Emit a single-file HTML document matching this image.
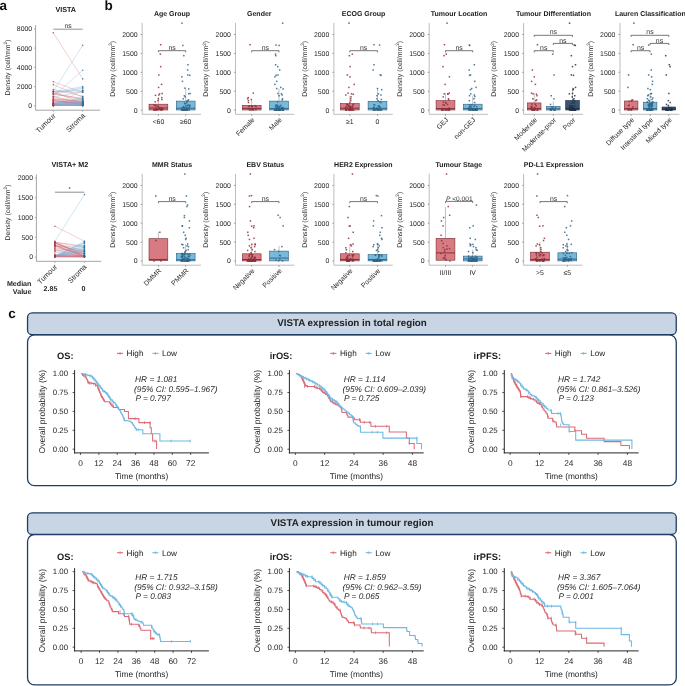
<!DOCTYPE html>
<html><head><meta charset="utf-8"><style>
html,body{margin:0;padding:0;background:#fff;width:685px;height:686px;overflow:hidden;}
svg{display:block;font-family:"Liberation Sans", sans-serif;will-change:transform;text-rendering:geometricPrecision;}
</style></head><body>
<svg width="685" height="686" viewBox="0 0 685 686" font-family="Liberation Sans, sans-serif"><text x="-0.50" y="10.20" font-size="13.5" fill="#111" text-anchor="start" font-weight="bold">a</text>
<text x="104.50" y="10.20" font-size="13.5" fill="#111" text-anchor="start" font-weight="bold">b</text>
<text x="8.30" y="318.30" font-size="13.5" fill="#111" text-anchor="start" font-weight="bold">c</text>
<line x1="35.60" y1="25.20" x2="35.60" y2="110.20" stroke="#9a9a9a" stroke-width="0.9"/>
<line x1="35.60" y1="110.20" x2="100.20" y2="110.20" stroke="#9a9a9a" stroke-width="0.9"/>
<line x1="34.00" y1="105.80" x2="35.60" y2="105.80" stroke="#9a9a9a" stroke-width="0.8"/>
<text x="32.20" y="108.25" font-size="6.9" fill="#262626" text-anchor="end">0</text>
<line x1="34.00" y1="86.57" x2="35.60" y2="86.57" stroke="#9a9a9a" stroke-width="0.8"/>
<text x="32.20" y="89.02" font-size="6.9" fill="#262626" text-anchor="end">2000</text>
<line x1="34.00" y1="67.35" x2="35.60" y2="67.35" stroke="#9a9a9a" stroke-width="0.8"/>
<text x="32.20" y="69.80" font-size="6.9" fill="#262626" text-anchor="end">4000</text>
<line x1="34.00" y1="48.12" x2="35.60" y2="48.12" stroke="#9a9a9a" stroke-width="0.8"/>
<text x="32.20" y="50.57" font-size="6.9" fill="#262626" text-anchor="end">6000</text>
<line x1="34.00" y1="28.90" x2="35.60" y2="28.90" stroke="#9a9a9a" stroke-width="0.8"/>
<text x="32.20" y="31.35" font-size="6.9" fill="#262626" text-anchor="end">8000</text>
<line x1="53.30" y1="110.20" x2="53.30" y2="111.80" stroke="#9a9a9a" stroke-width="0.8"/>
<line x1="82.70" y1="110.20" x2="82.70" y2="111.80" stroke="#9a9a9a" stroke-width="0.8"/>
<text x="65.70" y="12.40" font-size="7.2" fill="#1a1a1a" text-anchor="middle" font-weight="bold">VISTA</text>
<line x1="53.30" y1="32.74" x2="82.70" y2="78.88" stroke="#de6f78" stroke-width="0.45" stroke-opacity="0.75"/>
<line x1="53.30" y1="91.38" x2="82.70" y2="45.24" stroke="#6db8e2" stroke-width="0.45" stroke-opacity="0.75"/>
<line x1="53.30" y1="96.19" x2="82.70" y2="70.23" stroke="#6db8e2" stroke-width="0.45" stroke-opacity="0.75"/>
<line x1="53.30" y1="81.77" x2="82.70" y2="92.34" stroke="#de6f78" stroke-width="0.45" stroke-opacity="0.75"/>
<line x1="53.30" y1="84.65" x2="82.70" y2="97.15" stroke="#de6f78" stroke-width="0.45" stroke-opacity="0.75"/>
<line x1="53.30" y1="89.46" x2="82.70" y2="96.19" stroke="#de6f78" stroke-width="0.45" stroke-opacity="0.75"/>
<line x1="53.30" y1="91.86" x2="82.70" y2="86.57" stroke="#6db8e2" stroke-width="0.45" stroke-opacity="0.75"/>
<line x1="53.30" y1="93.30" x2="82.70" y2="87.54" stroke="#6db8e2" stroke-width="0.45" stroke-opacity="0.75"/>
<line x1="53.30" y1="94.27" x2="82.70" y2="88.50" stroke="#6db8e2" stroke-width="0.45" stroke-opacity="0.75"/>
<line x1="53.30" y1="97.15" x2="82.70" y2="91.38" stroke="#6db8e2" stroke-width="0.45" stroke-opacity="0.75"/>
<line x1="53.30" y1="103.60" x2="82.70" y2="102.49" stroke="#6db8e2" stroke-width="0.45" stroke-opacity="0.75"/>
<line x1="53.30" y1="96.38" x2="82.70" y2="103.27" stroke="#de6f78" stroke-width="0.45" stroke-opacity="0.75"/>
<line x1="53.30" y1="103.21" x2="82.70" y2="102.23" stroke="#6db8e2" stroke-width="0.45" stroke-opacity="0.75"/>
<line x1="53.30" y1="105.05" x2="82.70" y2="102.90" stroke="#6db8e2" stroke-width="0.45" stroke-opacity="0.75"/>
<line x1="53.30" y1="102.17" x2="82.70" y2="99.44" stroke="#6db8e2" stroke-width="0.45" stroke-opacity="0.75"/>
<line x1="53.30" y1="105.44" x2="82.70" y2="104.34" stroke="#6db8e2" stroke-width="0.45" stroke-opacity="0.75"/>
<line x1="53.30" y1="105.45" x2="82.70" y2="99.10" stroke="#6db8e2" stroke-width="0.45" stroke-opacity="0.75"/>
<line x1="53.30" y1="101.48" x2="82.70" y2="105.63" stroke="#de6f78" stroke-width="0.45" stroke-opacity="0.75"/>
<line x1="53.30" y1="91.38" x2="82.70" y2="92.29" stroke="#de6f78" stroke-width="0.45" stroke-opacity="0.75"/>
<line x1="53.30" y1="101.92" x2="82.70" y2="101.94" stroke="#de6f78" stroke-width="0.45" stroke-opacity="0.75"/>
<line x1="53.30" y1="105.17" x2="82.70" y2="105.74" stroke="#de6f78" stroke-width="0.45" stroke-opacity="0.75"/>
<line x1="53.30" y1="103.05" x2="82.70" y2="105.55" stroke="#de6f78" stroke-width="0.45" stroke-opacity="0.75"/>
<line x1="53.30" y1="105.03" x2="82.70" y2="104.68" stroke="#6db8e2" stroke-width="0.45" stroke-opacity="0.75"/>
<line x1="53.30" y1="105.69" x2="82.70" y2="103.28" stroke="#6db8e2" stroke-width="0.45" stroke-opacity="0.75"/>
<line x1="53.30" y1="103.68" x2="82.70" y2="98.34" stroke="#6db8e2" stroke-width="0.45" stroke-opacity="0.75"/>
<line x1="53.30" y1="103.13" x2="82.70" y2="101.67" stroke="#6db8e2" stroke-width="0.45" stroke-opacity="0.75"/>
<line x1="53.30" y1="103.27" x2="82.70" y2="101.42" stroke="#6db8e2" stroke-width="0.45" stroke-opacity="0.75"/>
<line x1="53.30" y1="103.57" x2="82.70" y2="104.48" stroke="#de6f78" stroke-width="0.45" stroke-opacity="0.75"/>
<line x1="53.30" y1="91.38" x2="82.70" y2="90.42" stroke="#6db8e2" stroke-width="0.45" stroke-opacity="0.75"/>
<line x1="53.30" y1="99.10" x2="82.70" y2="100.83" stroke="#de6f78" stroke-width="0.45" stroke-opacity="0.75"/>
<line x1="53.30" y1="104.42" x2="82.70" y2="104.75" stroke="#de6f78" stroke-width="0.45" stroke-opacity="0.75"/>
<line x1="53.30" y1="104.55" x2="82.70" y2="105.51" stroke="#de6f78" stroke-width="0.45" stroke-opacity="0.75"/>
<line x1="53.30" y1="100.49" x2="82.70" y2="103.73" stroke="#de6f78" stroke-width="0.45" stroke-opacity="0.75"/>
<line x1="53.30" y1="98.95" x2="82.70" y2="103.83" stroke="#de6f78" stroke-width="0.45" stroke-opacity="0.75"/>
<line x1="53.30" y1="94.22" x2="82.70" y2="98.21" stroke="#de6f78" stroke-width="0.45" stroke-opacity="0.75"/>
<line x1="53.30" y1="105.80" x2="82.70" y2="104.85" stroke="#6db8e2" stroke-width="0.45" stroke-opacity="0.75"/>
<line x1="53.30" y1="96.99" x2="82.70" y2="103.24" stroke="#de6f78" stroke-width="0.45" stroke-opacity="0.75"/>
<line x1="53.30" y1="91.44" x2="82.70" y2="103.75" stroke="#de6f78" stroke-width="0.45" stroke-opacity="0.75"/>
<line x1="53.30" y1="105.52" x2="82.70" y2="101.79" stroke="#6db8e2" stroke-width="0.45" stroke-opacity="0.75"/>
<line x1="53.30" y1="100.29" x2="82.70" y2="104.53" stroke="#de6f78" stroke-width="0.45" stroke-opacity="0.75"/>
<line x1="53.30" y1="105.47" x2="82.70" y2="104.17" stroke="#6db8e2" stroke-width="0.45" stroke-opacity="0.75"/>
<line x1="53.30" y1="93.65" x2="82.70" y2="100.07" stroke="#de6f78" stroke-width="0.45" stroke-opacity="0.75"/>
<line x1="53.30" y1="105.34" x2="82.70" y2="104.66" stroke="#6db8e2" stroke-width="0.45" stroke-opacity="0.75"/>
<line x1="53.30" y1="105.41" x2="82.70" y2="105.55" stroke="#de6f78" stroke-width="0.45" stroke-opacity="0.75"/>
<line x1="53.30" y1="99.98" x2="82.70" y2="105.01" stroke="#de6f78" stroke-width="0.45" stroke-opacity="0.75"/>
<line x1="53.30" y1="102.81" x2="82.70" y2="103.41" stroke="#de6f78" stroke-width="0.45" stroke-opacity="0.75"/>
<line x1="53.30" y1="105.03" x2="82.70" y2="100.49" stroke="#6db8e2" stroke-width="0.45" stroke-opacity="0.75"/>
<line x1="53.30" y1="105.29" x2="82.70" y2="101.63" stroke="#6db8e2" stroke-width="0.45" stroke-opacity="0.75"/>
<line x1="53.30" y1="105.35" x2="82.70" y2="103.60" stroke="#6db8e2" stroke-width="0.45" stroke-opacity="0.75"/>
<line x1="53.30" y1="104.93" x2="82.70" y2="104.53" stroke="#6db8e2" stroke-width="0.45" stroke-opacity="0.75"/>
<line x1="53.30" y1="92.88" x2="82.70" y2="99.23" stroke="#de6f78" stroke-width="0.45" stroke-opacity="0.75"/>
<line x1="53.30" y1="104.48" x2="82.70" y2="97.07" stroke="#6db8e2" stroke-width="0.45" stroke-opacity="0.75"/>
<line x1="53.30" y1="104.94" x2="82.70" y2="103.78" stroke="#6db8e2" stroke-width="0.45" stroke-opacity="0.75"/>
<line x1="53.30" y1="98.76" x2="82.70" y2="101.65" stroke="#de6f78" stroke-width="0.45" stroke-opacity="0.75"/>
<line x1="53.30" y1="105.41" x2="82.70" y2="90.42" stroke="#6db8e2" stroke-width="0.45" stroke-opacity="0.75"/>
<line x1="53.30" y1="104.92" x2="82.70" y2="104.59" stroke="#6db8e2" stroke-width="0.45" stroke-opacity="0.75"/>
<line x1="53.30" y1="100.39" x2="82.70" y2="104.19" stroke="#de6f78" stroke-width="0.45" stroke-opacity="0.75"/>
<line x1="53.30" y1="104.52" x2="82.70" y2="105.49" stroke="#de6f78" stroke-width="0.45" stroke-opacity="0.75"/>
<circle cx="53.30" cy="32.74" r="0.8" fill="#a33b4a" fill-opacity="0.8"/>
<circle cx="53.30" cy="91.38" r="0.8" fill="#a33b4a" fill-opacity="0.8"/>
<circle cx="53.30" cy="96.19" r="0.8" fill="#a33b4a" fill-opacity="0.8"/>
<circle cx="53.30" cy="81.77" r="0.8" fill="#a33b4a" fill-opacity="0.8"/>
<circle cx="53.30" cy="84.65" r="0.8" fill="#a33b4a" fill-opacity="0.8"/>
<circle cx="53.30" cy="89.46" r="0.8" fill="#a33b4a" fill-opacity="0.8"/>
<circle cx="53.30" cy="91.86" r="0.8" fill="#a33b4a" fill-opacity="0.8"/>
<circle cx="53.30" cy="93.30" r="0.8" fill="#a33b4a" fill-opacity="0.8"/>
<circle cx="53.30" cy="94.27" r="0.8" fill="#a33b4a" fill-opacity="0.8"/>
<circle cx="53.30" cy="97.15" r="0.8" fill="#a33b4a" fill-opacity="0.8"/>
<circle cx="53.30" cy="103.60" r="0.8" fill="#a33b4a" fill-opacity="0.8"/>
<circle cx="53.30" cy="96.38" r="0.8" fill="#a33b4a" fill-opacity="0.8"/>
<circle cx="53.30" cy="103.21" r="0.8" fill="#a33b4a" fill-opacity="0.8"/>
<circle cx="53.30" cy="105.05" r="0.8" fill="#a33b4a" fill-opacity="0.8"/>
<circle cx="53.30" cy="102.17" r="0.8" fill="#a33b4a" fill-opacity="0.8"/>
<circle cx="53.30" cy="105.44" r="0.8" fill="#a33b4a" fill-opacity="0.8"/>
<circle cx="53.30" cy="105.45" r="0.8" fill="#a33b4a" fill-opacity="0.8"/>
<circle cx="53.30" cy="101.48" r="0.8" fill="#a33b4a" fill-opacity="0.8"/>
<circle cx="53.30" cy="91.38" r="0.8" fill="#a33b4a" fill-opacity="0.8"/>
<circle cx="53.30" cy="101.92" r="0.8" fill="#a33b4a" fill-opacity="0.8"/>
<circle cx="53.30" cy="105.17" r="0.8" fill="#a33b4a" fill-opacity="0.8"/>
<circle cx="53.30" cy="103.05" r="0.8" fill="#a33b4a" fill-opacity="0.8"/>
<circle cx="53.30" cy="105.03" r="0.8" fill="#a33b4a" fill-opacity="0.8"/>
<circle cx="53.30" cy="105.69" r="0.8" fill="#a33b4a" fill-opacity="0.8"/>
<circle cx="53.30" cy="103.68" r="0.8" fill="#a33b4a" fill-opacity="0.8"/>
<circle cx="53.30" cy="103.13" r="0.8" fill="#a33b4a" fill-opacity="0.8"/>
<circle cx="53.30" cy="103.27" r="0.8" fill="#a33b4a" fill-opacity="0.8"/>
<circle cx="53.30" cy="103.57" r="0.8" fill="#a33b4a" fill-opacity="0.8"/>
<circle cx="53.30" cy="91.38" r="0.8" fill="#a33b4a" fill-opacity="0.8"/>
<circle cx="53.30" cy="99.10" r="0.8" fill="#a33b4a" fill-opacity="0.8"/>
<circle cx="53.30" cy="104.42" r="0.8" fill="#a33b4a" fill-opacity="0.8"/>
<circle cx="53.30" cy="104.55" r="0.8" fill="#a33b4a" fill-opacity="0.8"/>
<circle cx="53.30" cy="100.49" r="0.8" fill="#a33b4a" fill-opacity="0.8"/>
<circle cx="53.30" cy="98.95" r="0.8" fill="#a33b4a" fill-opacity="0.8"/>
<circle cx="53.30" cy="94.22" r="0.8" fill="#a33b4a" fill-opacity="0.8"/>
<circle cx="53.30" cy="105.80" r="0.8" fill="#a33b4a" fill-opacity="0.8"/>
<circle cx="53.30" cy="96.99" r="0.8" fill="#a33b4a" fill-opacity="0.8"/>
<circle cx="53.30" cy="91.44" r="0.8" fill="#a33b4a" fill-opacity="0.8"/>
<circle cx="53.30" cy="105.52" r="0.8" fill="#a33b4a" fill-opacity="0.8"/>
<circle cx="53.30" cy="100.29" r="0.8" fill="#a33b4a" fill-opacity="0.8"/>
<circle cx="53.30" cy="105.47" r="0.8" fill="#a33b4a" fill-opacity="0.8"/>
<circle cx="53.30" cy="93.65" r="0.8" fill="#a33b4a" fill-opacity="0.8"/>
<circle cx="53.30" cy="105.34" r="0.8" fill="#a33b4a" fill-opacity="0.8"/>
<circle cx="53.30" cy="105.41" r="0.8" fill="#a33b4a" fill-opacity="0.8"/>
<circle cx="53.30" cy="99.98" r="0.8" fill="#a33b4a" fill-opacity="0.8"/>
<circle cx="53.30" cy="102.81" r="0.8" fill="#a33b4a" fill-opacity="0.8"/>
<circle cx="53.30" cy="105.03" r="0.8" fill="#a33b4a" fill-opacity="0.8"/>
<circle cx="53.30" cy="105.29" r="0.8" fill="#a33b4a" fill-opacity="0.8"/>
<circle cx="53.30" cy="105.35" r="0.8" fill="#a33b4a" fill-opacity="0.8"/>
<circle cx="53.30" cy="104.93" r="0.8" fill="#a33b4a" fill-opacity="0.8"/>
<circle cx="53.30" cy="92.88" r="0.8" fill="#a33b4a" fill-opacity="0.8"/>
<circle cx="53.30" cy="104.48" r="0.8" fill="#a33b4a" fill-opacity="0.8"/>
<circle cx="53.30" cy="104.94" r="0.8" fill="#a33b4a" fill-opacity="0.8"/>
<circle cx="53.30" cy="98.76" r="0.8" fill="#a33b4a" fill-opacity="0.8"/>
<circle cx="53.30" cy="105.41" r="0.8" fill="#a33b4a" fill-opacity="0.8"/>
<circle cx="53.30" cy="104.92" r="0.8" fill="#a33b4a" fill-opacity="0.8"/>
<circle cx="53.30" cy="100.39" r="0.8" fill="#a33b4a" fill-opacity="0.8"/>
<circle cx="53.30" cy="104.52" r="0.8" fill="#a33b4a" fill-opacity="0.8"/>
<circle cx="82.70" cy="78.88" r="0.8" fill="#2f6b93" fill-opacity="0.8"/>
<circle cx="82.70" cy="45.24" r="0.8" fill="#2f6b93" fill-opacity="0.8"/>
<circle cx="82.70" cy="70.23" r="0.8" fill="#2f6b93" fill-opacity="0.8"/>
<circle cx="82.70" cy="92.34" r="0.8" fill="#2f6b93" fill-opacity="0.8"/>
<circle cx="82.70" cy="97.15" r="0.8" fill="#2f6b93" fill-opacity="0.8"/>
<circle cx="82.70" cy="96.19" r="0.8" fill="#2f6b93" fill-opacity="0.8"/>
<circle cx="82.70" cy="86.57" r="0.8" fill="#2f6b93" fill-opacity="0.8"/>
<circle cx="82.70" cy="87.54" r="0.8" fill="#2f6b93" fill-opacity="0.8"/>
<circle cx="82.70" cy="88.50" r="0.8" fill="#2f6b93" fill-opacity="0.8"/>
<circle cx="82.70" cy="91.38" r="0.8" fill="#2f6b93" fill-opacity="0.8"/>
<circle cx="82.70" cy="102.49" r="0.8" fill="#2f6b93" fill-opacity="0.8"/>
<circle cx="82.70" cy="103.27" r="0.8" fill="#2f6b93" fill-opacity="0.8"/>
<circle cx="82.70" cy="102.23" r="0.8" fill="#2f6b93" fill-opacity="0.8"/>
<circle cx="82.70" cy="102.90" r="0.8" fill="#2f6b93" fill-opacity="0.8"/>
<circle cx="82.70" cy="99.44" r="0.8" fill="#2f6b93" fill-opacity="0.8"/>
<circle cx="82.70" cy="104.34" r="0.8" fill="#2f6b93" fill-opacity="0.8"/>
<circle cx="82.70" cy="99.10" r="0.8" fill="#2f6b93" fill-opacity="0.8"/>
<circle cx="82.70" cy="105.63" r="0.8" fill="#2f6b93" fill-opacity="0.8"/>
<circle cx="82.70" cy="92.29" r="0.8" fill="#2f6b93" fill-opacity="0.8"/>
<circle cx="82.70" cy="101.94" r="0.8" fill="#2f6b93" fill-opacity="0.8"/>
<circle cx="82.70" cy="105.74" r="0.8" fill="#2f6b93" fill-opacity="0.8"/>
<circle cx="82.70" cy="105.55" r="0.8" fill="#2f6b93" fill-opacity="0.8"/>
<circle cx="82.70" cy="104.68" r="0.8" fill="#2f6b93" fill-opacity="0.8"/>
<circle cx="82.70" cy="103.28" r="0.8" fill="#2f6b93" fill-opacity="0.8"/>
<circle cx="82.70" cy="98.34" r="0.8" fill="#2f6b93" fill-opacity="0.8"/>
<circle cx="82.70" cy="101.67" r="0.8" fill="#2f6b93" fill-opacity="0.8"/>
<circle cx="82.70" cy="101.42" r="0.8" fill="#2f6b93" fill-opacity="0.8"/>
<circle cx="82.70" cy="104.48" r="0.8" fill="#2f6b93" fill-opacity="0.8"/>
<circle cx="82.70" cy="90.42" r="0.8" fill="#2f6b93" fill-opacity="0.8"/>
<circle cx="82.70" cy="100.83" r="0.8" fill="#2f6b93" fill-opacity="0.8"/>
<circle cx="82.70" cy="104.75" r="0.8" fill="#2f6b93" fill-opacity="0.8"/>
<circle cx="82.70" cy="105.51" r="0.8" fill="#2f6b93" fill-opacity="0.8"/>
<circle cx="82.70" cy="103.73" r="0.8" fill="#2f6b93" fill-opacity="0.8"/>
<circle cx="82.70" cy="103.83" r="0.8" fill="#2f6b93" fill-opacity="0.8"/>
<circle cx="82.70" cy="98.21" r="0.8" fill="#2f6b93" fill-opacity="0.8"/>
<circle cx="82.70" cy="104.85" r="0.8" fill="#2f6b93" fill-opacity="0.8"/>
<circle cx="82.70" cy="103.24" r="0.8" fill="#2f6b93" fill-opacity="0.8"/>
<circle cx="82.70" cy="103.75" r="0.8" fill="#2f6b93" fill-opacity="0.8"/>
<circle cx="82.70" cy="101.79" r="0.8" fill="#2f6b93" fill-opacity="0.8"/>
<circle cx="82.70" cy="104.53" r="0.8" fill="#2f6b93" fill-opacity="0.8"/>
<circle cx="82.70" cy="104.17" r="0.8" fill="#2f6b93" fill-opacity="0.8"/>
<circle cx="82.70" cy="100.07" r="0.8" fill="#2f6b93" fill-opacity="0.8"/>
<circle cx="82.70" cy="104.66" r="0.8" fill="#2f6b93" fill-opacity="0.8"/>
<circle cx="82.70" cy="105.55" r="0.8" fill="#2f6b93" fill-opacity="0.8"/>
<circle cx="82.70" cy="105.01" r="0.8" fill="#2f6b93" fill-opacity="0.8"/>
<circle cx="82.70" cy="103.41" r="0.8" fill="#2f6b93" fill-opacity="0.8"/>
<circle cx="82.70" cy="100.49" r="0.8" fill="#2f6b93" fill-opacity="0.8"/>
<circle cx="82.70" cy="101.63" r="0.8" fill="#2f6b93" fill-opacity="0.8"/>
<circle cx="82.70" cy="103.60" r="0.8" fill="#2f6b93" fill-opacity="0.8"/>
<circle cx="82.70" cy="104.53" r="0.8" fill="#2f6b93" fill-opacity="0.8"/>
<circle cx="82.70" cy="99.23" r="0.8" fill="#2f6b93" fill-opacity="0.8"/>
<circle cx="82.70" cy="97.07" r="0.8" fill="#2f6b93" fill-opacity="0.8"/>
<circle cx="82.70" cy="103.78" r="0.8" fill="#2f6b93" fill-opacity="0.8"/>
<circle cx="82.70" cy="101.65" r="0.8" fill="#2f6b93" fill-opacity="0.8"/>
<circle cx="82.70" cy="90.42" r="0.8" fill="#2f6b93" fill-opacity="0.8"/>
<circle cx="82.70" cy="104.59" r="0.8" fill="#2f6b93" fill-opacity="0.8"/>
<circle cx="82.70" cy="104.19" r="0.8" fill="#2f6b93" fill-opacity="0.8"/>
<circle cx="82.70" cy="105.49" r="0.8" fill="#2f6b93" fill-opacity="0.8"/>
<line x1="53.30" y1="29.20" x2="82.70" y2="29.20" stroke="#777" stroke-width="0.8"/>
<text x="68.00" y="28.20" font-size="6.8" fill="#333" text-anchor="middle">ns</text>
<text x="56.10" y="116.20" font-size="7.2" fill="#262626" text-anchor="end" transform="rotate(-45 56.10 116.20)">Tumour</text>
<text x="85.50" y="116.20" font-size="7.2" fill="#262626" text-anchor="end" transform="rotate(-45 85.50 116.20)">Stroma</text>
<text x="10.30" y="67.50" font-size="6.9" fill="#262626" text-anchor="middle" transform="rotate(-90 10.30 67.50)">Density (cell/mm<tspan font-size="4.8" dy="-2.8">2</tspan><tspan dy="2.8">)</tspan></text>
<line x1="36.40" y1="174.40" x2="36.40" y2="261.30" stroke="#9a9a9a" stroke-width="0.9"/>
<line x1="36.40" y1="261.30" x2="101.20" y2="261.30" stroke="#9a9a9a" stroke-width="0.9"/>
<line x1="34.80" y1="257.00" x2="36.40" y2="257.00" stroke="#9a9a9a" stroke-width="0.8"/>
<text x="33.00" y="259.45" font-size="6.9" fill="#262626" text-anchor="end">0</text>
<line x1="34.80" y1="237.25" x2="36.40" y2="237.25" stroke="#9a9a9a" stroke-width="0.8"/>
<text x="33.00" y="239.70" font-size="6.9" fill="#262626" text-anchor="end">500</text>
<line x1="34.80" y1="217.50" x2="36.40" y2="217.50" stroke="#9a9a9a" stroke-width="0.8"/>
<text x="33.00" y="219.95" font-size="6.9" fill="#262626" text-anchor="end">1000</text>
<line x1="34.80" y1="197.75" x2="36.40" y2="197.75" stroke="#9a9a9a" stroke-width="0.8"/>
<text x="33.00" y="200.20" font-size="6.9" fill="#262626" text-anchor="end">1500</text>
<line x1="34.80" y1="178.00" x2="36.40" y2="178.00" stroke="#9a9a9a" stroke-width="0.8"/>
<text x="33.00" y="180.45" font-size="6.9" fill="#262626" text-anchor="end">2000</text>
<line x1="54.90" y1="261.30" x2="54.90" y2="262.90" stroke="#9a9a9a" stroke-width="0.8"/>
<line x1="84.40" y1="261.30" x2="84.40" y2="262.90" stroke="#9a9a9a" stroke-width="0.8"/>
<text x="69.90" y="166.50" font-size="7.2" fill="#1a1a1a" text-anchor="middle" font-weight="bold">VISTA+ M2</text>
<line x1="54.90" y1="226.19" x2="84.40" y2="241.20" stroke="#de6f78" stroke-width="0.45" stroke-opacity="0.75"/>
<line x1="54.90" y1="241.20" x2="84.40" y2="194.59" stroke="#6db8e2" stroke-width="0.45" stroke-opacity="0.75"/>
<line x1="54.90" y1="243.18" x2="84.40" y2="253.84" stroke="#de6f78" stroke-width="0.45" stroke-opacity="0.75"/>
<line x1="54.90" y1="245.15" x2="84.40" y2="256.21" stroke="#de6f78" stroke-width="0.45" stroke-opacity="0.75"/>
<line x1="54.90" y1="241.99" x2="84.40" y2="255.03" stroke="#de6f78" stroke-width="0.45" stroke-opacity="0.75"/>
<line x1="54.90" y1="256.27" x2="84.40" y2="256.07" stroke="#6db8e2" stroke-width="0.45" stroke-opacity="0.75"/>
<line x1="54.90" y1="256.09" x2="84.40" y2="251.15" stroke="#6db8e2" stroke-width="0.45" stroke-opacity="0.75"/>
<line x1="54.90" y1="256.36" x2="84.40" y2="256.89" stroke="#de6f78" stroke-width="0.45" stroke-opacity="0.75"/>
<line x1="54.90" y1="255.32" x2="84.40" y2="249.32" stroke="#6db8e2" stroke-width="0.45" stroke-opacity="0.75"/>
<line x1="54.90" y1="255.63" x2="84.40" y2="242.90" stroke="#6db8e2" stroke-width="0.45" stroke-opacity="0.75"/>
<line x1="54.90" y1="256.84" x2="84.40" y2="256.86" stroke="#de6f78" stroke-width="0.45" stroke-opacity="0.75"/>
<line x1="54.90" y1="256.87" x2="84.40" y2="243.79" stroke="#6db8e2" stroke-width="0.45" stroke-opacity="0.75"/>
<line x1="54.90" y1="255.64" x2="84.40" y2="256.14" stroke="#de6f78" stroke-width="0.45" stroke-opacity="0.75"/>
<line x1="54.90" y1="242.16" x2="84.40" y2="247.47" stroke="#de6f78" stroke-width="0.45" stroke-opacity="0.75"/>
<line x1="54.90" y1="242.67" x2="84.40" y2="256.05" stroke="#de6f78" stroke-width="0.45" stroke-opacity="0.75"/>
<line x1="54.90" y1="256.70" x2="84.40" y2="255.47" stroke="#6db8e2" stroke-width="0.45" stroke-opacity="0.75"/>
<line x1="54.90" y1="256.80" x2="84.40" y2="248.81" stroke="#6db8e2" stroke-width="0.45" stroke-opacity="0.75"/>
<line x1="54.90" y1="248.52" x2="84.40" y2="253.55" stroke="#de6f78" stroke-width="0.45" stroke-opacity="0.75"/>
<line x1="54.90" y1="256.53" x2="84.40" y2="250.89" stroke="#6db8e2" stroke-width="0.45" stroke-opacity="0.75"/>
<line x1="54.90" y1="256.94" x2="84.40" y2="256.98" stroke="#de6f78" stroke-width="0.45" stroke-opacity="0.75"/>
<line x1="54.90" y1="256.17" x2="84.40" y2="245.41" stroke="#6db8e2" stroke-width="0.45" stroke-opacity="0.75"/>
<line x1="54.90" y1="250.42" x2="84.40" y2="256.71" stroke="#de6f78" stroke-width="0.45" stroke-opacity="0.75"/>
<line x1="54.90" y1="242.32" x2="84.40" y2="246.02" stroke="#de6f78" stroke-width="0.45" stroke-opacity="0.75"/>
<line x1="54.90" y1="256.07" x2="84.40" y2="252.89" stroke="#6db8e2" stroke-width="0.45" stroke-opacity="0.75"/>
<line x1="54.90" y1="246.48" x2="84.40" y2="246.16" stroke="#6db8e2" stroke-width="0.45" stroke-opacity="0.75"/>
<line x1="54.90" y1="256.15" x2="84.40" y2="242.30" stroke="#6db8e2" stroke-width="0.45" stroke-opacity="0.75"/>
<line x1="54.90" y1="254.18" x2="84.40" y2="256.09" stroke="#de6f78" stroke-width="0.45" stroke-opacity="0.75"/>
<line x1="54.90" y1="243.07" x2="84.40" y2="253.52" stroke="#de6f78" stroke-width="0.45" stroke-opacity="0.75"/>
<line x1="54.90" y1="256.01" x2="84.40" y2="255.67" stroke="#6db8e2" stroke-width="0.45" stroke-opacity="0.75"/>
<line x1="54.90" y1="256.02" x2="84.40" y2="256.69" stroke="#de6f78" stroke-width="0.45" stroke-opacity="0.75"/>
<line x1="54.90" y1="256.47" x2="84.40" y2="254.56" stroke="#6db8e2" stroke-width="0.45" stroke-opacity="0.75"/>
<line x1="54.90" y1="245.36" x2="84.40" y2="251.86" stroke="#de6f78" stroke-width="0.45" stroke-opacity="0.75"/>
<line x1="54.90" y1="243.27" x2="84.40" y2="250.69" stroke="#de6f78" stroke-width="0.45" stroke-opacity="0.75"/>
<line x1="54.90" y1="256.87" x2="84.40" y2="256.06" stroke="#6db8e2" stroke-width="0.45" stroke-opacity="0.75"/>
<line x1="54.90" y1="256.22" x2="84.40" y2="251.65" stroke="#6db8e2" stroke-width="0.45" stroke-opacity="0.75"/>
<line x1="54.90" y1="244.94" x2="84.40" y2="251.35" stroke="#de6f78" stroke-width="0.45" stroke-opacity="0.75"/>
<line x1="54.90" y1="256.16" x2="84.40" y2="256.55" stroke="#de6f78" stroke-width="0.45" stroke-opacity="0.75"/>
<line x1="54.90" y1="247.46" x2="84.40" y2="253.82" stroke="#de6f78" stroke-width="0.45" stroke-opacity="0.75"/>
<line x1="54.90" y1="256.27" x2="84.40" y2="241.44" stroke="#6db8e2" stroke-width="0.45" stroke-opacity="0.75"/>
<line x1="54.90" y1="256.38" x2="84.40" y2="253.14" stroke="#6db8e2" stroke-width="0.45" stroke-opacity="0.75"/>
<line x1="54.90" y1="255.03" x2="84.40" y2="256.14" stroke="#de6f78" stroke-width="0.45" stroke-opacity="0.75"/>
<line x1="54.90" y1="246.25" x2="84.40" y2="256.31" stroke="#de6f78" stroke-width="0.45" stroke-opacity="0.75"/>
<line x1="54.90" y1="256.25" x2="84.40" y2="246.98" stroke="#6db8e2" stroke-width="0.45" stroke-opacity="0.75"/>
<line x1="54.90" y1="252.02" x2="84.40" y2="256.32" stroke="#de6f78" stroke-width="0.45" stroke-opacity="0.75"/>
<line x1="54.90" y1="242.55" x2="84.40" y2="256.43" stroke="#de6f78" stroke-width="0.45" stroke-opacity="0.75"/>
<line x1="54.90" y1="250.98" x2="84.40" y2="247.58" stroke="#6db8e2" stroke-width="0.45" stroke-opacity="0.75"/>
<line x1="54.90" y1="245.57" x2="84.40" y2="256.21" stroke="#de6f78" stroke-width="0.45" stroke-opacity="0.75"/>
<line x1="54.90" y1="249.18" x2="84.40" y2="256.18" stroke="#de6f78" stroke-width="0.45" stroke-opacity="0.75"/>
<line x1="54.90" y1="244.98" x2="84.40" y2="256.32" stroke="#de6f78" stroke-width="0.45" stroke-opacity="0.75"/>
<line x1="54.90" y1="256.06" x2="84.40" y2="250.09" stroke="#6db8e2" stroke-width="0.45" stroke-opacity="0.75"/>
<line x1="54.90" y1="245.12" x2="84.40" y2="256.53" stroke="#de6f78" stroke-width="0.45" stroke-opacity="0.75"/>
<line x1="54.90" y1="256.29" x2="84.40" y2="256.83" stroke="#de6f78" stroke-width="0.45" stroke-opacity="0.75"/>
<line x1="54.90" y1="256.43" x2="84.40" y2="256.58" stroke="#de6f78" stroke-width="0.45" stroke-opacity="0.75"/>
<line x1="54.90" y1="256.23" x2="84.40" y2="256.29" stroke="#de6f78" stroke-width="0.45" stroke-opacity="0.75"/>
<line x1="54.90" y1="256.16" x2="84.40" y2="247.97" stroke="#6db8e2" stroke-width="0.45" stroke-opacity="0.75"/>
<circle cx="54.90" cy="226.19" r="0.8" fill="#a33b4a" fill-opacity="0.8"/>
<circle cx="54.90" cy="241.20" r="0.8" fill="#a33b4a" fill-opacity="0.8"/>
<circle cx="54.90" cy="243.18" r="0.8" fill="#a33b4a" fill-opacity="0.8"/>
<circle cx="54.90" cy="245.15" r="0.8" fill="#a33b4a" fill-opacity="0.8"/>
<circle cx="54.90" cy="241.99" r="0.8" fill="#a33b4a" fill-opacity="0.8"/>
<circle cx="54.90" cy="256.27" r="0.8" fill="#a33b4a" fill-opacity="0.8"/>
<circle cx="54.90" cy="256.09" r="0.8" fill="#a33b4a" fill-opacity="0.8"/>
<circle cx="54.90" cy="256.36" r="0.8" fill="#a33b4a" fill-opacity="0.8"/>
<circle cx="54.90" cy="255.32" r="0.8" fill="#a33b4a" fill-opacity="0.8"/>
<circle cx="54.90" cy="255.63" r="0.8" fill="#a33b4a" fill-opacity="0.8"/>
<circle cx="54.90" cy="256.84" r="0.8" fill="#a33b4a" fill-opacity="0.8"/>
<circle cx="54.90" cy="256.87" r="0.8" fill="#a33b4a" fill-opacity="0.8"/>
<circle cx="54.90" cy="255.64" r="0.8" fill="#a33b4a" fill-opacity="0.8"/>
<circle cx="54.90" cy="242.16" r="0.8" fill="#a33b4a" fill-opacity="0.8"/>
<circle cx="54.90" cy="242.67" r="0.8" fill="#a33b4a" fill-opacity="0.8"/>
<circle cx="54.90" cy="256.70" r="0.8" fill="#a33b4a" fill-opacity="0.8"/>
<circle cx="54.90" cy="256.80" r="0.8" fill="#a33b4a" fill-opacity="0.8"/>
<circle cx="54.90" cy="248.52" r="0.8" fill="#a33b4a" fill-opacity="0.8"/>
<circle cx="54.90" cy="256.53" r="0.8" fill="#a33b4a" fill-opacity="0.8"/>
<circle cx="54.90" cy="256.94" r="0.8" fill="#a33b4a" fill-opacity="0.8"/>
<circle cx="54.90" cy="256.17" r="0.8" fill="#a33b4a" fill-opacity="0.8"/>
<circle cx="54.90" cy="250.42" r="0.8" fill="#a33b4a" fill-opacity="0.8"/>
<circle cx="54.90" cy="242.32" r="0.8" fill="#a33b4a" fill-opacity="0.8"/>
<circle cx="54.90" cy="256.07" r="0.8" fill="#a33b4a" fill-opacity="0.8"/>
<circle cx="54.90" cy="246.48" r="0.8" fill="#a33b4a" fill-opacity="0.8"/>
<circle cx="54.90" cy="256.15" r="0.8" fill="#a33b4a" fill-opacity="0.8"/>
<circle cx="54.90" cy="254.18" r="0.8" fill="#a33b4a" fill-opacity="0.8"/>
<circle cx="54.90" cy="243.07" r="0.8" fill="#a33b4a" fill-opacity="0.8"/>
<circle cx="54.90" cy="256.01" r="0.8" fill="#a33b4a" fill-opacity="0.8"/>
<circle cx="54.90" cy="256.02" r="0.8" fill="#a33b4a" fill-opacity="0.8"/>
<circle cx="54.90" cy="256.47" r="0.8" fill="#a33b4a" fill-opacity="0.8"/>
<circle cx="54.90" cy="245.36" r="0.8" fill="#a33b4a" fill-opacity="0.8"/>
<circle cx="54.90" cy="243.27" r="0.8" fill="#a33b4a" fill-opacity="0.8"/>
<circle cx="54.90" cy="256.87" r="0.8" fill="#a33b4a" fill-opacity="0.8"/>
<circle cx="54.90" cy="256.22" r="0.8" fill="#a33b4a" fill-opacity="0.8"/>
<circle cx="54.90" cy="244.94" r="0.8" fill="#a33b4a" fill-opacity="0.8"/>
<circle cx="54.90" cy="256.16" r="0.8" fill="#a33b4a" fill-opacity="0.8"/>
<circle cx="54.90" cy="247.46" r="0.8" fill="#a33b4a" fill-opacity="0.8"/>
<circle cx="54.90" cy="256.27" r="0.8" fill="#a33b4a" fill-opacity="0.8"/>
<circle cx="54.90" cy="256.38" r="0.8" fill="#a33b4a" fill-opacity="0.8"/>
<circle cx="54.90" cy="255.03" r="0.8" fill="#a33b4a" fill-opacity="0.8"/>
<circle cx="54.90" cy="246.25" r="0.8" fill="#a33b4a" fill-opacity="0.8"/>
<circle cx="54.90" cy="256.25" r="0.8" fill="#a33b4a" fill-opacity="0.8"/>
<circle cx="54.90" cy="252.02" r="0.8" fill="#a33b4a" fill-opacity="0.8"/>
<circle cx="54.90" cy="242.55" r="0.8" fill="#a33b4a" fill-opacity="0.8"/>
<circle cx="54.90" cy="250.98" r="0.8" fill="#a33b4a" fill-opacity="0.8"/>
<circle cx="54.90" cy="245.57" r="0.8" fill="#a33b4a" fill-opacity="0.8"/>
<circle cx="54.90" cy="249.18" r="0.8" fill="#a33b4a" fill-opacity="0.8"/>
<circle cx="54.90" cy="244.98" r="0.8" fill="#a33b4a" fill-opacity="0.8"/>
<circle cx="54.90" cy="256.06" r="0.8" fill="#a33b4a" fill-opacity="0.8"/>
<circle cx="54.90" cy="245.12" r="0.8" fill="#a33b4a" fill-opacity="0.8"/>
<circle cx="54.90" cy="256.29" r="0.8" fill="#a33b4a" fill-opacity="0.8"/>
<circle cx="54.90" cy="256.43" r="0.8" fill="#a33b4a" fill-opacity="0.8"/>
<circle cx="54.90" cy="256.23" r="0.8" fill="#a33b4a" fill-opacity="0.8"/>
<circle cx="54.90" cy="256.16" r="0.8" fill="#a33b4a" fill-opacity="0.8"/>
<circle cx="84.40" cy="241.20" r="0.8" fill="#2f6b93" fill-opacity="0.8"/>
<circle cx="84.40" cy="194.59" r="0.8" fill="#2f6b93" fill-opacity="0.8"/>
<circle cx="84.40" cy="253.84" r="0.8" fill="#2f6b93" fill-opacity="0.8"/>
<circle cx="84.40" cy="256.21" r="0.8" fill="#2f6b93" fill-opacity="0.8"/>
<circle cx="84.40" cy="255.03" r="0.8" fill="#2f6b93" fill-opacity="0.8"/>
<circle cx="84.40" cy="256.07" r="0.8" fill="#2f6b93" fill-opacity="0.8"/>
<circle cx="84.40" cy="251.15" r="0.8" fill="#2f6b93" fill-opacity="0.8"/>
<circle cx="84.40" cy="256.89" r="0.8" fill="#2f6b93" fill-opacity="0.8"/>
<circle cx="84.40" cy="249.32" r="0.8" fill="#2f6b93" fill-opacity="0.8"/>
<circle cx="84.40" cy="242.90" r="0.8" fill="#2f6b93" fill-opacity="0.8"/>
<circle cx="84.40" cy="256.86" r="0.8" fill="#2f6b93" fill-opacity="0.8"/>
<circle cx="84.40" cy="243.79" r="0.8" fill="#2f6b93" fill-opacity="0.8"/>
<circle cx="84.40" cy="256.14" r="0.8" fill="#2f6b93" fill-opacity="0.8"/>
<circle cx="84.40" cy="247.47" r="0.8" fill="#2f6b93" fill-opacity="0.8"/>
<circle cx="84.40" cy="256.05" r="0.8" fill="#2f6b93" fill-opacity="0.8"/>
<circle cx="84.40" cy="255.47" r="0.8" fill="#2f6b93" fill-opacity="0.8"/>
<circle cx="84.40" cy="248.81" r="0.8" fill="#2f6b93" fill-opacity="0.8"/>
<circle cx="84.40" cy="253.55" r="0.8" fill="#2f6b93" fill-opacity="0.8"/>
<circle cx="84.40" cy="250.89" r="0.8" fill="#2f6b93" fill-opacity="0.8"/>
<circle cx="84.40" cy="256.98" r="0.8" fill="#2f6b93" fill-opacity="0.8"/>
<circle cx="84.40" cy="245.41" r="0.8" fill="#2f6b93" fill-opacity="0.8"/>
<circle cx="84.40" cy="256.71" r="0.8" fill="#2f6b93" fill-opacity="0.8"/>
<circle cx="84.40" cy="246.02" r="0.8" fill="#2f6b93" fill-opacity="0.8"/>
<circle cx="84.40" cy="252.89" r="0.8" fill="#2f6b93" fill-opacity="0.8"/>
<circle cx="84.40" cy="246.16" r="0.8" fill="#2f6b93" fill-opacity="0.8"/>
<circle cx="84.40" cy="242.30" r="0.8" fill="#2f6b93" fill-opacity="0.8"/>
<circle cx="84.40" cy="256.09" r="0.8" fill="#2f6b93" fill-opacity="0.8"/>
<circle cx="84.40" cy="253.52" r="0.8" fill="#2f6b93" fill-opacity="0.8"/>
<circle cx="84.40" cy="255.67" r="0.8" fill="#2f6b93" fill-opacity="0.8"/>
<circle cx="84.40" cy="256.69" r="0.8" fill="#2f6b93" fill-opacity="0.8"/>
<circle cx="84.40" cy="254.56" r="0.8" fill="#2f6b93" fill-opacity="0.8"/>
<circle cx="84.40" cy="251.86" r="0.8" fill="#2f6b93" fill-opacity="0.8"/>
<circle cx="84.40" cy="250.69" r="0.8" fill="#2f6b93" fill-opacity="0.8"/>
<circle cx="84.40" cy="256.06" r="0.8" fill="#2f6b93" fill-opacity="0.8"/>
<circle cx="84.40" cy="251.65" r="0.8" fill="#2f6b93" fill-opacity="0.8"/>
<circle cx="84.40" cy="251.35" r="0.8" fill="#2f6b93" fill-opacity="0.8"/>
<circle cx="84.40" cy="256.55" r="0.8" fill="#2f6b93" fill-opacity="0.8"/>
<circle cx="84.40" cy="253.82" r="0.8" fill="#2f6b93" fill-opacity="0.8"/>
<circle cx="84.40" cy="241.44" r="0.8" fill="#2f6b93" fill-opacity="0.8"/>
<circle cx="84.40" cy="253.14" r="0.8" fill="#2f6b93" fill-opacity="0.8"/>
<circle cx="84.40" cy="256.14" r="0.8" fill="#2f6b93" fill-opacity="0.8"/>
<circle cx="84.40" cy="256.31" r="0.8" fill="#2f6b93" fill-opacity="0.8"/>
<circle cx="84.40" cy="246.98" r="0.8" fill="#2f6b93" fill-opacity="0.8"/>
<circle cx="84.40" cy="256.32" r="0.8" fill="#2f6b93" fill-opacity="0.8"/>
<circle cx="84.40" cy="256.43" r="0.8" fill="#2f6b93" fill-opacity="0.8"/>
<circle cx="84.40" cy="247.58" r="0.8" fill="#2f6b93" fill-opacity="0.8"/>
<circle cx="84.40" cy="256.21" r="0.8" fill="#2f6b93" fill-opacity="0.8"/>
<circle cx="84.40" cy="256.18" r="0.8" fill="#2f6b93" fill-opacity="0.8"/>
<circle cx="84.40" cy="256.32" r="0.8" fill="#2f6b93" fill-opacity="0.8"/>
<circle cx="84.40" cy="250.09" r="0.8" fill="#2f6b93" fill-opacity="0.8"/>
<circle cx="84.40" cy="256.53" r="0.8" fill="#2f6b93" fill-opacity="0.8"/>
<circle cx="84.40" cy="256.83" r="0.8" fill="#2f6b93" fill-opacity="0.8"/>
<circle cx="84.40" cy="256.58" r="0.8" fill="#2f6b93" fill-opacity="0.8"/>
<circle cx="84.40" cy="256.29" r="0.8" fill="#2f6b93" fill-opacity="0.8"/>
<circle cx="84.40" cy="247.97" r="0.8" fill="#2f6b93" fill-opacity="0.8"/>
<line x1="54.90" y1="192.20" x2="84.40" y2="192.20" stroke="#999" stroke-width="1.1"/>
<text x="69.65" y="190.60" font-size="6.0" fill="#333" text-anchor="middle">*</text>
<text x="57.70" y="267.30" font-size="7.2" fill="#262626" text-anchor="end" transform="rotate(-45 57.70 267.30)">Tumour</text>
<text x="87.20" y="267.30" font-size="7.2" fill="#262626" text-anchor="end" transform="rotate(-45 87.20 267.30)">Stroma</text>
<text x="10.30" y="212.50" font-size="6.9" fill="#262626" text-anchor="middle" transform="rotate(-90 10.30 212.50)">Density (cell/mm<tspan font-size="4.8" dy="-2.8">2</tspan><tspan dy="2.8">)</tspan></text>
<text x="31.40" y="286.10" font-size="7.1" fill="#222" text-anchor="end" font-weight="bold">Median</text>
<text x="31.40" y="294.10" font-size="7.1" fill="#222" text-anchor="end" font-weight="bold">Value</text>
<text x="50.50" y="291.20" font-size="7.1" fill="#222" text-anchor="middle" font-weight="bold">2.85</text>
<text x="83.40" y="291.20" font-size="7.1" fill="#222" text-anchor="middle" font-weight="bold">0</text>
<line x1="142.20" y1="22.90" x2="142.20" y2="114.30" stroke="#b5b5b5" stroke-width="0.9"/>
<line x1="142.20" y1="114.30" x2="201.00" y2="114.30" stroke="#b5b5b5" stroke-width="0.9"/>
<line x1="140.70" y1="110.10" x2="142.20" y2="110.10" stroke="#777" stroke-width="0.7"/>
<text x="137.60" y="112.50" font-size="6.9" fill="#262626" text-anchor="end">0</text>
<line x1="140.70" y1="91.20" x2="142.20" y2="91.20" stroke="#777" stroke-width="0.7"/>
<text x="137.60" y="93.60" font-size="6.9" fill="#262626" text-anchor="end">500</text>
<line x1="140.70" y1="72.30" x2="142.20" y2="72.30" stroke="#777" stroke-width="0.7"/>
<text x="137.60" y="74.70" font-size="6.9" fill="#262626" text-anchor="end">1000</text>
<line x1="140.70" y1="53.40" x2="142.20" y2="53.40" stroke="#777" stroke-width="0.7"/>
<text x="137.60" y="55.80" font-size="6.9" fill="#262626" text-anchor="end">1500</text>
<line x1="140.70" y1="34.50" x2="142.20" y2="34.50" stroke="#777" stroke-width="0.7"/>
<text x="137.60" y="36.90" font-size="6.9" fill="#262626" text-anchor="end">2000</text>
<text x="115.00" y="68.80" font-size="6.9" fill="#262626" text-anchor="middle" transform="rotate(-90 115.00 68.80)">Density (cell/mm<tspan font-size="4.8" dy="-2.8">2</tspan><tspan dy="2.8">)</tspan></text>
<text x="172.00" y="16.10" font-size="7.0" fill="#1a1a1a" text-anchor="middle" font-weight="bold">Age Group</text>
<line x1="158.40" y1="114.30" x2="158.40" y2="115.80" stroke="#777" stroke-width="0.7"/>
<line x1="158.40" y1="104.20" x2="158.40" y2="96.98" stroke="#999" stroke-width="0.6"/>
<rect x="149.00" y="104.20" width="18.80" height="5.78" fill="#d56f77" stroke="#7a2a33" stroke-width="0.6" rx="0" fill-opacity="0.92"/>
<line x1="149.00" y1="107.98" x2="167.80" y2="107.98" stroke="#7a2a33" stroke-width="0.9"/>
<rect x="159.90" y="43.96" width="1.5" height="1.5" fill="#8c2f3b" fill-opacity="0.85"/>
<rect x="159.58" y="53.41" width="1.5" height="1.5" fill="#8c2f3b" fill-opacity="0.85"/>
<rect x="159.94" y="65.88" width="1.5" height="1.5" fill="#8c2f3b" fill-opacity="0.85"/>
<rect x="158.09" y="74.20" width="1.5" height="1.5" fill="#8c2f3b" fill-opacity="0.85"/>
<rect x="160.83" y="83.65" width="1.5" height="1.5" fill="#8c2f3b" fill-opacity="0.85"/>
<rect x="157.83" y="86.67" width="1.5" height="1.5" fill="#8c2f3b" fill-opacity="0.85"/>
<rect x="161.41" y="92.72" width="1.5" height="1.5" fill="#8c2f3b" fill-opacity="0.85"/>
<rect x="158.83" y="93.10" width="1.5" height="1.5" fill="#8c2f3b" fill-opacity="0.85"/>
<rect x="158.06" y="94.23" width="1.5" height="1.5" fill="#8c2f3b" fill-opacity="0.85"/>
<rect x="154.75" y="94.61" width="1.5" height="1.5" fill="#8c2f3b" fill-opacity="0.85"/>
<rect x="160.98" y="96.88" width="1.5" height="1.5" fill="#8c2f3b" fill-opacity="0.85"/>
<rect x="157.64" y="98.01" width="1.5" height="1.5" fill="#8c2f3b" fill-opacity="0.85"/>
<rect x="161.23" y="98.77" width="1.5" height="1.5" fill="#8c2f3b" fill-opacity="0.85"/>
<rect x="157.24" y="99.90" width="1.5" height="1.5" fill="#8c2f3b" fill-opacity="0.85"/>
<rect x="154.50" y="101.03" width="1.5" height="1.5" fill="#8c2f3b" fill-opacity="0.85"/>
<rect x="160.75" y="109.23" width="1.5" height="1.5" fill="#8c2f3b" fill-opacity="0.85"/>
<rect x="159.68" y="107.34" width="1.5" height="1.5" fill="#8c2f3b" fill-opacity="0.85"/>
<rect x="158.63" y="107.51" width="1.5" height="1.5" fill="#8c2f3b" fill-opacity="0.85"/>
<rect x="162.04" y="108.58" width="1.5" height="1.5" fill="#8c2f3b" fill-opacity="0.85"/>
<rect x="157.78" y="106.13" width="1.5" height="1.5" fill="#8c2f3b" fill-opacity="0.85"/>
<rect x="160.84" y="107.95" width="1.5" height="1.5" fill="#8c2f3b" fill-opacity="0.85"/>
<rect x="155.38" y="107.56" width="1.5" height="1.5" fill="#8c2f3b" fill-opacity="0.85"/>
<rect x="155.31" y="104.85" width="1.5" height="1.5" fill="#8c2f3b" fill-opacity="0.85"/>
<rect x="154.80" y="108.90" width="1.5" height="1.5" fill="#8c2f3b" fill-opacity="0.85"/>
<rect x="154.66" y="104.84" width="1.5" height="1.5" fill="#8c2f3b" fill-opacity="0.85"/>
<rect x="159.66" y="108.40" width="1.5" height="1.5" fill="#8c2f3b" fill-opacity="0.85"/>
<rect x="157.28" y="108.40" width="1.5" height="1.5" fill="#8c2f3b" fill-opacity="0.85"/>
<rect x="153.31" y="104.16" width="1.5" height="1.5" fill="#8c2f3b" fill-opacity="0.85"/>
<rect x="153.31" y="108.54" width="1.5" height="1.5" fill="#8c2f3b" fill-opacity="0.85"/>
<rect x="155.95" y="109.11" width="1.5" height="1.5" fill="#8c2f3b" fill-opacity="0.85"/>
<rect x="156.10" y="108.95" width="1.5" height="1.5" fill="#8c2f3b" fill-opacity="0.85"/>
<rect x="153.19" y="109.26" width="1.5" height="1.5" fill="#8c2f3b" fill-opacity="0.85"/>
<rect x="157.81" y="108.31" width="1.5" height="1.5" fill="#8c2f3b" fill-opacity="0.85"/>
<rect x="153.81" y="109.35" width="1.5" height="1.5" fill="#8c2f3b" fill-opacity="0.85"/>
<rect x="157.77" y="109.05" width="1.5" height="1.5" fill="#8c2f3b" fill-opacity="0.85"/>
<rect x="160.49" y="108.98" width="1.5" height="1.5" fill="#8c2f3b" fill-opacity="0.85"/>
<rect x="161.90" y="108.65" width="1.5" height="1.5" fill="#8c2f3b" fill-opacity="0.85"/>
<rect x="158.87" y="108.24" width="1.5" height="1.5" fill="#8c2f3b" fill-opacity="0.85"/>
<rect x="155.55" y="109.00" width="1.5" height="1.5" fill="#8c2f3b" fill-opacity="0.85"/>
<rect x="157.09" y="105.42" width="1.5" height="1.5" fill="#8c2f3b" fill-opacity="0.85"/>
<rect x="154.32" y="109.09" width="1.5" height="1.5" fill="#8c2f3b" fill-opacity="0.85"/>
<rect x="161.46" y="107.59" width="1.5" height="1.5" fill="#8c2f3b" fill-opacity="0.85"/>
<rect x="160.40" y="109.35" width="1.5" height="1.5" fill="#8c2f3b" fill-opacity="0.85"/>
<line x1="185.70" y1="114.30" x2="185.70" y2="115.80" stroke="#777" stroke-width="0.7"/>
<line x1="185.70" y1="101.10" x2="185.70" y2="88.18" stroke="#999" stroke-width="0.6"/>
<rect x="176.30" y="101.10" width="18.80" height="8.88" fill="#6ab3d7" stroke="#2d5f80" stroke-width="0.6" rx="0" fill-opacity="0.92"/>
<line x1="176.30" y1="108.21" x2="195.10" y2="108.21" stroke="#2d5f80" stroke-width="0.9"/>
<rect x="181.20" y="22.41" width="1.5" height="1.5" fill="#2f6485" fill-opacity="0.85"/>
<rect x="182.12" y="44.71" width="1.5" height="1.5" fill="#2f6485" fill-opacity="0.85"/>
<rect x="183.06" y="54.92" width="1.5" height="1.5" fill="#2f6485" fill-opacity="0.85"/>
<rect x="187.18" y="63.99" width="1.5" height="1.5" fill="#2f6485" fill-opacity="0.85"/>
<rect x="186.88" y="69.28" width="1.5" height="1.5" fill="#2f6485" fill-opacity="0.85"/>
<rect x="187.02" y="74.20" width="1.5" height="1.5" fill="#2f6485" fill-opacity="0.85"/>
<rect x="189.07" y="74.57" width="1.5" height="1.5" fill="#2f6485" fill-opacity="0.85"/>
<rect x="181.10" y="76.09" width="1.5" height="1.5" fill="#2f6485" fill-opacity="0.85"/>
<rect x="181.72" y="80.62" width="1.5" height="1.5" fill="#2f6485" fill-opacity="0.85"/>
<rect x="184.16" y="87.43" width="1.5" height="1.5" fill="#2f6485" fill-opacity="0.85"/>
<rect x="187.98" y="88.18" width="1.5" height="1.5" fill="#2f6485" fill-opacity="0.85"/>
<rect x="189.33" y="92.72" width="1.5" height="1.5" fill="#2f6485" fill-opacity="0.85"/>
<rect x="188.01" y="93.10" width="1.5" height="1.5" fill="#2f6485" fill-opacity="0.85"/>
<rect x="183.59" y="94.99" width="1.5" height="1.5" fill="#2f6485" fill-opacity="0.85"/>
<rect x="184.35" y="96.12" width="1.5" height="1.5" fill="#2f6485" fill-opacity="0.85"/>
<rect x="182.49" y="98.01" width="1.5" height="1.5" fill="#2f6485" fill-opacity="0.85"/>
<rect x="187.80" y="99.14" width="1.5" height="1.5" fill="#2f6485" fill-opacity="0.85"/>
<rect x="187.05" y="99.90" width="1.5" height="1.5" fill="#2f6485" fill-opacity="0.85"/>
<rect x="182.68" y="109.20" width="1.5" height="1.5" fill="#2f6485" fill-opacity="0.85"/>
<rect x="184.40" y="109.35" width="1.5" height="1.5" fill="#2f6485" fill-opacity="0.85"/>
<rect x="183.87" y="102.41" width="1.5" height="1.5" fill="#2f6485" fill-opacity="0.85"/>
<rect x="186.42" y="109.34" width="1.5" height="1.5" fill="#2f6485" fill-opacity="0.85"/>
<rect x="184.28" y="103.08" width="1.5" height="1.5" fill="#2f6485" fill-opacity="0.85"/>
<rect x="185.51" y="109.35" width="1.5" height="1.5" fill="#2f6485" fill-opacity="0.85"/>
<rect x="187.74" y="108.19" width="1.5" height="1.5" fill="#2f6485" fill-opacity="0.85"/>
<rect x="188.48" y="109.32" width="1.5" height="1.5" fill="#2f6485" fill-opacity="0.85"/>
<rect x="186.86" y="109.10" width="1.5" height="1.5" fill="#2f6485" fill-opacity="0.85"/>
<rect x="180.70" y="109.01" width="1.5" height="1.5" fill="#2f6485" fill-opacity="0.85"/>
<rect x="186.31" y="109.35" width="1.5" height="1.5" fill="#2f6485" fill-opacity="0.85"/>
<rect x="185.33" y="104.84" width="1.5" height="1.5" fill="#2f6485" fill-opacity="0.85"/>
<rect x="185.89" y="109.34" width="1.5" height="1.5" fill="#2f6485" fill-opacity="0.85"/>
<rect x="187.06" y="107.42" width="1.5" height="1.5" fill="#2f6485" fill-opacity="0.85"/>
<rect x="186.04" y="108.22" width="1.5" height="1.5" fill="#2f6485" fill-opacity="0.85"/>
<rect x="183.92" y="107.42" width="1.5" height="1.5" fill="#2f6485" fill-opacity="0.85"/>
<rect x="182.96" y="109.35" width="1.5" height="1.5" fill="#2f6485" fill-opacity="0.85"/>
<rect x="182.57" y="109.32" width="1.5" height="1.5" fill="#2f6485" fill-opacity="0.85"/>
<rect x="181.80" y="109.34" width="1.5" height="1.5" fill="#2f6485" fill-opacity="0.85"/>
<rect x="181.47" y="106.95" width="1.5" height="1.5" fill="#2f6485" fill-opacity="0.85"/>
<rect x="188.75" y="105.40" width="1.5" height="1.5" fill="#2f6485" fill-opacity="0.85"/>
<rect x="181.42" y="109.35" width="1.5" height="1.5" fill="#2f6485" fill-opacity="0.85"/>
<rect x="183.24" y="108.62" width="1.5" height="1.5" fill="#2f6485" fill-opacity="0.85"/>
<rect x="189.13" y="104.57" width="1.5" height="1.5" fill="#2f6485" fill-opacity="0.85"/>
<rect x="184.26" y="109.27" width="1.5" height="1.5" fill="#2f6485" fill-opacity="0.85"/>
<rect x="186.07" y="102.11" width="1.5" height="1.5" fill="#2f6485" fill-opacity="0.85"/>
<rect x="182.72" y="106.63" width="1.5" height="1.5" fill="#2f6485" fill-opacity="0.85"/>
<rect x="182.18" y="109.25" width="1.5" height="1.5" fill="#2f6485" fill-opacity="0.85"/>
<rect x="187.73" y="104.08" width="1.5" height="1.5" fill="#2f6485" fill-opacity="0.85"/>
<rect x="184.75" y="109.08" width="1.5" height="1.5" fill="#2f6485" fill-opacity="0.85"/>
<rect x="184.85" y="109.35" width="1.5" height="1.5" fill="#2f6485" fill-opacity="0.85"/>
<rect x="186.68" y="108.28" width="1.5" height="1.5" fill="#2f6485" fill-opacity="0.85"/>
<rect x="185.60" y="106.28" width="1.5" height="1.5" fill="#2f6485" fill-opacity="0.85"/>
<rect x="181.98" y="109.17" width="1.5" height="1.5" fill="#2f6485" fill-opacity="0.85"/>
<rect x="183.68" y="106.82" width="1.5" height="1.5" fill="#2f6485" fill-opacity="0.85"/>
<rect x="182.79" y="105.80" width="1.5" height="1.5" fill="#2f6485" fill-opacity="0.85"/>
<rect x="183.89" y="109.08" width="1.5" height="1.5" fill="#2f6485" fill-opacity="0.85"/>
<rect x="188.67" y="106.44" width="1.5" height="1.5" fill="#2f6485" fill-opacity="0.85"/>
<rect x="186.07" y="100.56" width="1.5" height="1.5" fill="#2f6485" fill-opacity="0.85"/>
<rect x="186.92" y="104.88" width="1.5" height="1.5" fill="#2f6485" fill-opacity="0.85"/>
<path d="M158.40 52.30 L158.40 50.70 L185.70 50.70 L185.70 52.30" stroke="#4a4a4a" stroke-width="0.75" fill="none"/>
<text x="172.05" y="49.80" font-size="6.9" fill="#333" text-anchor="middle">ns</text>
<text x="158.40" y="123.60" font-size="6.9" fill="#262626" text-anchor="middle">&lt;60</text>
<text x="185.70" y="123.60" font-size="6.9" fill="#262626" text-anchor="middle">&#8805;60</text>
<line x1="235.50" y1="22.90" x2="235.50" y2="114.30" stroke="#b5b5b5" stroke-width="0.9"/>
<line x1="235.50" y1="114.30" x2="294.30" y2="114.30" stroke="#b5b5b5" stroke-width="0.9"/>
<line x1="234.00" y1="110.10" x2="235.50" y2="110.10" stroke="#777" stroke-width="0.7"/>
<text x="230.90" y="112.50" font-size="6.9" fill="#262626" text-anchor="end">0</text>
<line x1="234.00" y1="91.20" x2="235.50" y2="91.20" stroke="#777" stroke-width="0.7"/>
<text x="230.90" y="93.60" font-size="6.9" fill="#262626" text-anchor="end">500</text>
<line x1="234.00" y1="72.30" x2="235.50" y2="72.30" stroke="#777" stroke-width="0.7"/>
<text x="230.90" y="74.70" font-size="6.9" fill="#262626" text-anchor="end">1000</text>
<line x1="234.00" y1="53.40" x2="235.50" y2="53.40" stroke="#777" stroke-width="0.7"/>
<text x="230.90" y="55.80" font-size="6.9" fill="#262626" text-anchor="end">1500</text>
<line x1="234.00" y1="34.50" x2="235.50" y2="34.50" stroke="#777" stroke-width="0.7"/>
<text x="230.90" y="36.90" font-size="6.9" fill="#262626" text-anchor="end">2000</text>
<text x="208.30" y="68.80" font-size="6.9" fill="#262626" text-anchor="middle" transform="rotate(-90 208.30 68.80)">Density (cell/mm<tspan font-size="4.8" dy="-2.8">2</tspan><tspan dy="2.8">)</tspan></text>
<text x="259.30" y="16.10" font-size="7.0" fill="#1a1a1a" text-anchor="middle" font-weight="bold">Gender</text>
<line x1="251.70" y1="114.30" x2="251.70" y2="115.80" stroke="#777" stroke-width="0.7"/>
<line x1="251.70" y1="105.30" x2="251.70" y2="100.01" stroke="#999" stroke-width="0.6"/>
<rect x="242.30" y="105.30" width="18.80" height="4.69" fill="#d56f77" stroke="#7a2a33" stroke-width="0.6" rx="0" fill-opacity="0.92"/>
<line x1="242.30" y1="108.40" x2="261.10" y2="108.40" stroke="#7a2a33" stroke-width="0.9"/>
<rect x="249.34" y="43.96" width="1.5" height="1.5" fill="#8c2f3b" fill-opacity="0.85"/>
<rect x="252.55" y="92.34" width="1.5" height="1.5" fill="#8c2f3b" fill-opacity="0.85"/>
<rect x="247.47" y="96.88" width="1.5" height="1.5" fill="#8c2f3b" fill-opacity="0.85"/>
<rect x="246.92" y="98.01" width="1.5" height="1.5" fill="#8c2f3b" fill-opacity="0.85"/>
<rect x="250.53" y="98.77" width="1.5" height="1.5" fill="#8c2f3b" fill-opacity="0.85"/>
<rect x="247.67" y="99.90" width="1.5" height="1.5" fill="#8c2f3b" fill-opacity="0.85"/>
<rect x="247.73" y="101.79" width="1.5" height="1.5" fill="#8c2f3b" fill-opacity="0.85"/>
<rect x="251.46" y="108.92" width="1.5" height="1.5" fill="#8c2f3b" fill-opacity="0.85"/>
<rect x="255.17" y="109.11" width="1.5" height="1.5" fill="#8c2f3b" fill-opacity="0.85"/>
<rect x="247.47" y="107.83" width="1.5" height="1.5" fill="#8c2f3b" fill-opacity="0.85"/>
<rect x="252.01" y="108.17" width="1.5" height="1.5" fill="#8c2f3b" fill-opacity="0.85"/>
<rect x="251.08" y="105.42" width="1.5" height="1.5" fill="#8c2f3b" fill-opacity="0.85"/>
<rect x="251.53" y="105.89" width="1.5" height="1.5" fill="#8c2f3b" fill-opacity="0.85"/>
<rect x="250.29" y="109.17" width="1.5" height="1.5" fill="#8c2f3b" fill-opacity="0.85"/>
<rect x="248.83" y="105.62" width="1.5" height="1.5" fill="#8c2f3b" fill-opacity="0.85"/>
<rect x="255.31" y="106.03" width="1.5" height="1.5" fill="#8c2f3b" fill-opacity="0.85"/>
<rect x="252.74" y="109.34" width="1.5" height="1.5" fill="#8c2f3b" fill-opacity="0.85"/>
<rect x="254.21" y="104.90" width="1.5" height="1.5" fill="#8c2f3b" fill-opacity="0.85"/>
<rect x="251.42" y="105.44" width="1.5" height="1.5" fill="#8c2f3b" fill-opacity="0.85"/>
<rect x="248.27" y="105.27" width="1.5" height="1.5" fill="#8c2f3b" fill-opacity="0.85"/>
<rect x="248.84" y="109.15" width="1.5" height="1.5" fill="#8c2f3b" fill-opacity="0.85"/>
<line x1="279.00" y1="114.30" x2="279.00" y2="115.80" stroke="#777" stroke-width="0.7"/>
<line x1="279.00" y1="101.10" x2="279.00" y2="88.52" stroke="#999" stroke-width="0.6"/>
<rect x="269.60" y="101.10" width="18.80" height="8.88" fill="#6ab3d7" stroke="#2d5f80" stroke-width="0.6" rx="0" fill-opacity="0.92"/>
<line x1="269.60" y1="108.59" x2="288.40" y2="108.59" stroke="#2d5f80" stroke-width="0.9"/>
<rect x="281.91" y="22.41" width="1.5" height="1.5" fill="#2f6485" fill-opacity="0.85"/>
<rect x="275.33" y="44.33" width="1.5" height="1.5" fill="#2f6485" fill-opacity="0.85"/>
<rect x="278.36" y="44.71" width="1.5" height="1.5" fill="#2f6485" fill-opacity="0.85"/>
<rect x="274.78" y="53.41" width="1.5" height="1.5" fill="#2f6485" fill-opacity="0.85"/>
<rect x="274.97" y="54.92" width="1.5" height="1.5" fill="#2f6485" fill-opacity="0.85"/>
<rect x="274.89" y="63.99" width="1.5" height="1.5" fill="#2f6485" fill-opacity="0.85"/>
<rect x="276.99" y="65.88" width="1.5" height="1.5" fill="#2f6485" fill-opacity="0.85"/>
<rect x="278.92" y="69.28" width="1.5" height="1.5" fill="#2f6485" fill-opacity="0.85"/>
<rect x="277.23" y="74.20" width="1.5" height="1.5" fill="#2f6485" fill-opacity="0.85"/>
<rect x="275.35" y="74.57" width="1.5" height="1.5" fill="#2f6485" fill-opacity="0.85"/>
<rect x="274.20" y="76.09" width="1.5" height="1.5" fill="#2f6485" fill-opacity="0.85"/>
<rect x="275.96" y="80.62" width="1.5" height="1.5" fill="#2f6485" fill-opacity="0.85"/>
<rect x="274.05" y="83.65" width="1.5" height="1.5" fill="#2f6485" fill-opacity="0.85"/>
<rect x="280.00" y="86.67" width="1.5" height="1.5" fill="#2f6485" fill-opacity="0.85"/>
<rect x="275.94" y="87.80" width="1.5" height="1.5" fill="#2f6485" fill-opacity="0.85"/>
<rect x="282.38" y="88.18" width="1.5" height="1.5" fill="#2f6485" fill-opacity="0.85"/>
<rect x="277.19" y="92.72" width="1.5" height="1.5" fill="#2f6485" fill-opacity="0.85"/>
<rect x="280.64" y="93.10" width="1.5" height="1.5" fill="#2f6485" fill-opacity="0.85"/>
<rect x="281.39" y="94.23" width="1.5" height="1.5" fill="#2f6485" fill-opacity="0.85"/>
<rect x="278.22" y="94.99" width="1.5" height="1.5" fill="#2f6485" fill-opacity="0.85"/>
<rect x="281.77" y="98.01" width="1.5" height="1.5" fill="#2f6485" fill-opacity="0.85"/>
<rect x="281.45" y="99.14" width="1.5" height="1.5" fill="#2f6485" fill-opacity="0.85"/>
<rect x="278.03" y="106.71" width="1.5" height="1.5" fill="#2f6485" fill-opacity="0.85"/>
<rect x="275.64" y="108.51" width="1.5" height="1.5" fill="#2f6485" fill-opacity="0.85"/>
<rect x="276.37" y="107.25" width="1.5" height="1.5" fill="#2f6485" fill-opacity="0.85"/>
<rect x="275.22" y="109.32" width="1.5" height="1.5" fill="#2f6485" fill-opacity="0.85"/>
<rect x="275.38" y="104.16" width="1.5" height="1.5" fill="#2f6485" fill-opacity="0.85"/>
<rect x="276.80" y="101.26" width="1.5" height="1.5" fill="#2f6485" fill-opacity="0.85"/>
<rect x="282.54" y="109.35" width="1.5" height="1.5" fill="#2f6485" fill-opacity="0.85"/>
<rect x="278.98" y="108.12" width="1.5" height="1.5" fill="#2f6485" fill-opacity="0.85"/>
<rect x="281.03" y="106.99" width="1.5" height="1.5" fill="#2f6485" fill-opacity="0.85"/>
<rect x="273.78" y="109.35" width="1.5" height="1.5" fill="#2f6485" fill-opacity="0.85"/>
<rect x="282.63" y="109.32" width="1.5" height="1.5" fill="#2f6485" fill-opacity="0.85"/>
<rect x="282.25" y="109.20" width="1.5" height="1.5" fill="#2f6485" fill-opacity="0.85"/>
<rect x="280.08" y="104.74" width="1.5" height="1.5" fill="#2f6485" fill-opacity="0.85"/>
<rect x="274.53" y="109.17" width="1.5" height="1.5" fill="#2f6485" fill-opacity="0.85"/>
<rect x="276.82" y="104.58" width="1.5" height="1.5" fill="#2f6485" fill-opacity="0.85"/>
<rect x="275.20" y="106.39" width="1.5" height="1.5" fill="#2f6485" fill-opacity="0.85"/>
<rect x="281.18" y="107.26" width="1.5" height="1.5" fill="#2f6485" fill-opacity="0.85"/>
<rect x="278.02" y="109.08" width="1.5" height="1.5" fill="#2f6485" fill-opacity="0.85"/>
<rect x="280.27" y="108.02" width="1.5" height="1.5" fill="#2f6485" fill-opacity="0.85"/>
<rect x="279.02" y="109.35" width="1.5" height="1.5" fill="#2f6485" fill-opacity="0.85"/>
<rect x="277.14" y="106.43" width="1.5" height="1.5" fill="#2f6485" fill-opacity="0.85"/>
<rect x="281.31" y="107.13" width="1.5" height="1.5" fill="#2f6485" fill-opacity="0.85"/>
<rect x="278.64" y="109.30" width="1.5" height="1.5" fill="#2f6485" fill-opacity="0.85"/>
<rect x="282.55" y="107.71" width="1.5" height="1.5" fill="#2f6485" fill-opacity="0.85"/>
<rect x="282.69" y="107.12" width="1.5" height="1.5" fill="#2f6485" fill-opacity="0.85"/>
<rect x="273.90" y="109.35" width="1.5" height="1.5" fill="#2f6485" fill-opacity="0.85"/>
<rect x="274.76" y="109.34" width="1.5" height="1.5" fill="#2f6485" fill-opacity="0.85"/>
<rect x="281.03" y="108.50" width="1.5" height="1.5" fill="#2f6485" fill-opacity="0.85"/>
<rect x="277.80" y="109.02" width="1.5" height="1.5" fill="#2f6485" fill-opacity="0.85"/>
<rect x="277.57" y="109.20" width="1.5" height="1.5" fill="#2f6485" fill-opacity="0.85"/>
<rect x="277.32" y="109.34" width="1.5" height="1.5" fill="#2f6485" fill-opacity="0.85"/>
<rect x="281.44" y="109.35" width="1.5" height="1.5" fill="#2f6485" fill-opacity="0.85"/>
<rect x="276.98" y="106.02" width="1.5" height="1.5" fill="#2f6485" fill-opacity="0.85"/>
<rect x="276.27" y="109.27" width="1.5" height="1.5" fill="#2f6485" fill-opacity="0.85"/>
<rect x="279.79" y="109.21" width="1.5" height="1.5" fill="#2f6485" fill-opacity="0.85"/>
<rect x="279.69" y="107.67" width="1.5" height="1.5" fill="#2f6485" fill-opacity="0.85"/>
<rect x="278.15" y="109.31" width="1.5" height="1.5" fill="#2f6485" fill-opacity="0.85"/>
<rect x="278.81" y="106.15" width="1.5" height="1.5" fill="#2f6485" fill-opacity="0.85"/>
<rect x="275.77" y="104.72" width="1.5" height="1.5" fill="#2f6485" fill-opacity="0.85"/>
<rect x="278.27" y="109.33" width="1.5" height="1.5" fill="#2f6485" fill-opacity="0.85"/>
<rect x="278.24" y="109.26" width="1.5" height="1.5" fill="#2f6485" fill-opacity="0.85"/>
<rect x="278.71" y="108.49" width="1.5" height="1.5" fill="#2f6485" fill-opacity="0.85"/>
<rect x="279.24" y="105.42" width="1.5" height="1.5" fill="#2f6485" fill-opacity="0.85"/>
<rect x="275.05" y="109.06" width="1.5" height="1.5" fill="#2f6485" fill-opacity="0.85"/>
<rect x="276.09" y="109.10" width="1.5" height="1.5" fill="#2f6485" fill-opacity="0.85"/>
<rect x="282.20" y="109.34" width="1.5" height="1.5" fill="#2f6485" fill-opacity="0.85"/>
<rect x="274.84" y="105.69" width="1.5" height="1.5" fill="#2f6485" fill-opacity="0.85"/>
<rect x="276.70" y="109.35" width="1.5" height="1.5" fill="#2f6485" fill-opacity="0.85"/>
<rect x="279.27" y="109.29" width="1.5" height="1.5" fill="#2f6485" fill-opacity="0.85"/>
<rect x="279.35" y="109.35" width="1.5" height="1.5" fill="#2f6485" fill-opacity="0.85"/>
<path d="M251.70 52.30 L251.70 50.70 L279.00 50.70 L279.00 52.30" stroke="#4a4a4a" stroke-width="0.75" fill="none"/>
<text x="265.35" y="49.80" font-size="6.9" fill="#333" text-anchor="middle">ns</text>
<text x="255.00" y="120.30" font-size="6.9" fill="#262626" text-anchor="end" transform="rotate(-45 255.00 120.30)">Female</text>
<text x="282.30" y="120.30" font-size="6.9" fill="#262626" text-anchor="end" transform="rotate(-45 282.30 120.30)">Male</text>
<line x1="333.90" y1="22.90" x2="333.90" y2="114.30" stroke="#b5b5b5" stroke-width="0.9"/>
<line x1="333.90" y1="114.30" x2="392.70" y2="114.30" stroke="#b5b5b5" stroke-width="0.9"/>
<line x1="332.40" y1="110.10" x2="333.90" y2="110.10" stroke="#777" stroke-width="0.7"/>
<text x="329.30" y="112.50" font-size="6.9" fill="#262626" text-anchor="end">0</text>
<line x1="332.40" y1="91.20" x2="333.90" y2="91.20" stroke="#777" stroke-width="0.7"/>
<text x="329.30" y="93.60" font-size="6.9" fill="#262626" text-anchor="end">500</text>
<line x1="332.40" y1="72.30" x2="333.90" y2="72.30" stroke="#777" stroke-width="0.7"/>
<text x="329.30" y="74.70" font-size="6.9" fill="#262626" text-anchor="end">1000</text>
<line x1="332.40" y1="53.40" x2="333.90" y2="53.40" stroke="#777" stroke-width="0.7"/>
<text x="329.30" y="55.80" font-size="6.9" fill="#262626" text-anchor="end">1500</text>
<line x1="332.40" y1="34.50" x2="333.90" y2="34.50" stroke="#777" stroke-width="0.7"/>
<text x="329.30" y="36.90" font-size="6.9" fill="#262626" text-anchor="end">2000</text>
<text x="306.70" y="68.80" font-size="6.9" fill="#262626" text-anchor="middle" transform="rotate(-90 306.70 68.80)">Density (cell/mm<tspan font-size="4.8" dy="-2.8">2</tspan><tspan dy="2.8">)</tspan></text>
<text x="363.60" y="16.10" font-size="7.0" fill="#1a1a1a" text-anchor="middle" font-weight="bold">ECOG Group</text>
<line x1="349.80" y1="114.30" x2="349.80" y2="115.80" stroke="#777" stroke-width="0.7"/>
<line x1="349.80" y1="103.60" x2="349.80" y2="95.74" stroke="#999" stroke-width="0.6"/>
<rect x="340.40" y="103.60" width="18.80" height="6.39" fill="#d56f77" stroke="#7a2a33" stroke-width="0.6" rx="0" fill-opacity="0.92"/>
<line x1="340.40" y1="108.21" x2="359.20" y2="108.21" stroke="#7a2a33" stroke-width="0.9"/>
<rect x="348.19" y="22.41" width="1.5" height="1.5" fill="#8c2f3b" fill-opacity="0.85"/>
<rect x="351.56" y="53.41" width="1.5" height="1.5" fill="#8c2f3b" fill-opacity="0.85"/>
<rect x="348.62" y="54.92" width="1.5" height="1.5" fill="#8c2f3b" fill-opacity="0.85"/>
<rect x="349.38" y="65.88" width="1.5" height="1.5" fill="#8c2f3b" fill-opacity="0.85"/>
<rect x="346.58" y="74.20" width="1.5" height="1.5" fill="#8c2f3b" fill-opacity="0.85"/>
<rect x="349.21" y="76.09" width="1.5" height="1.5" fill="#8c2f3b" fill-opacity="0.85"/>
<rect x="353.47" y="83.65" width="1.5" height="1.5" fill="#8c2f3b" fill-opacity="0.85"/>
<rect x="348.14" y="86.67" width="1.5" height="1.5" fill="#8c2f3b" fill-opacity="0.85"/>
<rect x="347.30" y="92.34" width="1.5" height="1.5" fill="#8c2f3b" fill-opacity="0.85"/>
<rect x="350.77" y="93.10" width="1.5" height="1.5" fill="#8c2f3b" fill-opacity="0.85"/>
<rect x="352.53" y="93.47" width="1.5" height="1.5" fill="#8c2f3b" fill-opacity="0.85"/>
<rect x="345.05" y="94.23" width="1.5" height="1.5" fill="#8c2f3b" fill-opacity="0.85"/>
<rect x="350.30" y="96.12" width="1.5" height="1.5" fill="#8c2f3b" fill-opacity="0.85"/>
<rect x="349.97" y="98.01" width="1.5" height="1.5" fill="#8c2f3b" fill-opacity="0.85"/>
<rect x="350.00" y="99.90" width="1.5" height="1.5" fill="#8c2f3b" fill-opacity="0.85"/>
<rect x="349.17" y="101.79" width="1.5" height="1.5" fill="#8c2f3b" fill-opacity="0.85"/>
<rect x="350.68" y="109.28" width="1.5" height="1.5" fill="#8c2f3b" fill-opacity="0.85"/>
<rect x="352.20" y="104.08" width="1.5" height="1.5" fill="#8c2f3b" fill-opacity="0.85"/>
<rect x="346.83" y="103.85" width="1.5" height="1.5" fill="#8c2f3b" fill-opacity="0.85"/>
<rect x="345.86" y="109.35" width="1.5" height="1.5" fill="#8c2f3b" fill-opacity="0.85"/>
<rect x="345.85" y="105.40" width="1.5" height="1.5" fill="#8c2f3b" fill-opacity="0.85"/>
<rect x="349.52" y="106.98" width="1.5" height="1.5" fill="#8c2f3b" fill-opacity="0.85"/>
<rect x="346.73" y="107.31" width="1.5" height="1.5" fill="#8c2f3b" fill-opacity="0.85"/>
<rect x="348.80" y="109.35" width="1.5" height="1.5" fill="#8c2f3b" fill-opacity="0.85"/>
<rect x="349.30" y="105.66" width="1.5" height="1.5" fill="#8c2f3b" fill-opacity="0.85"/>
<rect x="348.48" y="109.00" width="1.5" height="1.5" fill="#8c2f3b" fill-opacity="0.85"/>
<rect x="350.19" y="105.94" width="1.5" height="1.5" fill="#8c2f3b" fill-opacity="0.85"/>
<rect x="349.28" y="108.35" width="1.5" height="1.5" fill="#8c2f3b" fill-opacity="0.85"/>
<rect x="349.32" y="106.48" width="1.5" height="1.5" fill="#8c2f3b" fill-opacity="0.85"/>
<rect x="351.58" y="106.84" width="1.5" height="1.5" fill="#8c2f3b" fill-opacity="0.85"/>
<rect x="347.88" y="109.10" width="1.5" height="1.5" fill="#8c2f3b" fill-opacity="0.85"/>
<rect x="344.78" y="107.40" width="1.5" height="1.5" fill="#8c2f3b" fill-opacity="0.85"/>
<rect x="352.73" y="103.43" width="1.5" height="1.5" fill="#8c2f3b" fill-opacity="0.85"/>
<rect x="347.78" y="104.72" width="1.5" height="1.5" fill="#8c2f3b" fill-opacity="0.85"/>
<rect x="348.11" y="104.49" width="1.5" height="1.5" fill="#8c2f3b" fill-opacity="0.85"/>
<rect x="345.61" y="109.34" width="1.5" height="1.5" fill="#8c2f3b" fill-opacity="0.85"/>
<rect x="349.75" y="107.64" width="1.5" height="1.5" fill="#8c2f3b" fill-opacity="0.85"/>
<rect x="351.85" y="105.41" width="1.5" height="1.5" fill="#8c2f3b" fill-opacity="0.85"/>
<rect x="345.22" y="109.17" width="1.5" height="1.5" fill="#8c2f3b" fill-opacity="0.85"/>
<rect x="349.63" y="109.35" width="1.5" height="1.5" fill="#8c2f3b" fill-opacity="0.85"/>
<rect x="344.94" y="106.63" width="1.5" height="1.5" fill="#8c2f3b" fill-opacity="0.85"/>
<rect x="348.33" y="108.19" width="1.5" height="1.5" fill="#8c2f3b" fill-opacity="0.85"/>
<rect x="345.94" y="103.50" width="1.5" height="1.5" fill="#8c2f3b" fill-opacity="0.85"/>
<rect x="351.13" y="109.24" width="1.5" height="1.5" fill="#8c2f3b" fill-opacity="0.85"/>
<rect x="352.91" y="109.35" width="1.5" height="1.5" fill="#8c2f3b" fill-opacity="0.85"/>
<rect x="349.34" y="108.09" width="1.5" height="1.5" fill="#8c2f3b" fill-opacity="0.85"/>
<rect x="347.78" y="105.43" width="1.5" height="1.5" fill="#8c2f3b" fill-opacity="0.85"/>
<rect x="351.18" y="107.58" width="1.5" height="1.5" fill="#8c2f3b" fill-opacity="0.85"/>
<rect x="351.85" y="109.34" width="1.5" height="1.5" fill="#8c2f3b" fill-opacity="0.85"/>
<rect x="345.13" y="109.10" width="1.5" height="1.5" fill="#8c2f3b" fill-opacity="0.85"/>
<rect x="348.89" y="109.34" width="1.5" height="1.5" fill="#8c2f3b" fill-opacity="0.85"/>
<line x1="377.50" y1="114.30" x2="377.50" y2="115.80" stroke="#777" stroke-width="0.7"/>
<line x1="377.50" y1="101.29" x2="377.50" y2="88.52" stroke="#999" stroke-width="0.6"/>
<rect x="368.10" y="101.29" width="18.80" height="8.69" fill="#6ab3d7" stroke="#2d5f80" stroke-width="0.6" rx="0" fill-opacity="0.92"/>
<line x1="368.10" y1="108.40" x2="386.90" y2="108.40" stroke="#2d5f80" stroke-width="0.9"/>
<rect x="373.19" y="43.96" width="1.5" height="1.5" fill="#2f6485" fill-opacity="0.85"/>
<rect x="378.83" y="44.33" width="1.5" height="1.5" fill="#2f6485" fill-opacity="0.85"/>
<rect x="373.18" y="63.99" width="1.5" height="1.5" fill="#2f6485" fill-opacity="0.85"/>
<rect x="372.42" y="69.28" width="1.5" height="1.5" fill="#2f6485" fill-opacity="0.85"/>
<rect x="379.48" y="74.20" width="1.5" height="1.5" fill="#2f6485" fill-opacity="0.85"/>
<rect x="380.37" y="74.57" width="1.5" height="1.5" fill="#2f6485" fill-opacity="0.85"/>
<rect x="376.74" y="87.80" width="1.5" height="1.5" fill="#2f6485" fill-opacity="0.85"/>
<rect x="380.97" y="88.94" width="1.5" height="1.5" fill="#2f6485" fill-opacity="0.85"/>
<rect x="377.64" y="93.10" width="1.5" height="1.5" fill="#2f6485" fill-opacity="0.85"/>
<rect x="380.20" y="94.23" width="1.5" height="1.5" fill="#2f6485" fill-opacity="0.85"/>
<rect x="376.25" y="94.99" width="1.5" height="1.5" fill="#2f6485" fill-opacity="0.85"/>
<rect x="376.18" y="98.01" width="1.5" height="1.5" fill="#2f6485" fill-opacity="0.85"/>
<rect x="380.61" y="98.77" width="1.5" height="1.5" fill="#2f6485" fill-opacity="0.85"/>
<rect x="377.37" y="99.90" width="1.5" height="1.5" fill="#2f6485" fill-opacity="0.85"/>
<rect x="376.53" y="108.90" width="1.5" height="1.5" fill="#2f6485" fill-opacity="0.85"/>
<rect x="380.21" y="101.79" width="1.5" height="1.5" fill="#2f6485" fill-opacity="0.85"/>
<rect x="379.01" y="109.28" width="1.5" height="1.5" fill="#2f6485" fill-opacity="0.85"/>
<rect x="379.26" y="109.12" width="1.5" height="1.5" fill="#2f6485" fill-opacity="0.85"/>
<rect x="375.49" y="108.71" width="1.5" height="1.5" fill="#2f6485" fill-opacity="0.85"/>
<rect x="380.79" y="109.23" width="1.5" height="1.5" fill="#2f6485" fill-opacity="0.85"/>
<rect x="377.29" y="109.11" width="1.5" height="1.5" fill="#2f6485" fill-opacity="0.85"/>
<rect x="373.88" y="104.12" width="1.5" height="1.5" fill="#2f6485" fill-opacity="0.85"/>
<rect x="377.54" y="108.32" width="1.5" height="1.5" fill="#2f6485" fill-opacity="0.85"/>
<rect x="377.39" y="109.34" width="1.5" height="1.5" fill="#2f6485" fill-opacity="0.85"/>
<rect x="373.46" y="103.99" width="1.5" height="1.5" fill="#2f6485" fill-opacity="0.85"/>
<rect x="373.36" y="109.25" width="1.5" height="1.5" fill="#2f6485" fill-opacity="0.85"/>
<rect x="377.74" y="105.02" width="1.5" height="1.5" fill="#2f6485" fill-opacity="0.85"/>
<rect x="377.65" y="109.35" width="1.5" height="1.5" fill="#2f6485" fill-opacity="0.85"/>
<rect x="373.07" y="106.83" width="1.5" height="1.5" fill="#2f6485" fill-opacity="0.85"/>
<rect x="376.94" y="107.54" width="1.5" height="1.5" fill="#2f6485" fill-opacity="0.85"/>
<rect x="375.64" y="107.38" width="1.5" height="1.5" fill="#2f6485" fill-opacity="0.85"/>
<rect x="378.85" y="101.03" width="1.5" height="1.5" fill="#2f6485" fill-opacity="0.85"/>
<rect x="378.51" y="105.74" width="1.5" height="1.5" fill="#2f6485" fill-opacity="0.85"/>
<rect x="372.64" y="109.03" width="1.5" height="1.5" fill="#2f6485" fill-opacity="0.85"/>
<rect x="377.27" y="108.51" width="1.5" height="1.5" fill="#2f6485" fill-opacity="0.85"/>
<rect x="372.73" y="109.35" width="1.5" height="1.5" fill="#2f6485" fill-opacity="0.85"/>
<rect x="372.82" y="107.16" width="1.5" height="1.5" fill="#2f6485" fill-opacity="0.85"/>
<rect x="374.22" y="108.78" width="1.5" height="1.5" fill="#2f6485" fill-opacity="0.85"/>
<rect x="380.25" y="109.34" width="1.5" height="1.5" fill="#2f6485" fill-opacity="0.85"/>
<rect x="379.34" y="107.10" width="1.5" height="1.5" fill="#2f6485" fill-opacity="0.85"/>
<rect x="377.84" y="105.42" width="1.5" height="1.5" fill="#2f6485" fill-opacity="0.85"/>
<rect x="374.99" y="109.34" width="1.5" height="1.5" fill="#2f6485" fill-opacity="0.85"/>
<rect x="379.10" y="106.17" width="1.5" height="1.5" fill="#2f6485" fill-opacity="0.85"/>
<rect x="373.03" y="106.58" width="1.5" height="1.5" fill="#2f6485" fill-opacity="0.85"/>
<path d="M349.80 52.30 L349.80 50.70 L377.50 50.70 L377.50 52.30" stroke="#4a4a4a" stroke-width="0.75" fill="none"/>
<text x="363.65" y="49.80" font-size="6.9" fill="#333" text-anchor="middle">ns</text>
<text x="349.80" y="123.60" font-size="6.9" fill="#262626" text-anchor="middle">&#8805;1</text>
<text x="377.50" y="123.60" font-size="6.9" fill="#262626" text-anchor="middle">0</text>
<line x1="429.20" y1="22.90" x2="429.20" y2="114.30" stroke="#b5b5b5" stroke-width="0.9"/>
<line x1="429.20" y1="114.30" x2="488.00" y2="114.30" stroke="#b5b5b5" stroke-width="0.9"/>
<line x1="427.70" y1="110.10" x2="429.20" y2="110.10" stroke="#777" stroke-width="0.7"/>
<text x="424.60" y="112.50" font-size="6.9" fill="#262626" text-anchor="end">0</text>
<line x1="427.70" y1="91.20" x2="429.20" y2="91.20" stroke="#777" stroke-width="0.7"/>
<text x="424.60" y="93.60" font-size="6.9" fill="#262626" text-anchor="end">500</text>
<line x1="427.70" y1="72.30" x2="429.20" y2="72.30" stroke="#777" stroke-width="0.7"/>
<text x="424.60" y="74.70" font-size="6.9" fill="#262626" text-anchor="end">1000</text>
<line x1="427.70" y1="53.40" x2="429.20" y2="53.40" stroke="#777" stroke-width="0.7"/>
<text x="424.60" y="55.80" font-size="6.9" fill="#262626" text-anchor="end">1500</text>
<line x1="427.70" y1="34.50" x2="429.20" y2="34.50" stroke="#777" stroke-width="0.7"/>
<text x="424.60" y="36.90" font-size="6.9" fill="#262626" text-anchor="end">2000</text>
<text x="402.00" y="68.80" font-size="6.9" fill="#262626" text-anchor="middle" transform="rotate(-90 402.00 68.80)">Density (cell/mm<tspan font-size="4.8" dy="-2.8">2</tspan><tspan dy="2.8">)</tspan></text>
<text x="459.00" y="16.10" font-size="7.0" fill="#1a1a1a" text-anchor="middle" font-weight="bold">Tumour Location</text>
<line x1="445.50" y1="114.30" x2="445.50" y2="115.80" stroke="#777" stroke-width="0.7"/>
<line x1="445.50" y1="100.69" x2="445.50" y2="93.09" stroke="#999" stroke-width="0.6"/>
<rect x="436.10" y="100.69" width="18.80" height="9.30" fill="#d56f77" stroke="#7a2a33" stroke-width="0.6" rx="0" fill-opacity="0.92"/>
<line x1="436.10" y1="108.59" x2="454.90" y2="108.59" stroke="#7a2a33" stroke-width="0.9"/>
<rect x="446.30" y="22.41" width="1.5" height="1.5" fill="#8c2f3b" fill-opacity="0.85"/>
<rect x="443.71" y="43.96" width="1.5" height="1.5" fill="#8c2f3b" fill-opacity="0.85"/>
<rect x="445.46" y="53.41" width="1.5" height="1.5" fill="#8c2f3b" fill-opacity="0.85"/>
<rect x="443.30" y="54.92" width="1.5" height="1.5" fill="#8c2f3b" fill-opacity="0.85"/>
<rect x="442.18" y="65.88" width="1.5" height="1.5" fill="#8c2f3b" fill-opacity="0.85"/>
<rect x="448.67" y="76.09" width="1.5" height="1.5" fill="#8c2f3b" fill-opacity="0.85"/>
<rect x="444.37" y="83.65" width="1.5" height="1.5" fill="#8c2f3b" fill-opacity="0.85"/>
<rect x="448.54" y="92.34" width="1.5" height="1.5" fill="#8c2f3b" fill-opacity="0.85"/>
<rect x="447.00" y="93.10" width="1.5" height="1.5" fill="#8c2f3b" fill-opacity="0.85"/>
<rect x="443.47" y="93.10" width="1.5" height="1.5" fill="#8c2f3b" fill-opacity="0.85"/>
<rect x="447.22" y="93.47" width="1.5" height="1.5" fill="#8c2f3b" fill-opacity="0.85"/>
<rect x="442.47" y="96.12" width="1.5" height="1.5" fill="#8c2f3b" fill-opacity="0.85"/>
<rect x="447.69" y="98.01" width="1.5" height="1.5" fill="#8c2f3b" fill-opacity="0.85"/>
<rect x="447.91" y="99.14" width="1.5" height="1.5" fill="#8c2f3b" fill-opacity="0.85"/>
<rect x="447.42" y="108.80" width="1.5" height="1.5" fill="#8c2f3b" fill-opacity="0.85"/>
<rect x="444.86" y="101.71" width="1.5" height="1.5" fill="#8c2f3b" fill-opacity="0.85"/>
<rect x="447.99" y="107.68" width="1.5" height="1.5" fill="#8c2f3b" fill-opacity="0.85"/>
<rect x="448.40" y="109.35" width="1.5" height="1.5" fill="#8c2f3b" fill-opacity="0.85"/>
<rect x="442.38" y="109.35" width="1.5" height="1.5" fill="#8c2f3b" fill-opacity="0.85"/>
<rect x="444.51" y="109.22" width="1.5" height="1.5" fill="#8c2f3b" fill-opacity="0.85"/>
<rect x="445.39" y="109.31" width="1.5" height="1.5" fill="#8c2f3b" fill-opacity="0.85"/>
<rect x="444.78" y="108.86" width="1.5" height="1.5" fill="#8c2f3b" fill-opacity="0.85"/>
<rect x="447.38" y="108.71" width="1.5" height="1.5" fill="#8c2f3b" fill-opacity="0.85"/>
<rect x="442.64" y="101.30" width="1.5" height="1.5" fill="#8c2f3b" fill-opacity="0.85"/>
<rect x="444.93" y="108.43" width="1.5" height="1.5" fill="#8c2f3b" fill-opacity="0.85"/>
<rect x="441.99" y="107.81" width="1.5" height="1.5" fill="#8c2f3b" fill-opacity="0.85"/>
<rect x="448.55" y="109.07" width="1.5" height="1.5" fill="#8c2f3b" fill-opacity="0.85"/>
<rect x="445.38" y="102.65" width="1.5" height="1.5" fill="#8c2f3b" fill-opacity="0.85"/>
<rect x="443.62" y="104.33" width="1.5" height="1.5" fill="#8c2f3b" fill-opacity="0.85"/>
<rect x="447.06" y="109.31" width="1.5" height="1.5" fill="#8c2f3b" fill-opacity="0.85"/>
<rect x="442.45" y="104.19" width="1.5" height="1.5" fill="#8c2f3b" fill-opacity="0.85"/>
<rect x="446.93" y="108.62" width="1.5" height="1.5" fill="#8c2f3b" fill-opacity="0.85"/>
<rect x="440.87" y="109.29" width="1.5" height="1.5" fill="#8c2f3b" fill-opacity="0.85"/>
<rect x="441.35" y="108.37" width="1.5" height="1.5" fill="#8c2f3b" fill-opacity="0.85"/>
<rect x="441.58" y="109.26" width="1.5" height="1.5" fill="#8c2f3b" fill-opacity="0.85"/>
<rect x="448.34" y="107.53" width="1.5" height="1.5" fill="#8c2f3b" fill-opacity="0.85"/>
<rect x="446.84" y="103.74" width="1.5" height="1.5" fill="#8c2f3b" fill-opacity="0.85"/>
<rect x="449.18" y="108.64" width="1.5" height="1.5" fill="#8c2f3b" fill-opacity="0.85"/>
<rect x="441.30" y="108.45" width="1.5" height="1.5" fill="#8c2f3b" fill-opacity="0.85"/>
<line x1="472.70" y1="114.30" x2="472.70" y2="115.80" stroke="#777" stroke-width="0.7"/>
<line x1="472.70" y1="104.20" x2="472.70" y2="95.74" stroke="#999" stroke-width="0.6"/>
<rect x="463.30" y="104.20" width="18.80" height="5.78" fill="#6ab3d7" stroke="#2d5f80" stroke-width="0.6" rx="0" fill-opacity="0.92"/>
<line x1="463.30" y1="108.59" x2="482.10" y2="108.59" stroke="#2d5f80" stroke-width="0.9"/>
<rect x="468.68" y="44.33" width="1.5" height="1.5" fill="#2f6485" fill-opacity="0.85"/>
<rect x="468.87" y="44.71" width="1.5" height="1.5" fill="#2f6485" fill-opacity="0.85"/>
<rect x="473.58" y="63.99" width="1.5" height="1.5" fill="#2f6485" fill-opacity="0.85"/>
<rect x="468.47" y="69.28" width="1.5" height="1.5" fill="#2f6485" fill-opacity="0.85"/>
<rect x="469.77" y="74.20" width="1.5" height="1.5" fill="#2f6485" fill-opacity="0.85"/>
<rect x="468.82" y="74.57" width="1.5" height="1.5" fill="#2f6485" fill-opacity="0.85"/>
<rect x="474.00" y="80.62" width="1.5" height="1.5" fill="#2f6485" fill-opacity="0.85"/>
<rect x="475.28" y="86.67" width="1.5" height="1.5" fill="#2f6485" fill-opacity="0.85"/>
<rect x="470.93" y="87.80" width="1.5" height="1.5" fill="#2f6485" fill-opacity="0.85"/>
<rect x="469.76" y="88.94" width="1.5" height="1.5" fill="#2f6485" fill-opacity="0.85"/>
<rect x="469.97" y="93.10" width="1.5" height="1.5" fill="#2f6485" fill-opacity="0.85"/>
<rect x="473.56" y="94.23" width="1.5" height="1.5" fill="#2f6485" fill-opacity="0.85"/>
<rect x="468.73" y="94.99" width="1.5" height="1.5" fill="#2f6485" fill-opacity="0.85"/>
<rect x="474.05" y="95.74" width="1.5" height="1.5" fill="#2f6485" fill-opacity="0.85"/>
<rect x="473.22" y="98.01" width="1.5" height="1.5" fill="#2f6485" fill-opacity="0.85"/>
<rect x="468.61" y="99.90" width="1.5" height="1.5" fill="#2f6485" fill-opacity="0.85"/>
<rect x="473.91" y="101.79" width="1.5" height="1.5" fill="#2f6485" fill-opacity="0.85"/>
<rect x="471.99" y="109.30" width="1.5" height="1.5" fill="#2f6485" fill-opacity="0.85"/>
<rect x="475.52" y="108.83" width="1.5" height="1.5" fill="#2f6485" fill-opacity="0.85"/>
<rect x="471.04" y="109.11" width="1.5" height="1.5" fill="#2f6485" fill-opacity="0.85"/>
<rect x="476.14" y="109.34" width="1.5" height="1.5" fill="#2f6485" fill-opacity="0.85"/>
<rect x="469.35" y="108.34" width="1.5" height="1.5" fill="#2f6485" fill-opacity="0.85"/>
<rect x="476.34" y="109.35" width="1.5" height="1.5" fill="#2f6485" fill-opacity="0.85"/>
<rect x="467.66" y="107.88" width="1.5" height="1.5" fill="#2f6485" fill-opacity="0.85"/>
<rect x="475.84" y="108.00" width="1.5" height="1.5" fill="#2f6485" fill-opacity="0.85"/>
<rect x="468.13" y="109.35" width="1.5" height="1.5" fill="#2f6485" fill-opacity="0.85"/>
<rect x="475.09" y="108.27" width="1.5" height="1.5" fill="#2f6485" fill-opacity="0.85"/>
<rect x="475.85" y="108.52" width="1.5" height="1.5" fill="#2f6485" fill-opacity="0.85"/>
<rect x="470.08" y="106.25" width="1.5" height="1.5" fill="#2f6485" fill-opacity="0.85"/>
<rect x="473.04" y="105.69" width="1.5" height="1.5" fill="#2f6485" fill-opacity="0.85"/>
<rect x="473.94" y="108.74" width="1.5" height="1.5" fill="#2f6485" fill-opacity="0.85"/>
<rect x="475.54" y="109.35" width="1.5" height="1.5" fill="#2f6485" fill-opacity="0.85"/>
<rect x="468.43" y="106.78" width="1.5" height="1.5" fill="#2f6485" fill-opacity="0.85"/>
<rect x="474.65" y="109.35" width="1.5" height="1.5" fill="#2f6485" fill-opacity="0.85"/>
<rect x="475.20" y="108.39" width="1.5" height="1.5" fill="#2f6485" fill-opacity="0.85"/>
<rect x="468.56" y="107.88" width="1.5" height="1.5" fill="#2f6485" fill-opacity="0.85"/>
<rect x="469.17" y="105.49" width="1.5" height="1.5" fill="#2f6485" fill-opacity="0.85"/>
<rect x="475.93" y="106.02" width="1.5" height="1.5" fill="#2f6485" fill-opacity="0.85"/>
<rect x="473.00" y="108.78" width="1.5" height="1.5" fill="#2f6485" fill-opacity="0.85"/>
<rect x="471.04" y="104.03" width="1.5" height="1.5" fill="#2f6485" fill-opacity="0.85"/>
<rect x="471.40" y="109.28" width="1.5" height="1.5" fill="#2f6485" fill-opacity="0.85"/>
<rect x="474.06" y="104.73" width="1.5" height="1.5" fill="#2f6485" fill-opacity="0.85"/>
<rect x="473.95" y="108.24" width="1.5" height="1.5" fill="#2f6485" fill-opacity="0.85"/>
<rect x="472.08" y="108.71" width="1.5" height="1.5" fill="#2f6485" fill-opacity="0.85"/>
<rect x="476.04" y="109.34" width="1.5" height="1.5" fill="#2f6485" fill-opacity="0.85"/>
<rect x="474.99" y="109.35" width="1.5" height="1.5" fill="#2f6485" fill-opacity="0.85"/>
<rect x="473.69" y="109.17" width="1.5" height="1.5" fill="#2f6485" fill-opacity="0.85"/>
<rect x="469.96" y="109.31" width="1.5" height="1.5" fill="#2f6485" fill-opacity="0.85"/>
<rect x="471.16" y="107.44" width="1.5" height="1.5" fill="#2f6485" fill-opacity="0.85"/>
<rect x="472.96" y="109.22" width="1.5" height="1.5" fill="#2f6485" fill-opacity="0.85"/>
<rect x="473.52" y="109.06" width="1.5" height="1.5" fill="#2f6485" fill-opacity="0.85"/>
<rect x="468.67" y="108.28" width="1.5" height="1.5" fill="#2f6485" fill-opacity="0.85"/>
<rect x="468.52" y="108.67" width="1.5" height="1.5" fill="#2f6485" fill-opacity="0.85"/>
<rect x="469.67" y="105.75" width="1.5" height="1.5" fill="#2f6485" fill-opacity="0.85"/>
<rect x="474.94" y="108.04" width="1.5" height="1.5" fill="#2f6485" fill-opacity="0.85"/>
<rect x="469.29" y="109.29" width="1.5" height="1.5" fill="#2f6485" fill-opacity="0.85"/>
<rect x="476.35" y="109.16" width="1.5" height="1.5" fill="#2f6485" fill-opacity="0.85"/>
<rect x="468.86" y="103.99" width="1.5" height="1.5" fill="#2f6485" fill-opacity="0.85"/>
<rect x="473.55" y="109.25" width="1.5" height="1.5" fill="#2f6485" fill-opacity="0.85"/>
<rect x="473.38" y="109.18" width="1.5" height="1.5" fill="#2f6485" fill-opacity="0.85"/>
<rect x="468.01" y="107.85" width="1.5" height="1.5" fill="#2f6485" fill-opacity="0.85"/>
<rect x="472.96" y="108.03" width="1.5" height="1.5" fill="#2f6485" fill-opacity="0.85"/>
<path d="M445.50 52.30 L445.50 50.70 L472.70 50.70 L472.70 52.30" stroke="#4a4a4a" stroke-width="0.75" fill="none"/>
<text x="459.10" y="49.80" font-size="6.9" fill="#333" text-anchor="middle">ns</text>
<text x="448.80" y="120.30" font-size="6.9" fill="#262626" text-anchor="end" transform="rotate(-45 448.80 120.30)">GEJ</text>
<text x="476.00" y="120.30" font-size="6.9" fill="#262626" text-anchor="end" transform="rotate(-45 476.00 120.30)">non-GEJ</text>
<line x1="523.60" y1="22.90" x2="523.60" y2="114.30" stroke="#b5b5b5" stroke-width="0.9"/>
<line x1="523.60" y1="114.30" x2="583.10" y2="114.30" stroke="#b5b5b5" stroke-width="0.9"/>
<line x1="522.10" y1="110.10" x2="523.60" y2="110.10" stroke="#777" stroke-width="0.7"/>
<text x="519.00" y="112.50" font-size="6.9" fill="#262626" text-anchor="end">0</text>
<line x1="522.10" y1="91.20" x2="523.60" y2="91.20" stroke="#777" stroke-width="0.7"/>
<text x="519.00" y="93.60" font-size="6.9" fill="#262626" text-anchor="end">500</text>
<line x1="522.10" y1="72.30" x2="523.60" y2="72.30" stroke="#777" stroke-width="0.7"/>
<text x="519.00" y="74.70" font-size="6.9" fill="#262626" text-anchor="end">1000</text>
<line x1="522.10" y1="53.40" x2="523.60" y2="53.40" stroke="#777" stroke-width="0.7"/>
<text x="519.00" y="55.80" font-size="6.9" fill="#262626" text-anchor="end">1500</text>
<line x1="522.10" y1="34.50" x2="523.60" y2="34.50" stroke="#777" stroke-width="0.7"/>
<text x="519.00" y="36.90" font-size="6.9" fill="#262626" text-anchor="end">2000</text>
<text x="496.40" y="68.80" font-size="6.9" fill="#262626" text-anchor="middle" transform="rotate(-90 496.40 68.80)">Density (cell/mm<tspan font-size="4.8" dy="-2.8">2</tspan><tspan dy="2.8">)</tspan></text>
<text x="516.00" y="16.10" font-size="7.0" fill="#1a1a1a" text-anchor="start" font-weight="bold">Tumour Differentiation</text>
<line x1="534.20" y1="114.30" x2="534.20" y2="115.80" stroke="#777" stroke-width="0.7"/>
<line x1="534.20" y1="102.92" x2="534.20" y2="93.09" stroke="#999" stroke-width="0.6"/>
<rect x="527.40" y="102.92" width="13.60" height="7.07" fill="#d56f77" stroke="#7a2a33" stroke-width="0.6" rx="0" fill-opacity="0.92"/>
<line x1="527.40" y1="108.40" x2="541.00" y2="108.40" stroke="#7a2a33" stroke-width="0.9"/>
<rect x="536.66" y="43.96" width="1.5" height="1.5" fill="#8c2f3b" fill-opacity="0.85"/>
<rect x="531.62" y="69.28" width="1.5" height="1.5" fill="#8c2f3b" fill-opacity="0.85"/>
<rect x="533.52" y="76.09" width="1.5" height="1.5" fill="#8c2f3b" fill-opacity="0.85"/>
<rect x="530.88" y="80.62" width="1.5" height="1.5" fill="#8c2f3b" fill-opacity="0.85"/>
<rect x="534.64" y="83.65" width="1.5" height="1.5" fill="#8c2f3b" fill-opacity="0.85"/>
<rect x="530.82" y="92.34" width="1.5" height="1.5" fill="#8c2f3b" fill-opacity="0.85"/>
<rect x="532.33" y="93.10" width="1.5" height="1.5" fill="#8c2f3b" fill-opacity="0.85"/>
<rect x="535.71" y="93.47" width="1.5" height="1.5" fill="#8c2f3b" fill-opacity="0.85"/>
<rect x="536.29" y="94.99" width="1.5" height="1.5" fill="#8c2f3b" fill-opacity="0.85"/>
<rect x="532.06" y="98.01" width="1.5" height="1.5" fill="#8c2f3b" fill-opacity="0.85"/>
<rect x="535.90" y="99.14" width="1.5" height="1.5" fill="#8c2f3b" fill-opacity="0.85"/>
<rect x="534.96" y="99.90" width="1.5" height="1.5" fill="#8c2f3b" fill-opacity="0.85"/>
<rect x="531.09" y="103.29" width="1.5" height="1.5" fill="#8c2f3b" fill-opacity="0.85"/>
<rect x="532.01" y="108.90" width="1.5" height="1.5" fill="#8c2f3b" fill-opacity="0.85"/>
<rect x="532.98" y="109.23" width="1.5" height="1.5" fill="#8c2f3b" fill-opacity="0.85"/>
<rect x="530.64" y="107.71" width="1.5" height="1.5" fill="#8c2f3b" fill-opacity="0.85"/>
<rect x="531.33" y="109.22" width="1.5" height="1.5" fill="#8c2f3b" fill-opacity="0.85"/>
<rect x="530.67" y="108.54" width="1.5" height="1.5" fill="#8c2f3b" fill-opacity="0.85"/>
<rect x="530.65" y="106.38" width="1.5" height="1.5" fill="#8c2f3b" fill-opacity="0.85"/>
<rect x="533.73" y="109.33" width="1.5" height="1.5" fill="#8c2f3b" fill-opacity="0.85"/>
<rect x="531.05" y="106.05" width="1.5" height="1.5" fill="#8c2f3b" fill-opacity="0.85"/>
<rect x="536.61" y="109.33" width="1.5" height="1.5" fill="#8c2f3b" fill-opacity="0.85"/>
<rect x="536.70" y="109.26" width="1.5" height="1.5" fill="#8c2f3b" fill-opacity="0.85"/>
<rect x="530.86" y="105.58" width="1.5" height="1.5" fill="#8c2f3b" fill-opacity="0.85"/>
<rect x="533.86" y="106.86" width="1.5" height="1.5" fill="#8c2f3b" fill-opacity="0.85"/>
<rect x="533.80" y="107.72" width="1.5" height="1.5" fill="#8c2f3b" fill-opacity="0.85"/>
<rect x="536.71" y="109.02" width="1.5" height="1.5" fill="#8c2f3b" fill-opacity="0.85"/>
<rect x="534.46" y="108.78" width="1.5" height="1.5" fill="#8c2f3b" fill-opacity="0.85"/>
<rect x="532.58" y="109.26" width="1.5" height="1.5" fill="#8c2f3b" fill-opacity="0.85"/>
<rect x="533.69" y="107.98" width="1.5" height="1.5" fill="#8c2f3b" fill-opacity="0.85"/>
<rect x="534.55" y="103.50" width="1.5" height="1.5" fill="#8c2f3b" fill-opacity="0.85"/>
<rect x="531.42" y="109.33" width="1.5" height="1.5" fill="#8c2f3b" fill-opacity="0.85"/>
<rect x="533.17" y="109.03" width="1.5" height="1.5" fill="#8c2f3b" fill-opacity="0.85"/>
<rect x="535.38" y="104.96" width="1.5" height="1.5" fill="#8c2f3b" fill-opacity="0.85"/>
<line x1="553.30" y1="114.30" x2="553.30" y2="115.80" stroke="#777" stroke-width="0.7"/>
<line x1="553.30" y1="106.32" x2="553.30" y2="101.41" stroke="#999" stroke-width="0.6"/>
<rect x="546.50" y="106.32" width="13.60" height="3.67" fill="#6ab3d7" stroke="#2d5f80" stroke-width="0.6" rx="0" fill-opacity="0.92"/>
<line x1="546.50" y1="108.78" x2="560.10" y2="108.78" stroke="#2d5f80" stroke-width="0.9"/>
<rect x="551.97" y="53.41" width="1.5" height="1.5" fill="#2f6485" fill-opacity="0.85"/>
<rect x="553.37" y="74.20" width="1.5" height="1.5" fill="#2f6485" fill-opacity="0.85"/>
<rect x="550.50" y="94.99" width="1.5" height="1.5" fill="#2f6485" fill-opacity="0.85"/>
<rect x="553.12" y="98.01" width="1.5" height="1.5" fill="#2f6485" fill-opacity="0.85"/>
<rect x="549.76" y="103.68" width="1.5" height="1.5" fill="#2f6485" fill-opacity="0.85"/>
<rect x="550.47" y="109.34" width="1.5" height="1.5" fill="#2f6485" fill-opacity="0.85"/>
<rect x="551.79" y="108.34" width="1.5" height="1.5" fill="#2f6485" fill-opacity="0.85"/>
<rect x="553.65" y="109.26" width="1.5" height="1.5" fill="#2f6485" fill-opacity="0.85"/>
<rect x="550.19" y="107.88" width="1.5" height="1.5" fill="#2f6485" fill-opacity="0.85"/>
<rect x="551.05" y="106.21" width="1.5" height="1.5" fill="#2f6485" fill-opacity="0.85"/>
<rect x="552.96" y="109.30" width="1.5" height="1.5" fill="#2f6485" fill-opacity="0.85"/>
<rect x="549.63" y="108.89" width="1.5" height="1.5" fill="#2f6485" fill-opacity="0.85"/>
<rect x="554.54" y="109.35" width="1.5" height="1.5" fill="#2f6485" fill-opacity="0.85"/>
<rect x="552.17" y="107.13" width="1.5" height="1.5" fill="#2f6485" fill-opacity="0.85"/>
<rect x="550.35" y="109.35" width="1.5" height="1.5" fill="#2f6485" fill-opacity="0.85"/>
<rect x="554.78" y="106.88" width="1.5" height="1.5" fill="#2f6485" fill-opacity="0.85"/>
<rect x="549.38" y="108.86" width="1.5" height="1.5" fill="#2f6485" fill-opacity="0.85"/>
<line x1="572.50" y1="114.30" x2="572.50" y2="115.80" stroke="#777" stroke-width="0.7"/>
<line x1="572.50" y1="100.50" x2="572.50" y2="87.42" stroke="#999" stroke-width="0.6"/>
<rect x="565.70" y="100.50" width="13.60" height="9.49" fill="#284563" stroke="#1b2c44" stroke-width="0.6" rx="0" fill-opacity="0.92"/>
<line x1="565.70" y1="108.40" x2="579.30" y2="108.40" stroke="#1b2c44" stroke-width="0.9"/>
<rect x="568.81" y="22.41" width="1.5" height="1.5" fill="#1d2f47" fill-opacity="0.85"/>
<rect x="573.55" y="44.33" width="1.5" height="1.5" fill="#1d2f47" fill-opacity="0.85"/>
<rect x="574.58" y="44.71" width="1.5" height="1.5" fill="#1d2f47" fill-opacity="0.85"/>
<rect x="570.61" y="54.92" width="1.5" height="1.5" fill="#1d2f47" fill-opacity="0.85"/>
<rect x="574.76" y="63.99" width="1.5" height="1.5" fill="#1d2f47" fill-opacity="0.85"/>
<rect x="571.74" y="65.88" width="1.5" height="1.5" fill="#1d2f47" fill-opacity="0.85"/>
<rect x="570.56" y="74.20" width="1.5" height="1.5" fill="#1d2f47" fill-opacity="0.85"/>
<rect x="572.73" y="74.57" width="1.5" height="1.5" fill="#1d2f47" fill-opacity="0.85"/>
<rect x="574.78" y="86.67" width="1.5" height="1.5" fill="#1d2f47" fill-opacity="0.85"/>
<rect x="572.58" y="88.18" width="1.5" height="1.5" fill="#1d2f47" fill-opacity="0.85"/>
<rect x="572.43" y="88.94" width="1.5" height="1.5" fill="#1d2f47" fill-opacity="0.85"/>
<rect x="571.76" y="92.72" width="1.5" height="1.5" fill="#1d2f47" fill-opacity="0.85"/>
<rect x="568.62" y="93.10" width="1.5" height="1.5" fill="#1d2f47" fill-opacity="0.85"/>
<rect x="574.08" y="94.99" width="1.5" height="1.5" fill="#1d2f47" fill-opacity="0.85"/>
<rect x="571.46" y="96.12" width="1.5" height="1.5" fill="#1d2f47" fill-opacity="0.85"/>
<rect x="573.25" y="98.01" width="1.5" height="1.5" fill="#1d2f47" fill-opacity="0.85"/>
<rect x="572.37" y="99.14" width="1.5" height="1.5" fill="#1d2f47" fill-opacity="0.85"/>
<rect x="571.89" y="105.54" width="1.5" height="1.5" fill="#1d2f47" fill-opacity="0.85"/>
<rect x="570.68" y="109.35" width="1.5" height="1.5" fill="#1d2f47" fill-opacity="0.85"/>
<rect x="568.93" y="106.51" width="1.5" height="1.5" fill="#1d2f47" fill-opacity="0.85"/>
<rect x="571.27" y="106.59" width="1.5" height="1.5" fill="#1d2f47" fill-opacity="0.85"/>
<rect x="572.02" y="109.33" width="1.5" height="1.5" fill="#1d2f47" fill-opacity="0.85"/>
<rect x="574.09" y="108.32" width="1.5" height="1.5" fill="#1d2f47" fill-opacity="0.85"/>
<rect x="569.39" y="109.31" width="1.5" height="1.5" fill="#1d2f47" fill-opacity="0.85"/>
<rect x="573.48" y="102.47" width="1.5" height="1.5" fill="#1d2f47" fill-opacity="0.85"/>
<rect x="570.00" y="106.66" width="1.5" height="1.5" fill="#1d2f47" fill-opacity="0.85"/>
<rect x="573.54" y="109.35" width="1.5" height="1.5" fill="#1d2f47" fill-opacity="0.85"/>
<rect x="573.72" y="105.28" width="1.5" height="1.5" fill="#1d2f47" fill-opacity="0.85"/>
<rect x="568.51" y="108.67" width="1.5" height="1.5" fill="#1d2f47" fill-opacity="0.85"/>
<rect x="575.00" y="109.34" width="1.5" height="1.5" fill="#1d2f47" fill-opacity="0.85"/>
<rect x="573.09" y="108.78" width="1.5" height="1.5" fill="#1d2f47" fill-opacity="0.85"/>
<rect x="571.54" y="108.66" width="1.5" height="1.5" fill="#1d2f47" fill-opacity="0.85"/>
<rect x="572.14" y="101.04" width="1.5" height="1.5" fill="#1d2f47" fill-opacity="0.85"/>
<rect x="570.94" y="109.35" width="1.5" height="1.5" fill="#1d2f47" fill-opacity="0.85"/>
<rect x="571.21" y="109.26" width="1.5" height="1.5" fill="#1d2f47" fill-opacity="0.85"/>
<rect x="569.05" y="104.89" width="1.5" height="1.5" fill="#1d2f47" fill-opacity="0.85"/>
<rect x="572.43" y="107.65" width="1.5" height="1.5" fill="#1d2f47" fill-opacity="0.85"/>
<rect x="573.69" y="109.32" width="1.5" height="1.5" fill="#1d2f47" fill-opacity="0.85"/>
<rect x="571.17" y="108.59" width="1.5" height="1.5" fill="#1d2f47" fill-opacity="0.85"/>
<rect x="571.22" y="107.15" width="1.5" height="1.5" fill="#1d2f47" fill-opacity="0.85"/>
<rect x="574.43" y="109.02" width="1.5" height="1.5" fill="#1d2f47" fill-opacity="0.85"/>
<rect x="570.82" y="105.27" width="1.5" height="1.5" fill="#1d2f47" fill-opacity="0.85"/>
<rect x="568.96" y="109.33" width="1.5" height="1.5" fill="#1d2f47" fill-opacity="0.85"/>
<rect x="570.82" y="102.63" width="1.5" height="1.5" fill="#1d2f47" fill-opacity="0.85"/>
<rect x="572.72" y="107.52" width="1.5" height="1.5" fill="#1d2f47" fill-opacity="0.85"/>
<rect x="571.03" y="109.35" width="1.5" height="1.5" fill="#1d2f47" fill-opacity="0.85"/>
<rect x="572.98" y="107.89" width="1.5" height="1.5" fill="#1d2f47" fill-opacity="0.85"/>
<rect x="573.89" y="100.12" width="1.5" height="1.5" fill="#1d2f47" fill-opacity="0.85"/>
<rect x="572.80" y="108.89" width="1.5" height="1.5" fill="#1d2f47" fill-opacity="0.85"/>
<rect x="572.82" y="109.35" width="1.5" height="1.5" fill="#1d2f47" fill-opacity="0.85"/>
<rect x="573.34" y="108.90" width="1.5" height="1.5" fill="#1d2f47" fill-opacity="0.85"/>
<rect x="574.43" y="109.35" width="1.5" height="1.5" fill="#1d2f47" fill-opacity="0.85"/>
<path d="M534.20 36.90 L534.20 35.30 L572.50 35.30 L572.50 36.90" stroke="#4a4a4a" stroke-width="0.75" fill="none"/>
<text x="553.35" y="34.40" font-size="6.9" fill="#333" text-anchor="middle">ns</text>
<path d="M553.30 45.00 L553.30 43.40 L572.50 43.40 L572.50 45.00" stroke="#4a4a4a" stroke-width="0.75" fill="none"/>
<text x="562.90" y="42.50" font-size="6.9" fill="#333" text-anchor="middle">ns</text>
<path d="M534.20 52.30 L534.20 50.70 L553.30 50.70 L553.30 52.30" stroke="#4a4a4a" stroke-width="0.75" fill="none"/>
<text x="543.75" y="49.80" font-size="6.9" fill="#333" text-anchor="middle">ns</text>
<text x="537.50" y="120.30" font-size="6.9" fill="#262626" text-anchor="end" transform="rotate(-45 537.50 120.30)">Moderate</text>
<text x="556.60" y="120.30" font-size="6.9" fill="#262626" text-anchor="end" transform="rotate(-45 556.60 120.30)">Moderate-poor</text>
<text x="575.80" y="120.30" font-size="6.9" fill="#262626" text-anchor="end" transform="rotate(-45 575.80 120.30)">Poor</text>
<line x1="620.00" y1="22.90" x2="620.00" y2="114.30" stroke="#b5b5b5" stroke-width="0.9"/>
<line x1="620.00" y1="114.30" x2="679.50" y2="114.30" stroke="#b5b5b5" stroke-width="0.9"/>
<line x1="618.50" y1="110.10" x2="620.00" y2="110.10" stroke="#777" stroke-width="0.7"/>
<text x="615.40" y="112.50" font-size="6.9" fill="#262626" text-anchor="end">0</text>
<line x1="618.50" y1="91.20" x2="620.00" y2="91.20" stroke="#777" stroke-width="0.7"/>
<text x="615.40" y="93.60" font-size="6.9" fill="#262626" text-anchor="end">500</text>
<line x1="618.50" y1="72.30" x2="620.00" y2="72.30" stroke="#777" stroke-width="0.7"/>
<text x="615.40" y="74.70" font-size="6.9" fill="#262626" text-anchor="end">1000</text>
<line x1="618.50" y1="53.40" x2="620.00" y2="53.40" stroke="#777" stroke-width="0.7"/>
<text x="615.40" y="55.80" font-size="6.9" fill="#262626" text-anchor="end">1500</text>
<line x1="618.50" y1="34.50" x2="620.00" y2="34.50" stroke="#777" stroke-width="0.7"/>
<text x="615.40" y="36.90" font-size="6.9" fill="#262626" text-anchor="end">2000</text>
<text x="592.80" y="68.80" font-size="6.9" fill="#262626" text-anchor="middle" transform="rotate(-90 592.80 68.80)">Density (cell/mm<tspan font-size="4.8" dy="-2.8">2</tspan><tspan dy="2.8">)</tspan></text>
<text x="614.90" y="16.10" font-size="7.0" fill="#1a1a1a" text-anchor="start" font-weight="bold">Lauren Classification</text>
<line x1="631.10" y1="114.30" x2="631.10" y2="115.80" stroke="#777" stroke-width="0.7"/>
<line x1="631.10" y1="100.99" x2="631.10" y2="98.76" stroke="#999" stroke-width="0.6"/>
<rect x="624.30" y="100.99" width="13.60" height="9.00" fill="#d56f77" stroke="#7a2a33" stroke-width="0.6" rx="0" fill-opacity="0.92"/>
<line x1="624.30" y1="108.59" x2="637.90" y2="108.59" stroke="#7a2a33" stroke-width="0.9"/>
<rect x="633.10" y="22.41" width="1.5" height="1.5" fill="#8c2f3b" fill-opacity="0.85"/>
<rect x="632.37" y="43.96" width="1.5" height="1.5" fill="#8c2f3b" fill-opacity="0.85"/>
<rect x="627.81" y="74.20" width="1.5" height="1.5" fill="#8c2f3b" fill-opacity="0.85"/>
<rect x="627.13" y="86.67" width="1.5" height="1.5" fill="#8c2f3b" fill-opacity="0.85"/>
<rect x="631.92" y="99.14" width="1.5" height="1.5" fill="#8c2f3b" fill-opacity="0.85"/>
<rect x="631.01" y="99.90" width="1.5" height="1.5" fill="#8c2f3b" fill-opacity="0.85"/>
<rect x="630.84" y="108.10" width="1.5" height="1.5" fill="#8c2f3b" fill-opacity="0.85"/>
<rect x="629.52" y="107.98" width="1.5" height="1.5" fill="#8c2f3b" fill-opacity="0.85"/>
<rect x="630.86" y="109.32" width="1.5" height="1.5" fill="#8c2f3b" fill-opacity="0.85"/>
<rect x="629.27" y="108.34" width="1.5" height="1.5" fill="#8c2f3b" fill-opacity="0.85"/>
<rect x="627.65" y="104.99" width="1.5" height="1.5" fill="#8c2f3b" fill-opacity="0.85"/>
<rect x="630.79" y="100.25" width="1.5" height="1.5" fill="#8c2f3b" fill-opacity="0.85"/>
<rect x="630.33" y="109.11" width="1.5" height="1.5" fill="#8c2f3b" fill-opacity="0.85"/>
<rect x="628.22" y="109.28" width="1.5" height="1.5" fill="#8c2f3b" fill-opacity="0.85"/>
<rect x="628.32" y="104.36" width="1.5" height="1.5" fill="#8c2f3b" fill-opacity="0.85"/>
<rect x="632.08" y="106.22" width="1.5" height="1.5" fill="#8c2f3b" fill-opacity="0.85"/>
<rect x="628.41" y="100.68" width="1.5" height="1.5" fill="#8c2f3b" fill-opacity="0.85"/>
<rect x="627.46" y="109.16" width="1.5" height="1.5" fill="#8c2f3b" fill-opacity="0.85"/>
<line x1="650.10" y1="114.30" x2="650.10" y2="115.80" stroke="#777" stroke-width="0.7"/>
<line x1="650.10" y1="102.20" x2="650.10" y2="93.09" stroke="#999" stroke-width="0.6"/>
<rect x="643.30" y="102.20" width="13.60" height="7.79" fill="#6ab3d7" stroke="#2d5f80" stroke-width="0.6" rx="0" fill-opacity="0.92"/>
<line x1="643.30" y1="108.59" x2="656.90" y2="108.59" stroke="#2d5f80" stroke-width="0.9"/>
<rect x="647.94" y="44.33" width="1.5" height="1.5" fill="#2f6485" fill-opacity="0.85"/>
<rect x="650.60" y="53.41" width="1.5" height="1.5" fill="#2f6485" fill-opacity="0.85"/>
<rect x="650.49" y="69.28" width="1.5" height="1.5" fill="#2f6485" fill-opacity="0.85"/>
<rect x="647.90" y="74.20" width="1.5" height="1.5" fill="#2f6485" fill-opacity="0.85"/>
<rect x="650.87" y="76.09" width="1.5" height="1.5" fill="#2f6485" fill-opacity="0.85"/>
<rect x="651.80" y="80.62" width="1.5" height="1.5" fill="#2f6485" fill-opacity="0.85"/>
<rect x="651.57" y="83.65" width="1.5" height="1.5" fill="#2f6485" fill-opacity="0.85"/>
<rect x="647.18" y="87.80" width="1.5" height="1.5" fill="#2f6485" fill-opacity="0.85"/>
<rect x="649.58" y="88.94" width="1.5" height="1.5" fill="#2f6485" fill-opacity="0.85"/>
<rect x="650.66" y="92.72" width="1.5" height="1.5" fill="#2f6485" fill-opacity="0.85"/>
<rect x="650.09" y="93.10" width="1.5" height="1.5" fill="#2f6485" fill-opacity="0.85"/>
<rect x="647.62" y="94.23" width="1.5" height="1.5" fill="#2f6485" fill-opacity="0.85"/>
<rect x="647.08" y="94.99" width="1.5" height="1.5" fill="#2f6485" fill-opacity="0.85"/>
<rect x="650.07" y="96.12" width="1.5" height="1.5" fill="#2f6485" fill-opacity="0.85"/>
<rect x="652.09" y="97.25" width="1.5" height="1.5" fill="#2f6485" fill-opacity="0.85"/>
<rect x="646.58" y="98.01" width="1.5" height="1.5" fill="#2f6485" fill-opacity="0.85"/>
<rect x="651.27" y="98.77" width="1.5" height="1.5" fill="#2f6485" fill-opacity="0.85"/>
<rect x="647.91" y="99.52" width="1.5" height="1.5" fill="#2f6485" fill-opacity="0.85"/>
<rect x="648.66" y="100.28" width="1.5" height="1.5" fill="#2f6485" fill-opacity="0.85"/>
<rect x="652.25" y="101.03" width="1.5" height="1.5" fill="#2f6485" fill-opacity="0.85"/>
<rect x="650.95" y="109.12" width="1.5" height="1.5" fill="#2f6485" fill-opacity="0.85"/>
<rect x="646.89" y="109.22" width="1.5" height="1.5" fill="#2f6485" fill-opacity="0.85"/>
<rect x="648.66" y="105.11" width="1.5" height="1.5" fill="#2f6485" fill-opacity="0.85"/>
<rect x="648.96" y="107.92" width="1.5" height="1.5" fill="#2f6485" fill-opacity="0.85"/>
<rect x="650.46" y="105.61" width="1.5" height="1.5" fill="#2f6485" fill-opacity="0.85"/>
<rect x="650.83" y="108.59" width="1.5" height="1.5" fill="#2f6485" fill-opacity="0.85"/>
<rect x="651.31" y="102.88" width="1.5" height="1.5" fill="#2f6485" fill-opacity="0.85"/>
<rect x="648.17" y="104.49" width="1.5" height="1.5" fill="#2f6485" fill-opacity="0.85"/>
<rect x="650.53" y="108.06" width="1.5" height="1.5" fill="#2f6485" fill-opacity="0.85"/>
<rect x="649.65" y="102.72" width="1.5" height="1.5" fill="#2f6485" fill-opacity="0.85"/>
<rect x="648.45" y="109.17" width="1.5" height="1.5" fill="#2f6485" fill-opacity="0.85"/>
<rect x="649.09" y="109.27" width="1.5" height="1.5" fill="#2f6485" fill-opacity="0.85"/>
<rect x="649.58" y="103.54" width="1.5" height="1.5" fill="#2f6485" fill-opacity="0.85"/>
<rect x="651.64" y="102.55" width="1.5" height="1.5" fill="#2f6485" fill-opacity="0.85"/>
<rect x="651.75" y="105.45" width="1.5" height="1.5" fill="#2f6485" fill-opacity="0.85"/>
<rect x="648.10" y="106.33" width="1.5" height="1.5" fill="#2f6485" fill-opacity="0.85"/>
<rect x="649.19" y="109.35" width="1.5" height="1.5" fill="#2f6485" fill-opacity="0.85"/>
<rect x="650.81" y="109.23" width="1.5" height="1.5" fill="#2f6485" fill-opacity="0.85"/>
<rect x="648.70" y="105.70" width="1.5" height="1.5" fill="#2f6485" fill-opacity="0.85"/>
<rect x="646.26" y="109.35" width="1.5" height="1.5" fill="#2f6485" fill-opacity="0.85"/>
<rect x="651.05" y="109.12" width="1.5" height="1.5" fill="#2f6485" fill-opacity="0.85"/>
<rect x="646.31" y="109.26" width="1.5" height="1.5" fill="#2f6485" fill-opacity="0.85"/>
<rect x="651.07" y="102.92" width="1.5" height="1.5" fill="#2f6485" fill-opacity="0.85"/>
<rect x="646.87" y="109.27" width="1.5" height="1.5" fill="#2f6485" fill-opacity="0.85"/>
<rect x="646.48" y="109.34" width="1.5" height="1.5" fill="#2f6485" fill-opacity="0.85"/>
<rect x="648.20" y="109.08" width="1.5" height="1.5" fill="#2f6485" fill-opacity="0.85"/>
<rect x="648.33" y="103.14" width="1.5" height="1.5" fill="#2f6485" fill-opacity="0.85"/>
<rect x="647.70" y="107.67" width="1.5" height="1.5" fill="#2f6485" fill-opacity="0.85"/>
<rect x="651.01" y="104.17" width="1.5" height="1.5" fill="#2f6485" fill-opacity="0.85"/>
<rect x="651.22" y="105.69" width="1.5" height="1.5" fill="#2f6485" fill-opacity="0.85"/>
<rect x="647.44" y="104.21" width="1.5" height="1.5" fill="#2f6485" fill-opacity="0.85"/>
<rect x="651.27" y="101.54" width="1.5" height="1.5" fill="#2f6485" fill-opacity="0.85"/>
<rect x="650.51" y="107.30" width="1.5" height="1.5" fill="#2f6485" fill-opacity="0.85"/>
<rect x="649.87" y="109.35" width="1.5" height="1.5" fill="#2f6485" fill-opacity="0.85"/>
<rect x="650.84" y="109.34" width="1.5" height="1.5" fill="#2f6485" fill-opacity="0.85"/>
<rect x="651.43" y="103.61" width="1.5" height="1.5" fill="#2f6485" fill-opacity="0.85"/>
<rect x="649.84" y="108.04" width="1.5" height="1.5" fill="#2f6485" fill-opacity="0.85"/>
<rect x="646.44" y="101.50" width="1.5" height="1.5" fill="#2f6485" fill-opacity="0.85"/>
<rect x="649.94" y="107.47" width="1.5" height="1.5" fill="#2f6485" fill-opacity="0.85"/>
<rect x="646.61" y="101.56" width="1.5" height="1.5" fill="#2f6485" fill-opacity="0.85"/>
<rect x="652.56" y="108.83" width="1.5" height="1.5" fill="#2f6485" fill-opacity="0.85"/>
<rect x="649.40" y="103.75" width="1.5" height="1.5" fill="#2f6485" fill-opacity="0.85"/>
<rect x="649.98" y="104.30" width="1.5" height="1.5" fill="#2f6485" fill-opacity="0.85"/>
<rect x="650.20" y="103.59" width="1.5" height="1.5" fill="#2f6485" fill-opacity="0.85"/>
<rect x="649.14" y="108.76" width="1.5" height="1.5" fill="#2f6485" fill-opacity="0.85"/>
<line x1="668.80" y1="114.30" x2="668.80" y2="115.80" stroke="#777" stroke-width="0.7"/>
<line x1="668.80" y1="107.00" x2="668.80" y2="104.43" stroke="#999" stroke-width="0.6"/>
<rect x="662.00" y="107.00" width="13.60" height="2.99" fill="#284563" stroke="#1b2c44" stroke-width="0.6" rx="0" fill-opacity="0.92"/>
<line x1="662.00" y1="109.16" x2="675.60" y2="109.16" stroke="#1b2c44" stroke-width="0.9"/>
<rect x="664.96" y="54.92" width="1.5" height="1.5" fill="#1d2f47" fill-opacity="0.85"/>
<rect x="668.56" y="63.99" width="1.5" height="1.5" fill="#1d2f47" fill-opacity="0.85"/>
<rect x="669.37" y="65.88" width="1.5" height="1.5" fill="#1d2f47" fill-opacity="0.85"/>
<rect x="665.51" y="74.20" width="1.5" height="1.5" fill="#1d2f47" fill-opacity="0.85"/>
<rect x="668.13" y="92.72" width="1.5" height="1.5" fill="#1d2f47" fill-opacity="0.85"/>
<rect x="667.61" y="99.90" width="1.5" height="1.5" fill="#1d2f47" fill-opacity="0.85"/>
<rect x="669.46" y="101.79" width="1.5" height="1.5" fill="#1d2f47" fill-opacity="0.85"/>
<rect x="665.75" y="103.68" width="1.5" height="1.5" fill="#1d2f47" fill-opacity="0.85"/>
<rect x="667.51" y="104.81" width="1.5" height="1.5" fill="#1d2f47" fill-opacity="0.85"/>
<rect x="668.20" y="106.85" width="1.5" height="1.5" fill="#1d2f47" fill-opacity="0.85"/>
<rect x="670.80" y="107.76" width="1.5" height="1.5" fill="#1d2f47" fill-opacity="0.85"/>
<rect x="666.61" y="108.18" width="1.5" height="1.5" fill="#1d2f47" fill-opacity="0.85"/>
<rect x="667.12" y="109.35" width="1.5" height="1.5" fill="#1d2f47" fill-opacity="0.85"/>
<rect x="670.22" y="109.17" width="1.5" height="1.5" fill="#1d2f47" fill-opacity="0.85"/>
<rect x="666.65" y="108.45" width="1.5" height="1.5" fill="#1d2f47" fill-opacity="0.85"/>
<rect x="671.24" y="109.35" width="1.5" height="1.5" fill="#1d2f47" fill-opacity="0.85"/>
<rect x="666.04" y="109.35" width="1.5" height="1.5" fill="#1d2f47" fill-opacity="0.85"/>
<rect x="670.20" y="109.04" width="1.5" height="1.5" fill="#1d2f47" fill-opacity="0.85"/>
<rect x="664.99" y="107.94" width="1.5" height="1.5" fill="#1d2f47" fill-opacity="0.85"/>
<rect x="670.11" y="109.35" width="1.5" height="1.5" fill="#1d2f47" fill-opacity="0.85"/>
<rect x="669.60" y="109.25" width="1.5" height="1.5" fill="#1d2f47" fill-opacity="0.85"/>
<rect x="668.11" y="109.35" width="1.5" height="1.5" fill="#1d2f47" fill-opacity="0.85"/>
<rect x="666.52" y="109.35" width="1.5" height="1.5" fill="#1d2f47" fill-opacity="0.85"/>
<rect x="664.97" y="109.30" width="1.5" height="1.5" fill="#1d2f47" fill-opacity="0.85"/>
<rect x="667.22" y="109.24" width="1.5" height="1.5" fill="#1d2f47" fill-opacity="0.85"/>
<rect x="669.23" y="107.05" width="1.5" height="1.5" fill="#1d2f47" fill-opacity="0.85"/>
<rect x="666.15" y="109.03" width="1.5" height="1.5" fill="#1d2f47" fill-opacity="0.85"/>
<path d="M631.10 36.90 L631.10 35.30 L668.80 35.30 L668.80 36.90" stroke="#4a4a4a" stroke-width="0.75" fill="none"/>
<text x="649.95" y="34.40" font-size="6.9" fill="#333" text-anchor="middle">ns</text>
<path d="M650.10 45.00 L650.10 43.40 L668.80 43.40 L668.80 45.00" stroke="#4a4a4a" stroke-width="0.75" fill="none"/>
<text x="659.45" y="42.50" font-size="6.9" fill="#333" text-anchor="middle">ns</text>
<path d="M631.10 52.30 L631.10 50.70 L650.10 50.70 L650.10 52.30" stroke="#4a4a4a" stroke-width="0.75" fill="none"/>
<text x="640.60" y="49.80" font-size="6.9" fill="#333" text-anchor="middle">ns</text>
<text x="634.40" y="120.30" font-size="6.9" fill="#262626" text-anchor="end" transform="rotate(-45 634.40 120.30)">Diffuse type</text>
<text x="653.40" y="120.30" font-size="6.9" fill="#262626" text-anchor="end" transform="rotate(-45 653.40 120.30)">Intestinal type</text>
<text x="672.10" y="120.30" font-size="6.9" fill="#262626" text-anchor="end" transform="rotate(-45 672.10 120.30)">Mixed type</text>
<line x1="142.20" y1="173.80" x2="142.20" y2="265.20" stroke="#b5b5b5" stroke-width="0.9"/>
<line x1="142.20" y1="265.20" x2="201.00" y2="265.20" stroke="#b5b5b5" stroke-width="0.9"/>
<line x1="140.70" y1="261.00" x2="142.20" y2="261.00" stroke="#777" stroke-width="0.7"/>
<text x="137.60" y="263.40" font-size="6.9" fill="#262626" text-anchor="end">0</text>
<line x1="140.70" y1="242.10" x2="142.20" y2="242.10" stroke="#777" stroke-width="0.7"/>
<text x="137.60" y="244.50" font-size="6.9" fill="#262626" text-anchor="end">500</text>
<line x1="140.70" y1="223.20" x2="142.20" y2="223.20" stroke="#777" stroke-width="0.7"/>
<text x="137.60" y="225.60" font-size="6.9" fill="#262626" text-anchor="end">1000</text>
<line x1="140.70" y1="204.30" x2="142.20" y2="204.30" stroke="#777" stroke-width="0.7"/>
<text x="137.60" y="206.70" font-size="6.9" fill="#262626" text-anchor="end">1500</text>
<line x1="140.70" y1="185.40" x2="142.20" y2="185.40" stroke="#777" stroke-width="0.7"/>
<text x="137.60" y="187.80" font-size="6.9" fill="#262626" text-anchor="end">2000</text>
<text x="115.00" y="219.70" font-size="6.9" fill="#262626" text-anchor="middle" transform="rotate(-90 115.00 219.70)">Density (cell/mm<tspan font-size="4.8" dy="-2.8">2</tspan><tspan dy="2.8">)</tspan></text>
<text x="172.00" y="167.00" font-size="7.0" fill="#1a1a1a" text-anchor="middle" font-weight="bold">MMR Status</text>
<line x1="158.40" y1="265.20" x2="158.40" y2="266.70" stroke="#777" stroke-width="0.7"/>
<line x1="158.40" y1="238.70" x2="158.40" y2="232.20" stroke="#999" stroke-width="0.6"/>
<rect x="149.00" y="238.70" width="18.80" height="21.92" fill="#d56f77" stroke="#7a2a33" stroke-width="0.6" rx="0" fill-opacity="0.92"/>
<line x1="149.00" y1="259.41" x2="167.80" y2="259.41" stroke="#7a2a33" stroke-width="0.9"/>
<rect x="155.03" y="195.23" width="1.5" height="1.5" fill="#8c2f3b" fill-opacity="0.85"/>
<rect x="159.10" y="231.52" width="1.5" height="1.5" fill="#8c2f3b" fill-opacity="0.85"/>
<rect x="155.09" y="239.84" width="1.5" height="1.5" fill="#8c2f3b" fill-opacity="0.85"/>
<rect x="160.11" y="260.18" width="1.5" height="1.5" fill="#8c2f3b" fill-opacity="0.85"/>
<rect x="159.74" y="259.12" width="1.5" height="1.5" fill="#8c2f3b" fill-opacity="0.85"/>
<rect x="153.27" y="260.25" width="1.5" height="1.5" fill="#8c2f3b" fill-opacity="0.85"/>
<line x1="185.70" y1="265.20" x2="185.70" y2="266.70" stroke="#777" stroke-width="0.7"/>
<line x1="185.70" y1="253.40" x2="185.70" y2="243.99" stroke="#999" stroke-width="0.6"/>
<rect x="176.30" y="253.40" width="18.80" height="7.48" fill="#6ab3d7" stroke="#2d5f80" stroke-width="0.6" rx="0" fill-opacity="0.92"/>
<line x1="176.30" y1="259.71" x2="195.10" y2="259.71" stroke="#2d5f80" stroke-width="0.9"/>
<rect x="184.10" y="173.31" width="1.5" height="1.5" fill="#2f6485" fill-opacity="0.85"/>
<rect x="185.59" y="195.23" width="1.5" height="1.5" fill="#2f6485" fill-opacity="0.85"/>
<rect x="186.73" y="204.31" width="1.5" height="1.5" fill="#2f6485" fill-opacity="0.85"/>
<rect x="186.19" y="205.82" width="1.5" height="1.5" fill="#2f6485" fill-opacity="0.85"/>
<rect x="183.69" y="214.89" width="1.5" height="1.5" fill="#2f6485" fill-opacity="0.85"/>
<rect x="183.63" y="216.78" width="1.5" height="1.5" fill="#2f6485" fill-opacity="0.85"/>
<rect x="188.69" y="220.18" width="1.5" height="1.5" fill="#2f6485" fill-opacity="0.85"/>
<rect x="181.54" y="225.10" width="1.5" height="1.5" fill="#2f6485" fill-opacity="0.85"/>
<rect x="181.63" y="225.47" width="1.5" height="1.5" fill="#2f6485" fill-opacity="0.85"/>
<rect x="188.63" y="226.99" width="1.5" height="1.5" fill="#2f6485" fill-opacity="0.85"/>
<rect x="182.90" y="231.52" width="1.5" height="1.5" fill="#2f6485" fill-opacity="0.85"/>
<rect x="184.49" y="234.55" width="1.5" height="1.5" fill="#2f6485" fill-opacity="0.85"/>
<rect x="185.33" y="237.57" width="1.5" height="1.5" fill="#2f6485" fill-opacity="0.85"/>
<rect x="184.91" y="238.70" width="1.5" height="1.5" fill="#2f6485" fill-opacity="0.85"/>
<rect x="186.95" y="243.24" width="1.5" height="1.5" fill="#2f6485" fill-opacity="0.85"/>
<rect x="181.02" y="243.62" width="1.5" height="1.5" fill="#2f6485" fill-opacity="0.85"/>
<rect x="182.04" y="244.00" width="1.5" height="1.5" fill="#2f6485" fill-opacity="0.85"/>
<rect x="186.33" y="245.13" width="1.5" height="1.5" fill="#2f6485" fill-opacity="0.85"/>
<rect x="187.76" y="245.89" width="1.5" height="1.5" fill="#2f6485" fill-opacity="0.85"/>
<rect x="182.79" y="247.02" width="1.5" height="1.5" fill="#2f6485" fill-opacity="0.85"/>
<rect x="187.41" y="248.91" width="1.5" height="1.5" fill="#2f6485" fill-opacity="0.85"/>
<rect x="185.29" y="249.67" width="1.5" height="1.5" fill="#2f6485" fill-opacity="0.85"/>
<rect x="184.39" y="250.80" width="1.5" height="1.5" fill="#2f6485" fill-opacity="0.85"/>
<rect x="184.17" y="251.93" width="1.5" height="1.5" fill="#2f6485" fill-opacity="0.85"/>
<rect x="187.99" y="258.08" width="1.5" height="1.5" fill="#2f6485" fill-opacity="0.85"/>
<rect x="186.41" y="257.25" width="1.5" height="1.5" fill="#2f6485" fill-opacity="0.85"/>
<rect x="181.09" y="253.16" width="1.5" height="1.5" fill="#2f6485" fill-opacity="0.85"/>
<rect x="188.50" y="255.93" width="1.5" height="1.5" fill="#2f6485" fill-opacity="0.85"/>
<rect x="185.06" y="259.80" width="1.5" height="1.5" fill="#2f6485" fill-opacity="0.85"/>
<rect x="186.52" y="258.07" width="1.5" height="1.5" fill="#2f6485" fill-opacity="0.85"/>
<rect x="181.71" y="259.40" width="1.5" height="1.5" fill="#2f6485" fill-opacity="0.85"/>
<rect x="185.28" y="257.21" width="1.5" height="1.5" fill="#2f6485" fill-opacity="0.85"/>
<rect x="187.38" y="260.11" width="1.5" height="1.5" fill="#2f6485" fill-opacity="0.85"/>
<rect x="181.49" y="256.47" width="1.5" height="1.5" fill="#2f6485" fill-opacity="0.85"/>
<rect x="188.41" y="260.12" width="1.5" height="1.5" fill="#2f6485" fill-opacity="0.85"/>
<rect x="184.09" y="253.79" width="1.5" height="1.5" fill="#2f6485" fill-opacity="0.85"/>
<rect x="181.55" y="255.45" width="1.5" height="1.5" fill="#2f6485" fill-opacity="0.85"/>
<rect x="183.05" y="257.93" width="1.5" height="1.5" fill="#2f6485" fill-opacity="0.85"/>
<rect x="186.61" y="260.11" width="1.5" height="1.5" fill="#2f6485" fill-opacity="0.85"/>
<rect x="182.29" y="259.65" width="1.5" height="1.5" fill="#2f6485" fill-opacity="0.85"/>
<rect x="182.58" y="260.21" width="1.5" height="1.5" fill="#2f6485" fill-opacity="0.85"/>
<rect x="182.18" y="255.55" width="1.5" height="1.5" fill="#2f6485" fill-opacity="0.85"/>
<rect x="187.82" y="255.55" width="1.5" height="1.5" fill="#2f6485" fill-opacity="0.85"/>
<rect x="188.20" y="253.21" width="1.5" height="1.5" fill="#2f6485" fill-opacity="0.85"/>
<rect x="186.73" y="260.03" width="1.5" height="1.5" fill="#2f6485" fill-opacity="0.85"/>
<rect x="183.76" y="257.36" width="1.5" height="1.5" fill="#2f6485" fill-opacity="0.85"/>
<rect x="180.84" y="259.99" width="1.5" height="1.5" fill="#2f6485" fill-opacity="0.85"/>
<rect x="181.50" y="253.98" width="1.5" height="1.5" fill="#2f6485" fill-opacity="0.85"/>
<rect x="185.06" y="260.25" width="1.5" height="1.5" fill="#2f6485" fill-opacity="0.85"/>
<rect x="181.08" y="260.19" width="1.5" height="1.5" fill="#2f6485" fill-opacity="0.85"/>
<rect x="183.68" y="253.04" width="1.5" height="1.5" fill="#2f6485" fill-opacity="0.85"/>
<rect x="183.65" y="260.10" width="1.5" height="1.5" fill="#2f6485" fill-opacity="0.85"/>
<rect x="187.71" y="255.51" width="1.5" height="1.5" fill="#2f6485" fill-opacity="0.85"/>
<rect x="182.27" y="258.53" width="1.5" height="1.5" fill="#2f6485" fill-opacity="0.85"/>
<rect x="182.07" y="259.09" width="1.5" height="1.5" fill="#2f6485" fill-opacity="0.85"/>
<rect x="182.72" y="259.24" width="1.5" height="1.5" fill="#2f6485" fill-opacity="0.85"/>
<rect x="181.68" y="260.20" width="1.5" height="1.5" fill="#2f6485" fill-opacity="0.85"/>
<rect x="184.03" y="255.79" width="1.5" height="1.5" fill="#2f6485" fill-opacity="0.85"/>
<rect x="187.40" y="260.01" width="1.5" height="1.5" fill="#2f6485" fill-opacity="0.85"/>
<rect x="181.80" y="258.30" width="1.5" height="1.5" fill="#2f6485" fill-opacity="0.85"/>
<rect x="186.78" y="260.25" width="1.5" height="1.5" fill="#2f6485" fill-opacity="0.85"/>
<rect x="182.40" y="259.38" width="1.5" height="1.5" fill="#2f6485" fill-opacity="0.85"/>
<rect x="184.09" y="260.18" width="1.5" height="1.5" fill="#2f6485" fill-opacity="0.85"/>
<rect x="186.73" y="260.23" width="1.5" height="1.5" fill="#2f6485" fill-opacity="0.85"/>
<rect x="185.80" y="260.22" width="1.5" height="1.5" fill="#2f6485" fill-opacity="0.85"/>
<rect x="188.93" y="259.54" width="1.5" height="1.5" fill="#2f6485" fill-opacity="0.85"/>
<rect x="189.24" y="254.18" width="1.5" height="1.5" fill="#2f6485" fill-opacity="0.85"/>
<rect x="180.63" y="260.24" width="1.5" height="1.5" fill="#2f6485" fill-opacity="0.85"/>
<rect x="187.74" y="259.35" width="1.5" height="1.5" fill="#2f6485" fill-opacity="0.85"/>
<rect x="181.62" y="258.61" width="1.5" height="1.5" fill="#2f6485" fill-opacity="0.85"/>
<rect x="186.60" y="253.49" width="1.5" height="1.5" fill="#2f6485" fill-opacity="0.85"/>
<rect x="181.31" y="256.39" width="1.5" height="1.5" fill="#2f6485" fill-opacity="0.85"/>
<rect x="189.44" y="259.58" width="1.5" height="1.5" fill="#2f6485" fill-opacity="0.85"/>
<rect x="181.61" y="252.68" width="1.5" height="1.5" fill="#2f6485" fill-opacity="0.85"/>
<rect x="181.97" y="253.93" width="1.5" height="1.5" fill="#2f6485" fill-opacity="0.85"/>
<rect x="180.52" y="260.25" width="1.5" height="1.5" fill="#2f6485" fill-opacity="0.85"/>
<rect x="185.89" y="259.72" width="1.5" height="1.5" fill="#2f6485" fill-opacity="0.85"/>
<rect x="183.14" y="253.92" width="1.5" height="1.5" fill="#2f6485" fill-opacity="0.85"/>
<rect x="180.54" y="255.73" width="1.5" height="1.5" fill="#2f6485" fill-opacity="0.85"/>
<path d="M158.40 203.20 L158.40 201.60 L185.70 201.60 L185.70 203.20" stroke="#4a4a4a" stroke-width="0.75" fill="none"/>
<text x="172.05" y="200.70" font-size="6.9" fill="#333" text-anchor="middle">ns</text>
<text x="161.70" y="271.20" font-size="6.9" fill="#262626" text-anchor="end" transform="rotate(-45 161.70 271.20)">DMMR</text>
<text x="189.00" y="271.20" font-size="6.9" fill="#262626" text-anchor="end" transform="rotate(-45 189.00 271.20)">PMMR</text>
<line x1="235.50" y1="173.80" x2="235.50" y2="265.20" stroke="#b5b5b5" stroke-width="0.9"/>
<line x1="235.50" y1="265.20" x2="294.30" y2="265.20" stroke="#b5b5b5" stroke-width="0.9"/>
<line x1="234.00" y1="261.00" x2="235.50" y2="261.00" stroke="#777" stroke-width="0.7"/>
<text x="230.90" y="263.40" font-size="6.9" fill="#262626" text-anchor="end">0</text>
<line x1="234.00" y1="242.10" x2="235.50" y2="242.10" stroke="#777" stroke-width="0.7"/>
<text x="230.90" y="244.50" font-size="6.9" fill="#262626" text-anchor="end">500</text>
<line x1="234.00" y1="223.20" x2="235.50" y2="223.20" stroke="#777" stroke-width="0.7"/>
<text x="230.90" y="225.60" font-size="6.9" fill="#262626" text-anchor="end">1000</text>
<line x1="234.00" y1="204.30" x2="235.50" y2="204.30" stroke="#777" stroke-width="0.7"/>
<text x="230.90" y="206.70" font-size="6.9" fill="#262626" text-anchor="end">1500</text>
<line x1="234.00" y1="185.40" x2="235.50" y2="185.40" stroke="#777" stroke-width="0.7"/>
<text x="230.90" y="187.80" font-size="6.9" fill="#262626" text-anchor="end">2000</text>
<text x="208.30" y="219.70" font-size="6.9" fill="#262626" text-anchor="middle" transform="rotate(-90 208.30 219.70)">Density (cell/mm<tspan font-size="4.8" dy="-2.8">2</tspan><tspan dy="2.8">)</tspan></text>
<text x="265.30" y="167.00" font-size="7.0" fill="#1a1a1a" text-anchor="middle" font-weight="bold">EBV Status</text>
<line x1="251.70" y1="265.20" x2="251.70" y2="266.70" stroke="#777" stroke-width="0.7"/>
<line x1="251.70" y1="253.82" x2="251.70" y2="243.99" stroke="#999" stroke-width="0.6"/>
<rect x="242.30" y="253.82" width="18.80" height="7.07" fill="#d56f77" stroke="#7a2a33" stroke-width="0.6" rx="0" fill-opacity="0.92"/>
<line x1="242.30" y1="259.49" x2="261.10" y2="259.49" stroke="#7a2a33" stroke-width="0.9"/>
<rect x="249.58" y="173.31" width="1.5" height="1.5" fill="#8c2f3b" fill-opacity="0.85"/>
<rect x="250.74" y="194.86" width="1.5" height="1.5" fill="#8c2f3b" fill-opacity="0.85"/>
<rect x="248.71" y="195.23" width="1.5" height="1.5" fill="#8c2f3b" fill-opacity="0.85"/>
<rect x="248.80" y="205.82" width="1.5" height="1.5" fill="#8c2f3b" fill-opacity="0.85"/>
<rect x="249.68" y="220.18" width="1.5" height="1.5" fill="#8c2f3b" fill-opacity="0.85"/>
<rect x="253.26" y="225.10" width="1.5" height="1.5" fill="#8c2f3b" fill-opacity="0.85"/>
<rect x="250.92" y="225.47" width="1.5" height="1.5" fill="#8c2f3b" fill-opacity="0.85"/>
<rect x="252.91" y="226.99" width="1.5" height="1.5" fill="#8c2f3b" fill-opacity="0.85"/>
<rect x="247.04" y="231.52" width="1.5" height="1.5" fill="#8c2f3b" fill-opacity="0.85"/>
<rect x="247.45" y="234.55" width="1.5" height="1.5" fill="#8c2f3b" fill-opacity="0.85"/>
<rect x="253.22" y="237.57" width="1.5" height="1.5" fill="#8c2f3b" fill-opacity="0.85"/>
<rect x="248.69" y="238.70" width="1.5" height="1.5" fill="#8c2f3b" fill-opacity="0.85"/>
<rect x="254.38" y="243.24" width="1.5" height="1.5" fill="#8c2f3b" fill-opacity="0.85"/>
<rect x="251.17" y="243.62" width="1.5" height="1.5" fill="#8c2f3b" fill-opacity="0.85"/>
<rect x="254.49" y="244.00" width="1.5" height="1.5" fill="#8c2f3b" fill-opacity="0.85"/>
<rect x="248.67" y="245.13" width="1.5" height="1.5" fill="#8c2f3b" fill-opacity="0.85"/>
<rect x="253.87" y="245.89" width="1.5" height="1.5" fill="#8c2f3b" fill-opacity="0.85"/>
<rect x="250.25" y="247.02" width="1.5" height="1.5" fill="#8c2f3b" fill-opacity="0.85"/>
<rect x="251.58" y="248.91" width="1.5" height="1.5" fill="#8c2f3b" fill-opacity="0.85"/>
<rect x="246.87" y="249.67" width="1.5" height="1.5" fill="#8c2f3b" fill-opacity="0.85"/>
<rect x="254.20" y="250.80" width="1.5" height="1.5" fill="#8c2f3b" fill-opacity="0.85"/>
<rect x="250.17" y="251.93" width="1.5" height="1.5" fill="#8c2f3b" fill-opacity="0.85"/>
<rect x="251.50" y="260.18" width="1.5" height="1.5" fill="#8c2f3b" fill-opacity="0.85"/>
<rect x="248.54" y="254.72" width="1.5" height="1.5" fill="#8c2f3b" fill-opacity="0.85"/>
<rect x="253.07" y="259.40" width="1.5" height="1.5" fill="#8c2f3b" fill-opacity="0.85"/>
<rect x="250.79" y="253.57" width="1.5" height="1.5" fill="#8c2f3b" fill-opacity="0.85"/>
<rect x="250.82" y="260.20" width="1.5" height="1.5" fill="#8c2f3b" fill-opacity="0.85"/>
<rect x="253.72" y="260.17" width="1.5" height="1.5" fill="#8c2f3b" fill-opacity="0.85"/>
<rect x="248.97" y="260.14" width="1.5" height="1.5" fill="#8c2f3b" fill-opacity="0.85"/>
<rect x="250.90" y="258.94" width="1.5" height="1.5" fill="#8c2f3b" fill-opacity="0.85"/>
<rect x="248.33" y="255.58" width="1.5" height="1.5" fill="#8c2f3b" fill-opacity="0.85"/>
<rect x="254.35" y="260.19" width="1.5" height="1.5" fill="#8c2f3b" fill-opacity="0.85"/>
<rect x="250.69" y="260.25" width="1.5" height="1.5" fill="#8c2f3b" fill-opacity="0.85"/>
<rect x="247.93" y="258.32" width="1.5" height="1.5" fill="#8c2f3b" fill-opacity="0.85"/>
<rect x="250.97" y="260.05" width="1.5" height="1.5" fill="#8c2f3b" fill-opacity="0.85"/>
<rect x="253.89" y="260.25" width="1.5" height="1.5" fill="#8c2f3b" fill-opacity="0.85"/>
<rect x="250.88" y="259.56" width="1.5" height="1.5" fill="#8c2f3b" fill-opacity="0.85"/>
<rect x="251.05" y="258.50" width="1.5" height="1.5" fill="#8c2f3b" fill-opacity="0.85"/>
<rect x="252.84" y="258.98" width="1.5" height="1.5" fill="#8c2f3b" fill-opacity="0.85"/>
<rect x="251.98" y="259.70" width="1.5" height="1.5" fill="#8c2f3b" fill-opacity="0.85"/>
<rect x="254.30" y="260.12" width="1.5" height="1.5" fill="#8c2f3b" fill-opacity="0.85"/>
<rect x="254.88" y="260.24" width="1.5" height="1.5" fill="#8c2f3b" fill-opacity="0.85"/>
<rect x="250.91" y="259.17" width="1.5" height="1.5" fill="#8c2f3b" fill-opacity="0.85"/>
<rect x="246.53" y="260.25" width="1.5" height="1.5" fill="#8c2f3b" fill-opacity="0.85"/>
<rect x="251.58" y="253.96" width="1.5" height="1.5" fill="#8c2f3b" fill-opacity="0.85"/>
<rect x="252.07" y="260.10" width="1.5" height="1.5" fill="#8c2f3b" fill-opacity="0.85"/>
<rect x="250.44" y="260.21" width="1.5" height="1.5" fill="#8c2f3b" fill-opacity="0.85"/>
<rect x="252.49" y="260.25" width="1.5" height="1.5" fill="#8c2f3b" fill-opacity="0.85"/>
<rect x="252.08" y="259.17" width="1.5" height="1.5" fill="#8c2f3b" fill-opacity="0.85"/>
<rect x="250.67" y="258.87" width="1.5" height="1.5" fill="#8c2f3b" fill-opacity="0.85"/>
<rect x="249.19" y="260.25" width="1.5" height="1.5" fill="#8c2f3b" fill-opacity="0.85"/>
<rect x="253.19" y="259.13" width="1.5" height="1.5" fill="#8c2f3b" fill-opacity="0.85"/>
<rect x="253.10" y="258.09" width="1.5" height="1.5" fill="#8c2f3b" fill-opacity="0.85"/>
<rect x="247.61" y="260.25" width="1.5" height="1.5" fill="#8c2f3b" fill-opacity="0.85"/>
<rect x="250.25" y="260.15" width="1.5" height="1.5" fill="#8c2f3b" fill-opacity="0.85"/>
<rect x="254.42" y="256.50" width="1.5" height="1.5" fill="#8c2f3b" fill-opacity="0.85"/>
<rect x="247.88" y="259.89" width="1.5" height="1.5" fill="#8c2f3b" fill-opacity="0.85"/>
<rect x="253.77" y="256.97" width="1.5" height="1.5" fill="#8c2f3b" fill-opacity="0.85"/>
<rect x="249.31" y="260.25" width="1.5" height="1.5" fill="#8c2f3b" fill-opacity="0.85"/>
<rect x="249.06" y="258.61" width="1.5" height="1.5" fill="#8c2f3b" fill-opacity="0.85"/>
<rect x="248.08" y="260.04" width="1.5" height="1.5" fill="#8c2f3b" fill-opacity="0.85"/>
<rect x="252.93" y="259.05" width="1.5" height="1.5" fill="#8c2f3b" fill-opacity="0.85"/>
<rect x="251.85" y="255.94" width="1.5" height="1.5" fill="#8c2f3b" fill-opacity="0.85"/>
<rect x="249.95" y="257.29" width="1.5" height="1.5" fill="#8c2f3b" fill-opacity="0.85"/>
<rect x="249.01" y="253.51" width="1.5" height="1.5" fill="#8c2f3b" fill-opacity="0.85"/>
<rect x="251.04" y="256.25" width="1.5" height="1.5" fill="#8c2f3b" fill-opacity="0.85"/>
<rect x="253.89" y="259.13" width="1.5" height="1.5" fill="#8c2f3b" fill-opacity="0.85"/>
<rect x="251.14" y="260.25" width="1.5" height="1.5" fill="#8c2f3b" fill-opacity="0.85"/>
<rect x="248.79" y="260.18" width="1.5" height="1.5" fill="#8c2f3b" fill-opacity="0.85"/>
<rect x="246.80" y="260.05" width="1.5" height="1.5" fill="#8c2f3b" fill-opacity="0.85"/>
<rect x="251.54" y="255.05" width="1.5" height="1.5" fill="#8c2f3b" fill-opacity="0.85"/>
<rect x="254.07" y="257.64" width="1.5" height="1.5" fill="#8c2f3b" fill-opacity="0.85"/>
<line x1="279.00" y1="265.20" x2="279.00" y2="266.70" stroke="#777" stroke-width="0.7"/>
<line x1="279.00" y1="251.10" x2="279.00" y2="245.88" stroke="#999" stroke-width="0.6"/>
<rect x="269.60" y="251.10" width="18.80" height="9.79" fill="#6ab3d7" stroke="#2d5f80" stroke-width="0.6" rx="0" fill-opacity="0.92"/>
<line x1="269.60" y1="258.09" x2="288.40" y2="258.09" stroke="#2d5f80" stroke-width="0.9"/>
<rect x="277.40" y="214.51" width="1.5" height="1.5" fill="#2f6485" fill-opacity="0.85"/>
<rect x="279.38" y="216.78" width="1.5" height="1.5" fill="#2f6485" fill-opacity="0.85"/>
<rect x="282.44" y="225.10" width="1.5" height="1.5" fill="#2f6485" fill-opacity="0.85"/>
<rect x="281.10" y="245.89" width="1.5" height="1.5" fill="#2f6485" fill-opacity="0.85"/>
<rect x="273.84" y="248.91" width="1.5" height="1.5" fill="#2f6485" fill-opacity="0.85"/>
<rect x="277.92" y="250.80" width="1.5" height="1.5" fill="#2f6485" fill-opacity="0.85"/>
<rect x="278.99" y="258.55" width="1.5" height="1.5" fill="#2f6485" fill-opacity="0.85"/>
<rect x="275.17" y="259.38" width="1.5" height="1.5" fill="#2f6485" fill-opacity="0.85"/>
<rect x="279.55" y="255.03" width="1.5" height="1.5" fill="#2f6485" fill-opacity="0.85"/>
<rect x="281.68" y="260.09" width="1.5" height="1.5" fill="#2f6485" fill-opacity="0.85"/>
<rect x="278.76" y="254.57" width="1.5" height="1.5" fill="#2f6485" fill-opacity="0.85"/>
<rect x="277.87" y="260.10" width="1.5" height="1.5" fill="#2f6485" fill-opacity="0.85"/>
<path d="M251.70 203.20 L251.70 201.60 L279.00 201.60 L279.00 203.20" stroke="#4a4a4a" stroke-width="0.75" fill="none"/>
<text x="265.35" y="200.70" font-size="6.9" fill="#333" text-anchor="middle">ns</text>
<text x="255.00" y="271.20" font-size="6.9" fill="#262626" text-anchor="end" transform="rotate(-45 255.00 271.20)">Negative</text>
<text x="282.30" y="271.20" font-size="6.9" fill="#262626" text-anchor="end" transform="rotate(-45 282.30 271.20)">Positive</text>
<line x1="333.90" y1="173.80" x2="333.90" y2="265.20" stroke="#b5b5b5" stroke-width="0.9"/>
<line x1="333.90" y1="265.20" x2="392.70" y2="265.20" stroke="#b5b5b5" stroke-width="0.9"/>
<line x1="332.40" y1="261.00" x2="333.90" y2="261.00" stroke="#777" stroke-width="0.7"/>
<text x="329.30" y="263.40" font-size="6.9" fill="#262626" text-anchor="end">0</text>
<line x1="332.40" y1="242.10" x2="333.90" y2="242.10" stroke="#777" stroke-width="0.7"/>
<text x="329.30" y="244.50" font-size="6.9" fill="#262626" text-anchor="end">500</text>
<line x1="332.40" y1="223.20" x2="333.90" y2="223.20" stroke="#777" stroke-width="0.7"/>
<text x="329.30" y="225.60" font-size="6.9" fill="#262626" text-anchor="end">1000</text>
<line x1="332.40" y1="204.30" x2="333.90" y2="204.30" stroke="#777" stroke-width="0.7"/>
<text x="329.30" y="206.70" font-size="6.9" fill="#262626" text-anchor="end">1500</text>
<line x1="332.40" y1="185.40" x2="333.90" y2="185.40" stroke="#777" stroke-width="0.7"/>
<text x="329.30" y="187.80" font-size="6.9" fill="#262626" text-anchor="end">2000</text>
<text x="306.70" y="219.70" font-size="6.9" fill="#262626" text-anchor="middle" transform="rotate(-90 306.70 219.70)">Density (cell/mm<tspan font-size="4.8" dy="-2.8">2</tspan><tspan dy="2.8">)</tspan></text>
<text x="363.30" y="167.00" font-size="7.0" fill="#1a1a1a" text-anchor="middle" font-weight="bold">HER2 Expression</text>
<line x1="349.80" y1="265.20" x2="349.80" y2="266.70" stroke="#777" stroke-width="0.7"/>
<line x1="349.80" y1="253.82" x2="349.80" y2="243.99" stroke="#999" stroke-width="0.6"/>
<rect x="340.40" y="253.82" width="18.80" height="7.07" fill="#d56f77" stroke="#7a2a33" stroke-width="0.6" rx="0" fill-opacity="0.92"/>
<line x1="340.40" y1="259.49" x2="359.20" y2="259.49" stroke="#7a2a33" stroke-width="0.9"/>
<rect x="351.67" y="173.31" width="1.5" height="1.5" fill="#8c2f3b" fill-opacity="0.85"/>
<rect x="348.56" y="205.82" width="1.5" height="1.5" fill="#8c2f3b" fill-opacity="0.85"/>
<rect x="347.30" y="216.78" width="1.5" height="1.5" fill="#8c2f3b" fill-opacity="0.85"/>
<rect x="349.42" y="225.10" width="1.5" height="1.5" fill="#8c2f3b" fill-opacity="0.85"/>
<rect x="348.54" y="225.47" width="1.5" height="1.5" fill="#8c2f3b" fill-opacity="0.85"/>
<rect x="352.47" y="231.52" width="1.5" height="1.5" fill="#8c2f3b" fill-opacity="0.85"/>
<rect x="347.84" y="237.57" width="1.5" height="1.5" fill="#8c2f3b" fill-opacity="0.85"/>
<rect x="352.31" y="243.24" width="1.5" height="1.5" fill="#8c2f3b" fill-opacity="0.85"/>
<rect x="350.02" y="244.00" width="1.5" height="1.5" fill="#8c2f3b" fill-opacity="0.85"/>
<rect x="350.65" y="245.13" width="1.5" height="1.5" fill="#8c2f3b" fill-opacity="0.85"/>
<rect x="345.07" y="247.02" width="1.5" height="1.5" fill="#8c2f3b" fill-opacity="0.85"/>
<rect x="345.61" y="248.91" width="1.5" height="1.5" fill="#8c2f3b" fill-opacity="0.85"/>
<rect x="352.01" y="250.80" width="1.5" height="1.5" fill="#8c2f3b" fill-opacity="0.85"/>
<rect x="345.13" y="251.93" width="1.5" height="1.5" fill="#8c2f3b" fill-opacity="0.85"/>
<rect x="346.83" y="260.25" width="1.5" height="1.5" fill="#8c2f3b" fill-opacity="0.85"/>
<rect x="352.89" y="254.16" width="1.5" height="1.5" fill="#8c2f3b" fill-opacity="0.85"/>
<rect x="346.21" y="260.25" width="1.5" height="1.5" fill="#8c2f3b" fill-opacity="0.85"/>
<rect x="348.29" y="260.02" width="1.5" height="1.5" fill="#8c2f3b" fill-opacity="0.85"/>
<rect x="345.71" y="256.50" width="1.5" height="1.5" fill="#8c2f3b" fill-opacity="0.85"/>
<rect x="346.95" y="256.38" width="1.5" height="1.5" fill="#8c2f3b" fill-opacity="0.85"/>
<rect x="352.33" y="260.17" width="1.5" height="1.5" fill="#8c2f3b" fill-opacity="0.85"/>
<rect x="352.22" y="259.43" width="1.5" height="1.5" fill="#8c2f3b" fill-opacity="0.85"/>
<rect x="345.88" y="260.25" width="1.5" height="1.5" fill="#8c2f3b" fill-opacity="0.85"/>
<rect x="348.85" y="259.18" width="1.5" height="1.5" fill="#8c2f3b" fill-opacity="0.85"/>
<rect x="352.62" y="259.46" width="1.5" height="1.5" fill="#8c2f3b" fill-opacity="0.85"/>
<rect x="351.52" y="254.27" width="1.5" height="1.5" fill="#8c2f3b" fill-opacity="0.85"/>
<rect x="346.12" y="258.42" width="1.5" height="1.5" fill="#8c2f3b" fill-opacity="0.85"/>
<rect x="347.97" y="260.16" width="1.5" height="1.5" fill="#8c2f3b" fill-opacity="0.85"/>
<rect x="351.90" y="255.83" width="1.5" height="1.5" fill="#8c2f3b" fill-opacity="0.85"/>
<rect x="348.44" y="260.23" width="1.5" height="1.5" fill="#8c2f3b" fill-opacity="0.85"/>
<rect x="346.98" y="260.00" width="1.5" height="1.5" fill="#8c2f3b" fill-opacity="0.85"/>
<rect x="348.61" y="254.53" width="1.5" height="1.5" fill="#8c2f3b" fill-opacity="0.85"/>
<rect x="352.02" y="259.12" width="1.5" height="1.5" fill="#8c2f3b" fill-opacity="0.85"/>
<rect x="346.73" y="257.92" width="1.5" height="1.5" fill="#8c2f3b" fill-opacity="0.85"/>
<rect x="349.90" y="258.18" width="1.5" height="1.5" fill="#8c2f3b" fill-opacity="0.85"/>
<rect x="352.24" y="259.48" width="1.5" height="1.5" fill="#8c2f3b" fill-opacity="0.85"/>
<rect x="352.81" y="259.66" width="1.5" height="1.5" fill="#8c2f3b" fill-opacity="0.85"/>
<rect x="351.96" y="258.28" width="1.5" height="1.5" fill="#8c2f3b" fill-opacity="0.85"/>
<rect x="348.11" y="260.25" width="1.5" height="1.5" fill="#8c2f3b" fill-opacity="0.85"/>
<rect x="348.48" y="260.23" width="1.5" height="1.5" fill="#8c2f3b" fill-opacity="0.85"/>
<rect x="347.21" y="258.89" width="1.5" height="1.5" fill="#8c2f3b" fill-opacity="0.85"/>
<rect x="346.38" y="259.85" width="1.5" height="1.5" fill="#8c2f3b" fill-opacity="0.85"/>
<rect x="351.52" y="259.97" width="1.5" height="1.5" fill="#8c2f3b" fill-opacity="0.85"/>
<rect x="345.20" y="259.22" width="1.5" height="1.5" fill="#8c2f3b" fill-opacity="0.85"/>
<rect x="352.08" y="254.82" width="1.5" height="1.5" fill="#8c2f3b" fill-opacity="0.85"/>
<rect x="349.96" y="259.64" width="1.5" height="1.5" fill="#8c2f3b" fill-opacity="0.85"/>
<rect x="345.10" y="258.51" width="1.5" height="1.5" fill="#8c2f3b" fill-opacity="0.85"/>
<rect x="349.70" y="258.20" width="1.5" height="1.5" fill="#8c2f3b" fill-opacity="0.85"/>
<rect x="346.94" y="255.04" width="1.5" height="1.5" fill="#8c2f3b" fill-opacity="0.85"/>
<line x1="377.50" y1="265.20" x2="377.50" y2="266.70" stroke="#777" stroke-width="0.7"/>
<line x1="377.50" y1="254.61" x2="377.50" y2="243.99" stroke="#999" stroke-width="0.6"/>
<rect x="368.10" y="254.61" width="18.80" height="6.27" fill="#6ab3d7" stroke="#2d5f80" stroke-width="0.6" rx="0" fill-opacity="0.92"/>
<line x1="368.10" y1="259.49" x2="386.90" y2="259.49" stroke="#2d5f80" stroke-width="0.9"/>
<rect x="375.56" y="194.86" width="1.5" height="1.5" fill="#2f6485" fill-opacity="0.85"/>
<rect x="377.15" y="195.23" width="1.5" height="1.5" fill="#2f6485" fill-opacity="0.85"/>
<rect x="380.76" y="214.89" width="1.5" height="1.5" fill="#2f6485" fill-opacity="0.85"/>
<rect x="372.84" y="220.18" width="1.5" height="1.5" fill="#2f6485" fill-opacity="0.85"/>
<rect x="372.59" y="225.10" width="1.5" height="1.5" fill="#2f6485" fill-opacity="0.85"/>
<rect x="381.17" y="226.99" width="1.5" height="1.5" fill="#2f6485" fill-opacity="0.85"/>
<rect x="379.57" y="231.52" width="1.5" height="1.5" fill="#2f6485" fill-opacity="0.85"/>
<rect x="379.00" y="234.55" width="1.5" height="1.5" fill="#2f6485" fill-opacity="0.85"/>
<rect x="380.80" y="237.57" width="1.5" height="1.5" fill="#2f6485" fill-opacity="0.85"/>
<rect x="381.23" y="238.70" width="1.5" height="1.5" fill="#2f6485" fill-opacity="0.85"/>
<rect x="376.67" y="243.24" width="1.5" height="1.5" fill="#2f6485" fill-opacity="0.85"/>
<rect x="377.19" y="243.62" width="1.5" height="1.5" fill="#2f6485" fill-opacity="0.85"/>
<rect x="373.00" y="244.00" width="1.5" height="1.5" fill="#2f6485" fill-opacity="0.85"/>
<rect x="378.58" y="245.13" width="1.5" height="1.5" fill="#2f6485" fill-opacity="0.85"/>
<rect x="372.45" y="245.89" width="1.5" height="1.5" fill="#2f6485" fill-opacity="0.85"/>
<rect x="377.59" y="247.02" width="1.5" height="1.5" fill="#2f6485" fill-opacity="0.85"/>
<rect x="376.93" y="248.91" width="1.5" height="1.5" fill="#2f6485" fill-opacity="0.85"/>
<rect x="375.73" y="249.67" width="1.5" height="1.5" fill="#2f6485" fill-opacity="0.85"/>
<rect x="377.84" y="250.80" width="1.5" height="1.5" fill="#2f6485" fill-opacity="0.85"/>
<rect x="377.76" y="259.16" width="1.5" height="1.5" fill="#2f6485" fill-opacity="0.85"/>
<rect x="374.93" y="259.97" width="1.5" height="1.5" fill="#2f6485" fill-opacity="0.85"/>
<rect x="374.64" y="254.18" width="1.5" height="1.5" fill="#2f6485" fill-opacity="0.85"/>
<rect x="373.69" y="260.25" width="1.5" height="1.5" fill="#2f6485" fill-opacity="0.85"/>
<rect x="379.69" y="259.26" width="1.5" height="1.5" fill="#2f6485" fill-opacity="0.85"/>
<rect x="378.49" y="260.00" width="1.5" height="1.5" fill="#2f6485" fill-opacity="0.85"/>
<rect x="376.52" y="260.15" width="1.5" height="1.5" fill="#2f6485" fill-opacity="0.85"/>
<rect x="374.79" y="254.61" width="1.5" height="1.5" fill="#2f6485" fill-opacity="0.85"/>
<rect x="381.17" y="260.02" width="1.5" height="1.5" fill="#2f6485" fill-opacity="0.85"/>
<rect x="378.08" y="257.03" width="1.5" height="1.5" fill="#2f6485" fill-opacity="0.85"/>
<rect x="378.15" y="255.86" width="1.5" height="1.5" fill="#2f6485" fill-opacity="0.85"/>
<rect x="373.98" y="260.24" width="1.5" height="1.5" fill="#2f6485" fill-opacity="0.85"/>
<rect x="373.06" y="260.25" width="1.5" height="1.5" fill="#2f6485" fill-opacity="0.85"/>
<rect x="372.38" y="260.14" width="1.5" height="1.5" fill="#2f6485" fill-opacity="0.85"/>
<rect x="379.98" y="259.88" width="1.5" height="1.5" fill="#2f6485" fill-opacity="0.85"/>
<rect x="380.24" y="259.54" width="1.5" height="1.5" fill="#2f6485" fill-opacity="0.85"/>
<rect x="381.10" y="255.56" width="1.5" height="1.5" fill="#2f6485" fill-opacity="0.85"/>
<rect x="378.28" y="254.40" width="1.5" height="1.5" fill="#2f6485" fill-opacity="0.85"/>
<rect x="377.22" y="260.14" width="1.5" height="1.5" fill="#2f6485" fill-opacity="0.85"/>
<rect x="372.57" y="259.64" width="1.5" height="1.5" fill="#2f6485" fill-opacity="0.85"/>
<rect x="378.18" y="259.54" width="1.5" height="1.5" fill="#2f6485" fill-opacity="0.85"/>
<rect x="378.96" y="254.53" width="1.5" height="1.5" fill="#2f6485" fill-opacity="0.85"/>
<rect x="378.56" y="260.25" width="1.5" height="1.5" fill="#2f6485" fill-opacity="0.85"/>
<rect x="376.52" y="260.21" width="1.5" height="1.5" fill="#2f6485" fill-opacity="0.85"/>
<rect x="376.81" y="260.25" width="1.5" height="1.5" fill="#2f6485" fill-opacity="0.85"/>
<rect x="376.45" y="258.46" width="1.5" height="1.5" fill="#2f6485" fill-opacity="0.85"/>
<rect x="381.01" y="254.30" width="1.5" height="1.5" fill="#2f6485" fill-opacity="0.85"/>
<rect x="379.20" y="260.25" width="1.5" height="1.5" fill="#2f6485" fill-opacity="0.85"/>
<rect x="378.03" y="253.98" width="1.5" height="1.5" fill="#2f6485" fill-opacity="0.85"/>
<rect x="375.61" y="260.12" width="1.5" height="1.5" fill="#2f6485" fill-opacity="0.85"/>
<rect x="377.19" y="258.41" width="1.5" height="1.5" fill="#2f6485" fill-opacity="0.85"/>
<rect x="378.54" y="255.29" width="1.5" height="1.5" fill="#2f6485" fill-opacity="0.85"/>
<rect x="379.30" y="260.23" width="1.5" height="1.5" fill="#2f6485" fill-opacity="0.85"/>
<rect x="376.07" y="260.25" width="1.5" height="1.5" fill="#2f6485" fill-opacity="0.85"/>
<rect x="375.15" y="260.16" width="1.5" height="1.5" fill="#2f6485" fill-opacity="0.85"/>
<rect x="374.42" y="259.95" width="1.5" height="1.5" fill="#2f6485" fill-opacity="0.85"/>
<rect x="375.08" y="259.58" width="1.5" height="1.5" fill="#2f6485" fill-opacity="0.85"/>
<rect x="375.71" y="259.94" width="1.5" height="1.5" fill="#2f6485" fill-opacity="0.85"/>
<rect x="377.63" y="259.66" width="1.5" height="1.5" fill="#2f6485" fill-opacity="0.85"/>
<rect x="374.00" y="260.25" width="1.5" height="1.5" fill="#2f6485" fill-opacity="0.85"/>
<path d="M349.80 203.20 L349.80 201.60 L377.50 201.60 L377.50 203.20" stroke="#4a4a4a" stroke-width="0.75" fill="none"/>
<text x="363.65" y="200.70" font-size="6.9" fill="#333" text-anchor="middle">ns</text>
<text x="353.10" y="271.20" font-size="6.9" fill="#262626" text-anchor="end" transform="rotate(-45 353.10 271.20)">Negative</text>
<text x="380.80" y="271.20" font-size="6.9" fill="#262626" text-anchor="end" transform="rotate(-45 380.80 271.20)">Positive</text>
<line x1="429.20" y1="173.80" x2="429.20" y2="265.20" stroke="#b5b5b5" stroke-width="0.9"/>
<line x1="429.20" y1="265.20" x2="488.00" y2="265.20" stroke="#b5b5b5" stroke-width="0.9"/>
<line x1="427.70" y1="261.00" x2="429.20" y2="261.00" stroke="#777" stroke-width="0.7"/>
<text x="424.60" y="263.40" font-size="6.9" fill="#262626" text-anchor="end">0</text>
<line x1="427.70" y1="242.10" x2="429.20" y2="242.10" stroke="#777" stroke-width="0.7"/>
<text x="424.60" y="244.50" font-size="6.9" fill="#262626" text-anchor="end">500</text>
<line x1="427.70" y1="223.20" x2="429.20" y2="223.20" stroke="#777" stroke-width="0.7"/>
<text x="424.60" y="225.60" font-size="6.9" fill="#262626" text-anchor="end">1000</text>
<line x1="427.70" y1="204.30" x2="429.20" y2="204.30" stroke="#777" stroke-width="0.7"/>
<text x="424.60" y="206.70" font-size="6.9" fill="#262626" text-anchor="end">1500</text>
<line x1="427.70" y1="185.40" x2="429.20" y2="185.40" stroke="#777" stroke-width="0.7"/>
<text x="424.60" y="187.80" font-size="6.9" fill="#262626" text-anchor="end">2000</text>
<text x="402.00" y="219.70" font-size="6.9" fill="#262626" text-anchor="middle" transform="rotate(-90 402.00 219.70)">Density (cell/mm<tspan font-size="4.8" dy="-2.8">2</tspan><tspan dy="2.8">)</tspan></text>
<text x="458.80" y="167.00" font-size="7.0" fill="#1a1a1a" text-anchor="middle" font-weight="bold">Tumour Stage</text>
<line x1="445.50" y1="265.20" x2="445.50" y2="266.70" stroke="#777" stroke-width="0.7"/>
<line x1="445.50" y1="238.32" x2="445.50" y2="207.10" stroke="#999" stroke-width="0.6"/>
<rect x="436.10" y="238.32" width="18.80" height="21.89" fill="#d56f77" stroke="#7a2a33" stroke-width="0.6" rx="0" fill-opacity="0.92"/>
<line x1="436.10" y1="252.91" x2="454.90" y2="252.91" stroke="#7a2a33" stroke-width="0.9"/>
<rect x="445.79" y="173.31" width="1.5" height="1.5" fill="#8c2f3b" fill-opacity="0.85"/>
<rect x="447.50" y="205.82" width="1.5" height="1.5" fill="#8c2f3b" fill-opacity="0.85"/>
<rect x="448.90" y="214.51" width="1.5" height="1.5" fill="#8c2f3b" fill-opacity="0.85"/>
<rect x="442.88" y="216.78" width="1.5" height="1.5" fill="#8c2f3b" fill-opacity="0.85"/>
<rect x="440.69" y="220.18" width="1.5" height="1.5" fill="#8c2f3b" fill-opacity="0.85"/>
<rect x="442.36" y="225.10" width="1.5" height="1.5" fill="#8c2f3b" fill-opacity="0.85"/>
<rect x="440.31" y="234.55" width="1.5" height="1.5" fill="#8c2f3b" fill-opacity="0.85"/>
<rect x="440.87" y="239.84" width="1.5" height="1.5" fill="#8c2f3b" fill-opacity="0.85"/>
<rect x="446.17" y="245.13" width="1.5" height="1.5" fill="#8c2f3b" fill-opacity="0.85"/>
<rect x="444.06" y="248.91" width="1.5" height="1.5" fill="#8c2f3b" fill-opacity="0.85"/>
<rect x="443.63" y="250.80" width="1.5" height="1.5" fill="#8c2f3b" fill-opacity="0.85"/>
<rect x="440.33" y="252.69" width="1.5" height="1.5" fill="#8c2f3b" fill-opacity="0.85"/>
<rect x="444.39" y="254.58" width="1.5" height="1.5" fill="#8c2f3b" fill-opacity="0.85"/>
<rect x="444.05" y="256.47" width="1.5" height="1.5" fill="#8c2f3b" fill-opacity="0.85"/>
<rect x="444.11" y="258.36" width="1.5" height="1.5" fill="#8c2f3b" fill-opacity="0.85"/>
<rect x="445.61" y="259.12" width="1.5" height="1.5" fill="#8c2f3b" fill-opacity="0.85"/>
<rect x="442.63" y="257.33" width="1.5" height="1.5" fill="#8c2f3b" fill-opacity="0.85"/>
<rect x="442.54" y="246.88" width="1.5" height="1.5" fill="#8c2f3b" fill-opacity="0.85"/>
<rect x="449.09" y="260.24" width="1.5" height="1.5" fill="#8c2f3b" fill-opacity="0.85"/>
<rect x="448.77" y="247.84" width="1.5" height="1.5" fill="#8c2f3b" fill-opacity="0.85"/>
<rect x="446.24" y="248.30" width="1.5" height="1.5" fill="#8c2f3b" fill-opacity="0.85"/>
<rect x="442.39" y="242.72" width="1.5" height="1.5" fill="#8c2f3b" fill-opacity="0.85"/>
<line x1="472.70" y1="265.20" x2="472.70" y2="266.70" stroke="#777" stroke-width="0.7"/>
<line x1="472.70" y1="256.09" x2="472.70" y2="249.66" stroke="#999" stroke-width="0.6"/>
<rect x="463.30" y="256.09" width="18.80" height="4.80" fill="#6ab3d7" stroke="#2d5f80" stroke-width="0.6" rx="0" fill-opacity="0.92"/>
<line x1="463.30" y1="258.88" x2="482.10" y2="258.88" stroke="#2d5f80" stroke-width="0.9"/>
<rect x="475.68" y="204.31" width="1.5" height="1.5" fill="#2f6485" fill-opacity="0.85"/>
<rect x="472.43" y="225.10" width="1.5" height="1.5" fill="#2f6485" fill-opacity="0.85"/>
<rect x="468.99" y="226.99" width="1.5" height="1.5" fill="#2f6485" fill-opacity="0.85"/>
<rect x="469.49" y="237.57" width="1.5" height="1.5" fill="#2f6485" fill-opacity="0.85"/>
<rect x="474.62" y="238.70" width="1.5" height="1.5" fill="#2f6485" fill-opacity="0.85"/>
<rect x="469.31" y="243.24" width="1.5" height="1.5" fill="#2f6485" fill-opacity="0.85"/>
<rect x="472.11" y="243.62" width="1.5" height="1.5" fill="#2f6485" fill-opacity="0.85"/>
<rect x="469.98" y="244.00" width="1.5" height="1.5" fill="#2f6485" fill-opacity="0.85"/>
<rect x="469.66" y="245.13" width="1.5" height="1.5" fill="#2f6485" fill-opacity="0.85"/>
<rect x="472.77" y="245.89" width="1.5" height="1.5" fill="#2f6485" fill-opacity="0.85"/>
<rect x="475.19" y="247.02" width="1.5" height="1.5" fill="#2f6485" fill-opacity="0.85"/>
<rect x="475.50" y="248.91" width="1.5" height="1.5" fill="#2f6485" fill-opacity="0.85"/>
<rect x="476.41" y="249.67" width="1.5" height="1.5" fill="#2f6485" fill-opacity="0.85"/>
<rect x="467.77" y="250.80" width="1.5" height="1.5" fill="#2f6485" fill-opacity="0.85"/>
<rect x="472.16" y="251.93" width="1.5" height="1.5" fill="#2f6485" fill-opacity="0.85"/>
<rect x="474.38" y="257.91" width="1.5" height="1.5" fill="#2f6485" fill-opacity="0.85"/>
<rect x="472.57" y="260.25" width="1.5" height="1.5" fill="#2f6485" fill-opacity="0.85"/>
<rect x="475.17" y="256.99" width="1.5" height="1.5" fill="#2f6485" fill-opacity="0.85"/>
<rect x="476.30" y="259.32" width="1.5" height="1.5" fill="#2f6485" fill-opacity="0.85"/>
<rect x="467.96" y="259.67" width="1.5" height="1.5" fill="#2f6485" fill-opacity="0.85"/>
<rect x="470.87" y="260.24" width="1.5" height="1.5" fill="#2f6485" fill-opacity="0.85"/>
<rect x="470.24" y="257.75" width="1.5" height="1.5" fill="#2f6485" fill-opacity="0.85"/>
<rect x="474.38" y="260.09" width="1.5" height="1.5" fill="#2f6485" fill-opacity="0.85"/>
<rect x="467.90" y="257.79" width="1.5" height="1.5" fill="#2f6485" fill-opacity="0.85"/>
<rect x="473.02" y="257.28" width="1.5" height="1.5" fill="#2f6485" fill-opacity="0.85"/>
<rect x="475.76" y="260.25" width="1.5" height="1.5" fill="#2f6485" fill-opacity="0.85"/>
<rect x="467.84" y="255.42" width="1.5" height="1.5" fill="#2f6485" fill-opacity="0.85"/>
<rect x="471.58" y="260.22" width="1.5" height="1.5" fill="#2f6485" fill-opacity="0.85"/>
<rect x="474.54" y="260.16" width="1.5" height="1.5" fill="#2f6485" fill-opacity="0.85"/>
<rect x="475.77" y="259.34" width="1.5" height="1.5" fill="#2f6485" fill-opacity="0.85"/>
<rect x="473.36" y="258.55" width="1.5" height="1.5" fill="#2f6485" fill-opacity="0.85"/>
<rect x="469.71" y="260.17" width="1.5" height="1.5" fill="#2f6485" fill-opacity="0.85"/>
<rect x="468.15" y="256.90" width="1.5" height="1.5" fill="#2f6485" fill-opacity="0.85"/>
<rect x="474.80" y="255.55" width="1.5" height="1.5" fill="#2f6485" fill-opacity="0.85"/>
<rect x="468.34" y="260.19" width="1.5" height="1.5" fill="#2f6485" fill-opacity="0.85"/>
<rect x="471.86" y="259.01" width="1.5" height="1.5" fill="#2f6485" fill-opacity="0.85"/>
<rect x="468.72" y="260.25" width="1.5" height="1.5" fill="#2f6485" fill-opacity="0.85"/>
<rect x="474.72" y="260.25" width="1.5" height="1.5" fill="#2f6485" fill-opacity="0.85"/>
<rect x="471.09" y="260.21" width="1.5" height="1.5" fill="#2f6485" fill-opacity="0.85"/>
<rect x="471.52" y="255.77" width="1.5" height="1.5" fill="#2f6485" fill-opacity="0.85"/>
<rect x="467.79" y="259.63" width="1.5" height="1.5" fill="#2f6485" fill-opacity="0.85"/>
<rect x="476.24" y="260.22" width="1.5" height="1.5" fill="#2f6485" fill-opacity="0.85"/>
<rect x="472.99" y="258.74" width="1.5" height="1.5" fill="#2f6485" fill-opacity="0.85"/>
<rect x="468.40" y="260.23" width="1.5" height="1.5" fill="#2f6485" fill-opacity="0.85"/>
<rect x="470.20" y="256.84" width="1.5" height="1.5" fill="#2f6485" fill-opacity="0.85"/>
<rect x="471.52" y="259.42" width="1.5" height="1.5" fill="#2f6485" fill-opacity="0.85"/>
<rect x="476.40" y="256.38" width="1.5" height="1.5" fill="#2f6485" fill-opacity="0.85"/>
<rect x="475.17" y="259.75" width="1.5" height="1.5" fill="#2f6485" fill-opacity="0.85"/>
<rect x="472.68" y="258.59" width="1.5" height="1.5" fill="#2f6485" fill-opacity="0.85"/>
<rect x="476.17" y="258.22" width="1.5" height="1.5" fill="#2f6485" fill-opacity="0.85"/>
<rect x="472.87" y="260.24" width="1.5" height="1.5" fill="#2f6485" fill-opacity="0.85"/>
<rect x="469.47" y="258.88" width="1.5" height="1.5" fill="#2f6485" fill-opacity="0.85"/>
<rect x="467.74" y="259.76" width="1.5" height="1.5" fill="#2f6485" fill-opacity="0.85"/>
<rect x="471.85" y="258.19" width="1.5" height="1.5" fill="#2f6485" fill-opacity="0.85"/>
<rect x="475.19" y="260.18" width="1.5" height="1.5" fill="#2f6485" fill-opacity="0.85"/>
<rect x="470.96" y="260.24" width="1.5" height="1.5" fill="#2f6485" fill-opacity="0.85"/>
<rect x="471.52" y="257.31" width="1.5" height="1.5" fill="#2f6485" fill-opacity="0.85"/>
<rect x="470.56" y="260.19" width="1.5" height="1.5" fill="#2f6485" fill-opacity="0.85"/>
<rect x="472.97" y="257.78" width="1.5" height="1.5" fill="#2f6485" fill-opacity="0.85"/>
<rect x="470.59" y="260.15" width="1.5" height="1.5" fill="#2f6485" fill-opacity="0.85"/>
<rect x="474.57" y="259.63" width="1.5" height="1.5" fill="#2f6485" fill-opacity="0.85"/>
<rect x="471.46" y="260.25" width="1.5" height="1.5" fill="#2f6485" fill-opacity="0.85"/>
<rect x="470.63" y="257.98" width="1.5" height="1.5" fill="#2f6485" fill-opacity="0.85"/>
<rect x="467.51" y="259.79" width="1.5" height="1.5" fill="#2f6485" fill-opacity="0.85"/>
<rect x="473.95" y="260.24" width="1.5" height="1.5" fill="#2f6485" fill-opacity="0.85"/>
<text x="445.50" y="274.50" font-size="6.9" fill="#262626" text-anchor="middle">II/III</text>
<text x="472.70" y="274.50" font-size="6.9" fill="#262626" text-anchor="middle">IV</text>
<line x1="523.60" y1="173.80" x2="523.60" y2="265.20" stroke="#b5b5b5" stroke-width="0.9"/>
<line x1="523.60" y1="265.20" x2="582.40" y2="265.20" stroke="#b5b5b5" stroke-width="0.9"/>
<line x1="522.10" y1="261.00" x2="523.60" y2="261.00" stroke="#777" stroke-width="0.7"/>
<text x="519.00" y="263.40" font-size="6.9" fill="#262626" text-anchor="end">0</text>
<line x1="522.10" y1="242.10" x2="523.60" y2="242.10" stroke="#777" stroke-width="0.7"/>
<text x="519.00" y="244.50" font-size="6.9" fill="#262626" text-anchor="end">500</text>
<line x1="522.10" y1="223.20" x2="523.60" y2="223.20" stroke="#777" stroke-width="0.7"/>
<text x="519.00" y="225.60" font-size="6.9" fill="#262626" text-anchor="end">1000</text>
<line x1="522.10" y1="204.30" x2="523.60" y2="204.30" stroke="#777" stroke-width="0.7"/>
<text x="519.00" y="206.70" font-size="6.9" fill="#262626" text-anchor="end">1500</text>
<line x1="522.10" y1="185.40" x2="523.60" y2="185.40" stroke="#777" stroke-width="0.7"/>
<text x="519.00" y="187.80" font-size="6.9" fill="#262626" text-anchor="end">2000</text>
<text x="496.40" y="219.70" font-size="6.9" fill="#262626" text-anchor="middle" transform="rotate(-90 496.40 219.70)">Density (cell/mm<tspan font-size="4.8" dy="-2.8">2</tspan><tspan dy="2.8">)</tspan></text>
<text x="553.70" y="167.00" font-size="7.0" fill="#1a1a1a" text-anchor="middle" font-weight="bold">PD-L1 Expression</text>
<line x1="540.00" y1="265.20" x2="540.00" y2="266.70" stroke="#777" stroke-width="0.7"/>
<line x1="540.00" y1="252.19" x2="540.00" y2="242.10" stroke="#999" stroke-width="0.6"/>
<rect x="530.60" y="252.19" width="18.80" height="8.69" fill="#d56f77" stroke="#7a2a33" stroke-width="0.6" rx="0" fill-opacity="0.92"/>
<line x1="530.60" y1="259.49" x2="549.40" y2="259.49" stroke="#7a2a33" stroke-width="0.9"/>
<rect x="536.79" y="173.31" width="1.5" height="1.5" fill="#8c2f3b" fill-opacity="0.85"/>
<rect x="536.13" y="195.23" width="1.5" height="1.5" fill="#8c2f3b" fill-opacity="0.85"/>
<rect x="536.21" y="214.51" width="1.5" height="1.5" fill="#8c2f3b" fill-opacity="0.85"/>
<rect x="537.52" y="216.78" width="1.5" height="1.5" fill="#8c2f3b" fill-opacity="0.85"/>
<rect x="542.19" y="225.10" width="1.5" height="1.5" fill="#8c2f3b" fill-opacity="0.85"/>
<rect x="538.91" y="225.47" width="1.5" height="1.5" fill="#8c2f3b" fill-opacity="0.85"/>
<rect x="543.66" y="237.57" width="1.5" height="1.5" fill="#8c2f3b" fill-opacity="0.85"/>
<rect x="542.80" y="239.84" width="1.5" height="1.5" fill="#8c2f3b" fill-opacity="0.85"/>
<rect x="536.64" y="243.24" width="1.5" height="1.5" fill="#8c2f3b" fill-opacity="0.85"/>
<rect x="538.65" y="244.00" width="1.5" height="1.5" fill="#8c2f3b" fill-opacity="0.85"/>
<rect x="535.32" y="245.13" width="1.5" height="1.5" fill="#8c2f3b" fill-opacity="0.85"/>
<rect x="540.01" y="247.02" width="1.5" height="1.5" fill="#8c2f3b" fill-opacity="0.85"/>
<rect x="540.24" y="248.91" width="1.5" height="1.5" fill="#8c2f3b" fill-opacity="0.85"/>
<rect x="540.02" y="250.80" width="1.5" height="1.5" fill="#8c2f3b" fill-opacity="0.85"/>
<rect x="535.54" y="251.93" width="1.5" height="1.5" fill="#8c2f3b" fill-opacity="0.85"/>
<rect x="540.25" y="259.40" width="1.5" height="1.5" fill="#8c2f3b" fill-opacity="0.85"/>
<rect x="535.75" y="254.29" width="1.5" height="1.5" fill="#8c2f3b" fill-opacity="0.85"/>
<rect x="542.33" y="260.25" width="1.5" height="1.5" fill="#8c2f3b" fill-opacity="0.85"/>
<rect x="538.90" y="260.05" width="1.5" height="1.5" fill="#8c2f3b" fill-opacity="0.85"/>
<rect x="535.63" y="252.41" width="1.5" height="1.5" fill="#8c2f3b" fill-opacity="0.85"/>
<rect x="543.57" y="257.67" width="1.5" height="1.5" fill="#8c2f3b" fill-opacity="0.85"/>
<rect x="543.26" y="260.23" width="1.5" height="1.5" fill="#8c2f3b" fill-opacity="0.85"/>
<rect x="537.73" y="259.88" width="1.5" height="1.5" fill="#8c2f3b" fill-opacity="0.85"/>
<rect x="543.13" y="254.25" width="1.5" height="1.5" fill="#8c2f3b" fill-opacity="0.85"/>
<rect x="537.31" y="259.50" width="1.5" height="1.5" fill="#8c2f3b" fill-opacity="0.85"/>
<rect x="539.55" y="260.25" width="1.5" height="1.5" fill="#8c2f3b" fill-opacity="0.85"/>
<rect x="539.91" y="253.91" width="1.5" height="1.5" fill="#8c2f3b" fill-opacity="0.85"/>
<rect x="541.87" y="260.23" width="1.5" height="1.5" fill="#8c2f3b" fill-opacity="0.85"/>
<rect x="535.37" y="257.93" width="1.5" height="1.5" fill="#8c2f3b" fill-opacity="0.85"/>
<rect x="535.07" y="258.16" width="1.5" height="1.5" fill="#8c2f3b" fill-opacity="0.85"/>
<rect x="536.08" y="259.39" width="1.5" height="1.5" fill="#8c2f3b" fill-opacity="0.85"/>
<rect x="538.21" y="252.41" width="1.5" height="1.5" fill="#8c2f3b" fill-opacity="0.85"/>
<rect x="541.92" y="260.20" width="1.5" height="1.5" fill="#8c2f3b" fill-opacity="0.85"/>
<rect x="541.26" y="258.30" width="1.5" height="1.5" fill="#8c2f3b" fill-opacity="0.85"/>
<rect x="535.71" y="260.24" width="1.5" height="1.5" fill="#8c2f3b" fill-opacity="0.85"/>
<rect x="541.36" y="252.32" width="1.5" height="1.5" fill="#8c2f3b" fill-opacity="0.85"/>
<rect x="536.45" y="260.22" width="1.5" height="1.5" fill="#8c2f3b" fill-opacity="0.85"/>
<rect x="534.91" y="259.06" width="1.5" height="1.5" fill="#8c2f3b" fill-opacity="0.85"/>
<rect x="539.06" y="255.17" width="1.5" height="1.5" fill="#8c2f3b" fill-opacity="0.85"/>
<rect x="542.95" y="254.18" width="1.5" height="1.5" fill="#8c2f3b" fill-opacity="0.85"/>
<rect x="542.91" y="260.24" width="1.5" height="1.5" fill="#8c2f3b" fill-opacity="0.85"/>
<rect x="538.71" y="254.30" width="1.5" height="1.5" fill="#8c2f3b" fill-opacity="0.85"/>
<rect x="541.94" y="254.98" width="1.5" height="1.5" fill="#8c2f3b" fill-opacity="0.85"/>
<rect x="536.49" y="259.97" width="1.5" height="1.5" fill="#8c2f3b" fill-opacity="0.85"/>
<rect x="536.18" y="256.44" width="1.5" height="1.5" fill="#8c2f3b" fill-opacity="0.85"/>
<line x1="567.30" y1="265.20" x2="567.30" y2="266.70" stroke="#777" stroke-width="0.7"/>
<line x1="567.30" y1="252.80" x2="567.30" y2="242.86" stroke="#999" stroke-width="0.6"/>
<rect x="557.90" y="252.80" width="18.80" height="8.09" fill="#6ab3d7" stroke="#2d5f80" stroke-width="0.6" rx="0" fill-opacity="0.92"/>
<line x1="557.90" y1="259.11" x2="576.70" y2="259.11" stroke="#2d5f80" stroke-width="0.9"/>
<rect x="566.71" y="194.86" width="1.5" height="1.5" fill="#2f6485" fill-opacity="0.85"/>
<rect x="564.02" y="205.82" width="1.5" height="1.5" fill="#2f6485" fill-opacity="0.85"/>
<rect x="570.90" y="220.18" width="1.5" height="1.5" fill="#2f6485" fill-opacity="0.85"/>
<rect x="569.76" y="225.10" width="1.5" height="1.5" fill="#2f6485" fill-opacity="0.85"/>
<rect x="565.61" y="226.99" width="1.5" height="1.5" fill="#2f6485" fill-opacity="0.85"/>
<rect x="564.00" y="231.52" width="1.5" height="1.5" fill="#2f6485" fill-opacity="0.85"/>
<rect x="566.06" y="234.55" width="1.5" height="1.5" fill="#2f6485" fill-opacity="0.85"/>
<rect x="567.80" y="238.70" width="1.5" height="1.5" fill="#2f6485" fill-opacity="0.85"/>
<rect x="566.06" y="243.24" width="1.5" height="1.5" fill="#2f6485" fill-opacity="0.85"/>
<rect x="570.53" y="243.62" width="1.5" height="1.5" fill="#2f6485" fill-opacity="0.85"/>
<rect x="562.50" y="244.00" width="1.5" height="1.5" fill="#2f6485" fill-opacity="0.85"/>
<rect x="565.12" y="245.13" width="1.5" height="1.5" fill="#2f6485" fill-opacity="0.85"/>
<rect x="566.70" y="245.89" width="1.5" height="1.5" fill="#2f6485" fill-opacity="0.85"/>
<rect x="562.45" y="247.02" width="1.5" height="1.5" fill="#2f6485" fill-opacity="0.85"/>
<rect x="566.25" y="248.91" width="1.5" height="1.5" fill="#2f6485" fill-opacity="0.85"/>
<rect x="567.20" y="249.67" width="1.5" height="1.5" fill="#2f6485" fill-opacity="0.85"/>
<rect x="564.78" y="250.80" width="1.5" height="1.5" fill="#2f6485" fill-opacity="0.85"/>
<rect x="571.01" y="251.93" width="1.5" height="1.5" fill="#2f6485" fill-opacity="0.85"/>
<rect x="565.19" y="260.25" width="1.5" height="1.5" fill="#2f6485" fill-opacity="0.85"/>
<rect x="565.36" y="258.57" width="1.5" height="1.5" fill="#2f6485" fill-opacity="0.85"/>
<rect x="567.41" y="260.25" width="1.5" height="1.5" fill="#2f6485" fill-opacity="0.85"/>
<rect x="564.43" y="259.14" width="1.5" height="1.5" fill="#2f6485" fill-opacity="0.85"/>
<rect x="566.29" y="252.61" width="1.5" height="1.5" fill="#2f6485" fill-opacity="0.85"/>
<rect x="563.45" y="260.05" width="1.5" height="1.5" fill="#2f6485" fill-opacity="0.85"/>
<rect x="562.54" y="252.67" width="1.5" height="1.5" fill="#2f6485" fill-opacity="0.85"/>
<rect x="568.22" y="258.14" width="1.5" height="1.5" fill="#2f6485" fill-opacity="0.85"/>
<rect x="564.55" y="254.58" width="1.5" height="1.5" fill="#2f6485" fill-opacity="0.85"/>
<rect x="563.49" y="260.25" width="1.5" height="1.5" fill="#2f6485" fill-opacity="0.85"/>
<rect x="564.37" y="256.98" width="1.5" height="1.5" fill="#2f6485" fill-opacity="0.85"/>
<rect x="565.80" y="259.12" width="1.5" height="1.5" fill="#2f6485" fill-opacity="0.85"/>
<rect x="563.36" y="258.44" width="1.5" height="1.5" fill="#2f6485" fill-opacity="0.85"/>
<rect x="568.31" y="259.81" width="1.5" height="1.5" fill="#2f6485" fill-opacity="0.85"/>
<rect x="568.56" y="252.60" width="1.5" height="1.5" fill="#2f6485" fill-opacity="0.85"/>
<rect x="570.79" y="257.94" width="1.5" height="1.5" fill="#2f6485" fill-opacity="0.85"/>
<rect x="562.42" y="257.12" width="1.5" height="1.5" fill="#2f6485" fill-opacity="0.85"/>
<rect x="564.88" y="257.63" width="1.5" height="1.5" fill="#2f6485" fill-opacity="0.85"/>
<rect x="568.11" y="258.91" width="1.5" height="1.5" fill="#2f6485" fill-opacity="0.85"/>
<rect x="569.67" y="255.84" width="1.5" height="1.5" fill="#2f6485" fill-opacity="0.85"/>
<rect x="564.27" y="258.33" width="1.5" height="1.5" fill="#2f6485" fill-opacity="0.85"/>
<rect x="569.86" y="258.77" width="1.5" height="1.5" fill="#2f6485" fill-opacity="0.85"/>
<rect x="562.42" y="260.23" width="1.5" height="1.5" fill="#2f6485" fill-opacity="0.85"/>
<rect x="566.98" y="258.84" width="1.5" height="1.5" fill="#2f6485" fill-opacity="0.85"/>
<rect x="562.26" y="260.22" width="1.5" height="1.5" fill="#2f6485" fill-opacity="0.85"/>
<rect x="563.47" y="258.60" width="1.5" height="1.5" fill="#2f6485" fill-opacity="0.85"/>
<rect x="568.49" y="259.61" width="1.5" height="1.5" fill="#2f6485" fill-opacity="0.85"/>
<rect x="566.07" y="256.61" width="1.5" height="1.5" fill="#2f6485" fill-opacity="0.85"/>
<rect x="570.25" y="258.57" width="1.5" height="1.5" fill="#2f6485" fill-opacity="0.85"/>
<rect x="570.51" y="259.85" width="1.5" height="1.5" fill="#2f6485" fill-opacity="0.85"/>
<path d="M540.00 203.20 L540.00 201.60 L567.30 201.60 L567.30 203.20" stroke="#4a4a4a" stroke-width="0.75" fill="none"/>
<text x="553.65" y="200.70" font-size="6.9" fill="#333" text-anchor="middle">ns</text>
<text x="540.00" y="274.50" font-size="6.9" fill="#262626" text-anchor="middle">&gt;5</text>
<text x="567.30" y="274.50" font-size="6.9" fill="#262626" text-anchor="middle">&#8804;5</text>
<path d="M445.50 203.00 L445.50 201.40 L472.70 201.40 L472.70 203.00" stroke="#4a4a4a" stroke-width="0.75" fill="none"/>
<text x="459.30" y="201.20" font-size="6.6" fill="#333" text-anchor="middle"><tspan font-style="italic">P</tspan> &lt;0.001</text>
<rect x="27.55" y="334.80" width="648.70" height="150.90" rx="7" fill="#fff" stroke="#1f3e64" stroke-width="1.3"/>
<rect x="27.55" y="312.90" width="648.70" height="21.80" rx="4.5" fill="#c8d5e4" stroke="#1f3e64" stroke-width="1.3"/>
<text x="352.00" y="325.90" font-size="9.8" fill="#222" text-anchor="middle" font-weight="bold">VISTA expression in total region</text>
<rect x="27.55" y="534.50" width="648.70" height="150.40" rx="7" fill="#fff" stroke="#1f3e64" stroke-width="1.3"/>
<rect x="27.55" y="512.80" width="648.70" height="21.60" rx="4.5" fill="#c8d5e4" stroke="#1f3e64" stroke-width="1.3"/>
<text x="352.00" y="525.80" font-size="9.8" fill="#222" text-anchor="middle" font-weight="bold">VISTA expression in tumour region</text>
<text x="57.00" y="359.00" font-size="9.3" fill="#1a1a1a" text-anchor="start" font-weight="bold">OS:</text>
<line x1="117.00" y1="353.40" x2="123.10" y2="353.40" stroke="#dc6b75" stroke-width="1.1"/>
<line x1="120.05" y1="352.00" x2="120.05" y2="354.80" stroke="#dc6b75" stroke-width="0.8"/>
<text x="126.60" y="356.40" font-size="8.2" fill="#222" text-anchor="start">High</text>
<line x1="152.40" y1="353.40" x2="158.50" y2="353.40" stroke="#6cb9e2" stroke-width="1.1"/>
<line x1="155.45" y1="352.00" x2="155.45" y2="354.80" stroke="#6cb9e2" stroke-width="0.8"/>
<text x="162.00" y="356.40" font-size="8.2" fill="#222" text-anchor="start">Low</text>
<line x1="74.60" y1="370.10" x2="74.60" y2="453.40" stroke="#262626" stroke-width="1.0"/>
<line x1="74.10" y1="452.90" x2="208.90" y2="452.90" stroke="#262626" stroke-width="1.0"/>
<line x1="72.60" y1="449.20" x2="74.60" y2="449.20" stroke="#262626" stroke-width="0.8"/>
<text x="68.00" y="451.95" font-size="7.8" fill="#262626" text-anchor="end">0.00</text>
<line x1="72.60" y1="430.31" x2="74.60" y2="430.31" stroke="#262626" stroke-width="0.8"/>
<text x="68.00" y="433.06" font-size="7.8" fill="#262626" text-anchor="end">0.25</text>
<line x1="72.60" y1="411.42" x2="74.60" y2="411.42" stroke="#262626" stroke-width="0.8"/>
<text x="68.00" y="414.17" font-size="7.8" fill="#262626" text-anchor="end">0.50</text>
<line x1="72.60" y1="392.54" x2="74.60" y2="392.54" stroke="#262626" stroke-width="0.8"/>
<text x="68.00" y="395.29" font-size="7.8" fill="#262626" text-anchor="end">0.75</text>
<line x1="72.60" y1="373.65" x2="74.60" y2="373.65" stroke="#262626" stroke-width="0.8"/>
<text x="68.00" y="376.40" font-size="7.8" fill="#262626" text-anchor="end">1.00</text>
<line x1="80.50" y1="452.90" x2="80.50" y2="454.90" stroke="#262626" stroke-width="0.8"/>
<text x="80.50" y="465.60" font-size="8.3" fill="#262626" text-anchor="middle">0</text>
<line x1="98.87" y1="452.90" x2="98.87" y2="454.90" stroke="#262626" stroke-width="0.8"/>
<text x="98.87" y="465.60" font-size="8.3" fill="#262626" text-anchor="middle">12</text>
<line x1="117.24" y1="452.90" x2="117.24" y2="454.90" stroke="#262626" stroke-width="0.8"/>
<text x="117.24" y="465.60" font-size="8.3" fill="#262626" text-anchor="middle">24</text>
<line x1="135.61" y1="452.90" x2="135.61" y2="454.90" stroke="#262626" stroke-width="0.8"/>
<text x="135.61" y="465.60" font-size="8.3" fill="#262626" text-anchor="middle">36</text>
<line x1="153.98" y1="452.90" x2="153.98" y2="454.90" stroke="#262626" stroke-width="0.8"/>
<text x="153.98" y="465.60" font-size="8.3" fill="#262626" text-anchor="middle">48</text>
<line x1="172.35" y1="452.90" x2="172.35" y2="454.90" stroke="#262626" stroke-width="0.8"/>
<text x="172.35" y="465.60" font-size="8.3" fill="#262626" text-anchor="middle">60</text>
<line x1="190.72" y1="452.90" x2="190.72" y2="454.90" stroke="#262626" stroke-width="0.8"/>
<text x="190.72" y="465.60" font-size="8.3" fill="#262626" text-anchor="middle">72</text>
<text x="141.60" y="479.00" font-size="8.3" fill="#262626" text-anchor="middle">Time (months)</text>
<text x="44.80" y="411.60" font-size="8.5" fill="#262626" text-anchor="middle" transform="rotate(-90 44.80 411.60)">Overall probability (%)</text>
<text x="135.10" y="381.80" font-size="8.3" fill="#2a2a2a" text-anchor="start" font-style="italic">HR = 1.081</text>
<text x="134.00" y="391.60" font-size="8.3" fill="#2a2a2a" text-anchor="start" font-style="italic">(95% CI: 0.595&#8211;1.967)</text>
<text x="135.40" y="400.60" font-size="8.3" fill="#2a2a2a" text-anchor="start" font-style="italic">P = 0.797</text>
<path d="M81.10 373.60 H82.47V374.63 H83.83V375.67 H85.20V376.70 H85.97V378.23 H86.75V379.75 H87.53V381.27 H88.30V382.80 H89.70V383.05 H91.10V383.30 H92.50V383.55 H93.90V383.80 H95.70V385.35 H97.50V386.90 H98.17V388.52 H98.83V390.13 H99.50V391.75 H100.17V393.37 H100.83V394.98 H101.50V396.60 H102.53V398.30 H103.57V400.00 H104.60V401.70 L108.70 401.70 H109.70V403.25 H110.70V404.80 H112.00V406.15 H113.30V407.50 L116.60 407.50 H118.50V409.50 L123.10 409.50 H124.50V411.40 L128.40 411.40 L128.40 418.60 L138.90 418.60 L138.90 422.60 L150.10 422.60 L150.10 427.80 L151.30 427.80 L151.30 433.80 L152.60 433.80 L152.60 441.00 L156.60 441.00 L156.60 448.90" stroke="#dc6b75" stroke-width="1.05" fill="none" stroke-linejoin="miter"/>
<line x1="82.47" y1="373.23" x2="82.47" y2="376.03" stroke="#dc6b75" stroke-width="0.85"/>
<line x1="83.83" y1="374.27" x2="83.83" y2="377.07" stroke="#dc6b75" stroke-width="0.85"/>
<line x1="85.20" y1="375.30" x2="85.20" y2="378.10" stroke="#dc6b75" stroke-width="0.85"/>
<line x1="87.53" y1="379.88" x2="87.53" y2="382.67" stroke="#dc6b75" stroke-width="0.85"/>
<line x1="88.30" y1="381.40" x2="88.30" y2="384.20" stroke="#dc6b75" stroke-width="0.85"/>
<line x1="89.70" y1="381.65" x2="89.70" y2="384.45" stroke="#dc6b75" stroke-width="0.85"/>
<line x1="91.10" y1="381.90" x2="91.10" y2="384.70" stroke="#dc6b75" stroke-width="0.85"/>
<line x1="93.90" y1="382.40" x2="93.90" y2="385.20" stroke="#dc6b75" stroke-width="0.85"/>
<line x1="95.70" y1="383.95" x2="95.70" y2="386.75" stroke="#dc6b75" stroke-width="0.85"/>
<line x1="98.17" y1="387.12" x2="98.17" y2="389.92" stroke="#dc6b75" stroke-width="0.85"/>
<line x1="98.83" y1="388.73" x2="98.83" y2="391.53" stroke="#dc6b75" stroke-width="0.85"/>
<line x1="99.50" y1="390.35" x2="99.50" y2="393.15" stroke="#dc6b75" stroke-width="0.85"/>
<line x1="100.83" y1="393.58" x2="100.83" y2="396.38" stroke="#dc6b75" stroke-width="0.85"/>
<line x1="101.50" y1="395.20" x2="101.50" y2="398.00" stroke="#dc6b75" stroke-width="0.85"/>
<line x1="102.53" y1="396.90" x2="102.53" y2="399.70" stroke="#dc6b75" stroke-width="0.85"/>
<line x1="103.57" y1="398.60" x2="103.57" y2="401.40" stroke="#dc6b75" stroke-width="0.85"/>
<line x1="110.70" y1="401.85" x2="110.70" y2="404.65" stroke="#dc6b75" stroke-width="0.85"/>
<line x1="112.00" y1="403.40" x2="112.00" y2="406.20" stroke="#dc6b75" stroke-width="0.85"/>
<line x1="113.30" y1="404.75" x2="113.30" y2="407.55" stroke="#dc6b75" stroke-width="0.85"/>
<line x1="150.10" y1="421.20" x2="150.10" y2="424.00" stroke="#dc6b75" stroke-width="0.85"/>
<path d="M81.10 373.60 H82.56V373.97 H84.01V374.34 H85.47V374.71 H86.93V375.09 H88.39V375.46 H89.84V375.83 H91.30V376.20 H92.58V377.73 H93.85V379.25 H95.12V380.77 H96.40V382.30 H97.64V383.94 H98.88V385.58 H100.12V387.22 H101.36V388.86 H102.60V390.50 H103.97V391.50 H105.33V392.50 H106.70V393.50 H107.70V395.05 H108.70V396.60 H109.70V398.15 H110.70V399.70 H112.23V401.20 H113.77V402.70 H115.30V404.20 H116.17V405.50 H117.03V406.80 H117.90V408.10 H118.77V409.43 H119.63V410.77 H120.50V412.10 H121.17V413.40 H121.83V414.70 H122.50V416.00 H123.17V417.53 H123.83V419.07 H124.50V420.60 H126.23V420.83 H127.97V421.07 H129.70V421.30 H131.00V422.60 H132.30V423.90 H133.30V425.55 H134.30V427.20 H135.30V428.50 H136.30V429.80 L142.80 429.80 L142.80 433.80 L159.90 433.80 L159.90 441.00 L190.80 441.00" stroke="#6cb9e2" stroke-width="1.05" fill="none" stroke-linejoin="miter"/>
<line x1="84.01" y1="372.94" x2="84.01" y2="375.74" stroke="#6cb9e2" stroke-width="0.85"/>
<line x1="85.47" y1="373.31" x2="85.47" y2="376.11" stroke="#6cb9e2" stroke-width="0.85"/>
<line x1="86.93" y1="373.69" x2="86.93" y2="376.49" stroke="#6cb9e2" stroke-width="0.85"/>
<line x1="89.84" y1="374.43" x2="89.84" y2="377.23" stroke="#6cb9e2" stroke-width="0.85"/>
<line x1="91.30" y1="374.80" x2="91.30" y2="377.60" stroke="#6cb9e2" stroke-width="0.85"/>
<line x1="92.58" y1="376.33" x2="92.58" y2="379.12" stroke="#6cb9e2" stroke-width="0.85"/>
<line x1="93.85" y1="377.85" x2="93.85" y2="380.65" stroke="#6cb9e2" stroke-width="0.85"/>
<line x1="95.12" y1="379.38" x2="95.12" y2="382.17" stroke="#6cb9e2" stroke-width="0.85"/>
<line x1="96.40" y1="380.90" x2="96.40" y2="383.70" stroke="#6cb9e2" stroke-width="0.85"/>
<line x1="97.64" y1="382.54" x2="97.64" y2="385.34" stroke="#6cb9e2" stroke-width="0.85"/>
<line x1="98.88" y1="384.18" x2="98.88" y2="386.98" stroke="#6cb9e2" stroke-width="0.85"/>
<line x1="100.12" y1="385.82" x2="100.12" y2="388.62" stroke="#6cb9e2" stroke-width="0.85"/>
<line x1="102.60" y1="389.10" x2="102.60" y2="391.90" stroke="#6cb9e2" stroke-width="0.85"/>
<line x1="103.97" y1="390.10" x2="103.97" y2="392.90" stroke="#6cb9e2" stroke-width="0.85"/>
<line x1="105.33" y1="391.10" x2="105.33" y2="393.90" stroke="#6cb9e2" stroke-width="0.85"/>
<line x1="106.70" y1="392.10" x2="106.70" y2="394.90" stroke="#6cb9e2" stroke-width="0.85"/>
<line x1="107.70" y1="393.65" x2="107.70" y2="396.45" stroke="#6cb9e2" stroke-width="0.85"/>
<line x1="108.70" y1="395.20" x2="108.70" y2="398.00" stroke="#6cb9e2" stroke-width="0.85"/>
<line x1="109.70" y1="396.75" x2="109.70" y2="399.55" stroke="#6cb9e2" stroke-width="0.85"/>
<line x1="110.70" y1="398.30" x2="110.70" y2="401.10" stroke="#6cb9e2" stroke-width="0.85"/>
<line x1="112.23" y1="399.80" x2="112.23" y2="402.60" stroke="#6cb9e2" stroke-width="0.85"/>
<line x1="113.77" y1="401.30" x2="113.77" y2="404.10" stroke="#6cb9e2" stroke-width="0.85"/>
<line x1="116.17" y1="404.10" x2="116.17" y2="406.90" stroke="#6cb9e2" stroke-width="0.85"/>
<line x1="117.03" y1="405.40" x2="117.03" y2="408.20" stroke="#6cb9e2" stroke-width="0.85"/>
<line x1="123.83" y1="417.67" x2="123.83" y2="420.47" stroke="#6cb9e2" stroke-width="0.85"/>
<line x1="136.30" y1="428.40" x2="136.30" y2="431.20" stroke="#6cb9e2" stroke-width="0.85"/>
<line x1="171.10" y1="439.60" x2="171.10" y2="442.40" stroke="#6cb9e2" stroke-width="0.8"/>
<line x1="190.10" y1="439.60" x2="190.10" y2="442.40" stroke="#6cb9e2" stroke-width="0.8"/>
<line x1="135.00" y1="417.20" x2="135.00" y2="420.00" stroke="#dc6b75" stroke-width="0.8"/>
<line x1="144.50" y1="421.20" x2="144.50" y2="424.00" stroke="#dc6b75" stroke-width="0.8"/>
<line x1="155.00" y1="439.60" x2="155.00" y2="442.40" stroke="#dc6b75" stroke-width="0.8"/>
<line x1="138.50" y1="428.40" x2="138.50" y2="431.20" stroke="#6cb9e2" stroke-width="0.8"/>
<text x="269.70" y="359.00" font-size="9.3" fill="#1a1a1a" text-anchor="start" font-weight="bold">irOS:</text>
<line x1="330.30" y1="353.40" x2="336.40" y2="353.40" stroke="#dc6b75" stroke-width="1.1"/>
<line x1="333.35" y1="352.00" x2="333.35" y2="354.80" stroke="#dc6b75" stroke-width="0.8"/>
<text x="339.90" y="356.40" font-size="8.2" fill="#222" text-anchor="start">High</text>
<line x1="365.70" y1="353.40" x2="371.80" y2="353.40" stroke="#6cb9e2" stroke-width="1.1"/>
<line x1="368.75" y1="352.00" x2="368.75" y2="354.80" stroke="#6cb9e2" stroke-width="0.8"/>
<text x="375.30" y="356.40" font-size="8.2" fill="#222" text-anchor="start">Low</text>
<line x1="289.40" y1="370.10" x2="289.40" y2="453.40" stroke="#262626" stroke-width="1.0"/>
<line x1="288.90" y1="452.90" x2="423.70" y2="452.90" stroke="#262626" stroke-width="1.0"/>
<line x1="287.40" y1="449.20" x2="289.40" y2="449.20" stroke="#262626" stroke-width="0.8"/>
<text x="282.80" y="451.95" font-size="7.8" fill="#262626" text-anchor="end">0.00</text>
<line x1="287.40" y1="430.31" x2="289.40" y2="430.31" stroke="#262626" stroke-width="0.8"/>
<text x="282.80" y="433.06" font-size="7.8" fill="#262626" text-anchor="end">0.25</text>
<line x1="287.40" y1="411.42" x2="289.40" y2="411.42" stroke="#262626" stroke-width="0.8"/>
<text x="282.80" y="414.17" font-size="7.8" fill="#262626" text-anchor="end">0.50</text>
<line x1="287.40" y1="392.54" x2="289.40" y2="392.54" stroke="#262626" stroke-width="0.8"/>
<text x="282.80" y="395.29" font-size="7.8" fill="#262626" text-anchor="end">0.75</text>
<line x1="287.40" y1="373.65" x2="289.40" y2="373.65" stroke="#262626" stroke-width="0.8"/>
<text x="282.80" y="376.40" font-size="7.8" fill="#262626" text-anchor="end">1.00</text>
<line x1="295.40" y1="452.90" x2="295.40" y2="454.90" stroke="#262626" stroke-width="0.8"/>
<text x="295.40" y="465.60" font-size="8.3" fill="#262626" text-anchor="middle">0</text>
<line x1="324.65" y1="452.90" x2="324.65" y2="454.90" stroke="#262626" stroke-width="0.8"/>
<text x="324.65" y="465.60" font-size="8.3" fill="#262626" text-anchor="middle">12</text>
<line x1="353.90" y1="452.90" x2="353.90" y2="454.90" stroke="#262626" stroke-width="0.8"/>
<text x="353.90" y="465.60" font-size="8.3" fill="#262626" text-anchor="middle">24</text>
<line x1="383.15" y1="452.90" x2="383.15" y2="454.90" stroke="#262626" stroke-width="0.8"/>
<text x="383.15" y="465.60" font-size="8.3" fill="#262626" text-anchor="middle">36</text>
<line x1="412.40" y1="452.90" x2="412.40" y2="454.90" stroke="#262626" stroke-width="0.8"/>
<text x="412.40" y="465.60" font-size="8.3" fill="#262626" text-anchor="middle">48</text>
<text x="356.40" y="479.00" font-size="8.3" fill="#262626" text-anchor="middle">Time (months)</text>
<text x="259.60" y="411.60" font-size="8.5" fill="#262626" text-anchor="middle" transform="rotate(-90 259.60 411.60)">Overall probability (%)</text>
<text x="343.70" y="381.80" font-size="8.3" fill="#2a2a2a" text-anchor="start" font-style="italic">HR = 1.114</text>
<text x="342.60" y="391.60" font-size="8.3" fill="#2a2a2a" text-anchor="start" font-style="italic">(95% CI: 0.609&#8211;2.039)</text>
<text x="344.00" y="400.60" font-size="8.3" fill="#2a2a2a" text-anchor="start" font-style="italic">P = 0.725</text>
<path d="M296.10 373.60 H297.80V374.63 H299.50V375.67 H301.20V376.70 H301.88V378.15 H302.57V379.60 H303.25V381.05 H303.93V382.50 H304.62V383.95 H305.30V385.40 H306.80V386.40 L312.90 386.40 H314.45V387.15 H316.00V387.90 H317.30V388.15 H318.60V388.40 H319.97V389.77 H321.33V391.13 H322.70V392.50 H324.23V393.53 H325.77V394.57 H327.30V395.60 H328.18V397.12 H329.05V398.65 H329.93V400.18 H330.80V401.70 H332.35V402.75 H333.90V403.80 H335.45V404.30 H337.00V404.80 H338.33V405.83 H339.67V406.87 H341.00V407.90 H341.33V409.43 H341.67V410.97 H342.00V412.50 L345.90 412.50 H346.57V414.03 H347.23V415.57 H347.90V417.10 L353.10 417.10 H353.80V418.40 H354.50V419.70 L359.70 419.70 H360.05V421.00 H360.40V422.30 L370.90 422.30 L370.90 426.30 L389.30 426.30 L389.30 431.90 L406.40 431.90 L406.40 438.10 L409.30 438.10 L409.30 443.40 L414.20 443.40 L414.20 449.30" stroke="#dc6b75" stroke-width="1.05" fill="none" stroke-linejoin="miter"/>
<line x1="301.20" y1="375.30" x2="301.20" y2="378.10" stroke="#dc6b75" stroke-width="0.85"/>
<line x1="301.88" y1="376.75" x2="301.88" y2="379.55" stroke="#dc6b75" stroke-width="0.85"/>
<line x1="302.57" y1="378.20" x2="302.57" y2="381.00" stroke="#dc6b75" stroke-width="0.85"/>
<line x1="303.25" y1="379.65" x2="303.25" y2="382.45" stroke="#dc6b75" stroke-width="0.85"/>
<line x1="303.93" y1="381.10" x2="303.93" y2="383.90" stroke="#dc6b75" stroke-width="0.85"/>
<line x1="304.62" y1="382.55" x2="304.62" y2="385.35" stroke="#dc6b75" stroke-width="0.85"/>
<line x1="305.30" y1="384.00" x2="305.30" y2="386.80" stroke="#dc6b75" stroke-width="0.85"/>
<line x1="314.45" y1="385.00" x2="314.45" y2="387.80" stroke="#dc6b75" stroke-width="0.85"/>
<line x1="316.00" y1="385.75" x2="316.00" y2="388.55" stroke="#dc6b75" stroke-width="0.85"/>
<line x1="317.30" y1="386.50" x2="317.30" y2="389.30" stroke="#dc6b75" stroke-width="0.85"/>
<line x1="319.97" y1="387.00" x2="319.97" y2="389.80" stroke="#dc6b75" stroke-width="0.85"/>
<line x1="321.33" y1="388.37" x2="321.33" y2="391.17" stroke="#dc6b75" stroke-width="0.85"/>
<line x1="322.70" y1="389.73" x2="322.70" y2="392.53" stroke="#dc6b75" stroke-width="0.85"/>
<line x1="324.23" y1="391.10" x2="324.23" y2="393.90" stroke="#dc6b75" stroke-width="0.85"/>
<line x1="325.77" y1="392.13" x2="325.77" y2="394.93" stroke="#dc6b75" stroke-width="0.85"/>
<line x1="327.30" y1="393.17" x2="327.30" y2="395.97" stroke="#dc6b75" stroke-width="0.85"/>
<line x1="329.05" y1="395.73" x2="329.05" y2="398.52" stroke="#dc6b75" stroke-width="0.85"/>
<line x1="330.80" y1="398.78" x2="330.80" y2="401.57" stroke="#dc6b75" stroke-width="0.85"/>
<line x1="332.35" y1="400.30" x2="332.35" y2="403.10" stroke="#dc6b75" stroke-width="0.85"/>
<line x1="333.90" y1="401.35" x2="333.90" y2="404.15" stroke="#dc6b75" stroke-width="0.85"/>
<line x1="335.45" y1="402.40" x2="335.45" y2="405.20" stroke="#dc6b75" stroke-width="0.85"/>
<line x1="337.00" y1="402.90" x2="337.00" y2="405.70" stroke="#dc6b75" stroke-width="0.85"/>
<line x1="338.33" y1="403.40" x2="338.33" y2="406.20" stroke="#dc6b75" stroke-width="0.85"/>
<line x1="359.70" y1="418.30" x2="359.70" y2="421.10" stroke="#dc6b75" stroke-width="0.85"/>
<line x1="409.30" y1="442.00" x2="409.30" y2="444.80" stroke="#dc6b75" stroke-width="0.85"/>
<path d="M296.10 373.60 H297.50V374.38 H298.90V375.15 H300.30V375.93 H301.70V376.70 H303.35V377.48 H305.00V378.25 H306.65V379.02 H308.30V379.80 H309.67V380.47 H311.03V381.13 H312.40V381.80 H314.10V382.83 H315.80V383.87 H317.50V384.90 H319.23V386.07 H320.97V387.23 H322.70V388.40 H324.03V389.93 H325.37V391.47 H326.70V393.00 H327.73V394.43 H328.75V395.85 H329.77V397.27 H330.80V398.70 H332.50V399.70 H334.20V400.70 H335.90V401.70 H337.27V403.33 H338.63V404.97 H340.00V406.60 H341.33V407.70 H342.67V408.80 H344.00V409.90 H345.30V410.97 H346.60V412.03 H347.90V413.10 H349.43V414.43 H350.97V415.77 H352.50V417.10 H352.82V418.58 H353.15V420.05 H353.48V421.52 H353.80V423.00 H355.45V424.30 H357.10V425.60 H358.75V426.25 H360.40V426.90 L360.40 432.20 L382.90 432.20 L382.90 438.10 L416.90 438.10 L416.90 443.40 L421.50 443.40 L421.50 449.30" stroke="#6cb9e2" stroke-width="1.05" fill="none" stroke-linejoin="miter"/>
<line x1="300.30" y1="374.53" x2="300.30" y2="377.32" stroke="#6cb9e2" stroke-width="0.85"/>
<line x1="301.70" y1="375.30" x2="301.70" y2="378.10" stroke="#6cb9e2" stroke-width="0.85"/>
<line x1="303.35" y1="376.08" x2="303.35" y2="378.88" stroke="#6cb9e2" stroke-width="0.85"/>
<line x1="305.00" y1="376.85" x2="305.00" y2="379.65" stroke="#6cb9e2" stroke-width="0.85"/>
<line x1="306.65" y1="377.62" x2="306.65" y2="380.42" stroke="#6cb9e2" stroke-width="0.85"/>
<line x1="308.30" y1="378.40" x2="308.30" y2="381.20" stroke="#6cb9e2" stroke-width="0.85"/>
<line x1="309.67" y1="379.07" x2="309.67" y2="381.87" stroke="#6cb9e2" stroke-width="0.85"/>
<line x1="312.40" y1="380.40" x2="312.40" y2="383.20" stroke="#6cb9e2" stroke-width="0.85"/>
<line x1="314.10" y1="381.43" x2="314.10" y2="384.23" stroke="#6cb9e2" stroke-width="0.85"/>
<line x1="315.80" y1="382.47" x2="315.80" y2="385.27" stroke="#6cb9e2" stroke-width="0.85"/>
<line x1="319.23" y1="384.67" x2="319.23" y2="387.47" stroke="#6cb9e2" stroke-width="0.85"/>
<line x1="320.97" y1="385.83" x2="320.97" y2="388.63" stroke="#6cb9e2" stroke-width="0.85"/>
<line x1="322.70" y1="387.00" x2="322.70" y2="389.80" stroke="#6cb9e2" stroke-width="0.85"/>
<line x1="324.03" y1="388.53" x2="324.03" y2="391.33" stroke="#6cb9e2" stroke-width="0.85"/>
<line x1="325.37" y1="390.07" x2="325.37" y2="392.87" stroke="#6cb9e2" stroke-width="0.85"/>
<line x1="326.70" y1="391.60" x2="326.70" y2="394.40" stroke="#6cb9e2" stroke-width="0.85"/>
<line x1="328.75" y1="394.45" x2="328.75" y2="397.25" stroke="#6cb9e2" stroke-width="0.85"/>
<line x1="330.80" y1="397.30" x2="330.80" y2="400.10" stroke="#6cb9e2" stroke-width="0.85"/>
<line x1="332.50" y1="398.30" x2="332.50" y2="401.10" stroke="#6cb9e2" stroke-width="0.85"/>
<line x1="334.20" y1="399.30" x2="334.20" y2="402.10" stroke="#6cb9e2" stroke-width="0.85"/>
<line x1="335.90" y1="400.30" x2="335.90" y2="403.10" stroke="#6cb9e2" stroke-width="0.85"/>
<line x1="337.27" y1="401.93" x2="337.27" y2="404.73" stroke="#6cb9e2" stroke-width="0.85"/>
<line x1="338.63" y1="403.57" x2="338.63" y2="406.37" stroke="#6cb9e2" stroke-width="0.85"/>
<line x1="353.15" y1="418.65" x2="353.15" y2="421.45" stroke="#6cb9e2" stroke-width="0.85"/>
<line x1="360.40" y1="425.50" x2="360.40" y2="428.30" stroke="#6cb9e2" stroke-width="0.85"/>
<line x1="416.90" y1="436.70" x2="416.90" y2="439.50" stroke="#6cb9e2" stroke-width="0.85"/>
<line x1="359.70" y1="418.30" x2="359.70" y2="421.10" stroke="#dc6b75" stroke-width="0.8"/>
<line x1="364.30" y1="420.90" x2="364.30" y2="423.70" stroke="#dc6b75" stroke-width="0.8"/>
<line x1="369.60" y1="420.90" x2="369.60" y2="423.70" stroke="#dc6b75" stroke-width="0.8"/>
<line x1="375.50" y1="424.90" x2="375.50" y2="427.70" stroke="#dc6b75" stroke-width="0.8"/>
<line x1="386.60" y1="424.90" x2="386.60" y2="427.70" stroke="#dc6b75" stroke-width="0.8"/>
<line x1="372.20" y1="430.80" x2="372.20" y2="433.60" stroke="#6cb9e2" stroke-width="0.8"/>
<line x1="377.40" y1="430.80" x2="377.40" y2="433.60" stroke="#6cb9e2" stroke-width="0.8"/>
<line x1="304.50" y1="385.00" x2="304.50" y2="387.80" stroke="#dc6b75" stroke-width="0.8"/>
<line x1="307.50" y1="385.00" x2="307.50" y2="387.80" stroke="#dc6b75" stroke-width="0.8"/>
<text x="473.60" y="359.00" font-size="9.3" fill="#1a1a1a" text-anchor="start" font-weight="bold">irPFS:</text>
<line x1="545.20" y1="353.40" x2="551.30" y2="353.40" stroke="#dc6b75" stroke-width="1.1"/>
<line x1="548.25" y1="352.00" x2="548.25" y2="354.80" stroke="#dc6b75" stroke-width="0.8"/>
<text x="554.80" y="356.40" font-size="8.2" fill="#222" text-anchor="start">High</text>
<line x1="580.60" y1="353.40" x2="586.70" y2="353.40" stroke="#6cb9e2" stroke-width="1.1"/>
<line x1="583.65" y1="352.00" x2="583.65" y2="354.80" stroke="#6cb9e2" stroke-width="0.8"/>
<text x="590.20" y="356.40" font-size="8.2" fill="#222" text-anchor="start">Low</text>
<line x1="504.30" y1="370.10" x2="504.30" y2="453.40" stroke="#262626" stroke-width="1.0"/>
<line x1="503.80" y1="452.90" x2="638.60" y2="452.90" stroke="#262626" stroke-width="1.0"/>
<line x1="502.30" y1="449.20" x2="504.30" y2="449.20" stroke="#262626" stroke-width="0.8"/>
<text x="497.70" y="451.95" font-size="7.8" fill="#262626" text-anchor="end">0.00</text>
<line x1="502.30" y1="430.31" x2="504.30" y2="430.31" stroke="#262626" stroke-width="0.8"/>
<text x="497.70" y="433.06" font-size="7.8" fill="#262626" text-anchor="end">0.25</text>
<line x1="502.30" y1="411.42" x2="504.30" y2="411.42" stroke="#262626" stroke-width="0.8"/>
<text x="497.70" y="414.17" font-size="7.8" fill="#262626" text-anchor="end">0.50</text>
<line x1="502.30" y1="392.54" x2="504.30" y2="392.54" stroke="#262626" stroke-width="0.8"/>
<text x="497.70" y="395.29" font-size="7.8" fill="#262626" text-anchor="end">0.75</text>
<line x1="502.30" y1="373.65" x2="504.30" y2="373.65" stroke="#262626" stroke-width="0.8"/>
<text x="497.70" y="376.40" font-size="7.8" fill="#262626" text-anchor="end">1.00</text>
<line x1="510.20" y1="452.90" x2="510.20" y2="454.90" stroke="#262626" stroke-width="0.8"/>
<text x="510.20" y="465.60" font-size="8.3" fill="#262626" text-anchor="middle">0</text>
<line x1="539.50" y1="452.90" x2="539.50" y2="454.90" stroke="#262626" stroke-width="0.8"/>
<text x="539.50" y="465.60" font-size="8.3" fill="#262626" text-anchor="middle">12</text>
<line x1="568.80" y1="452.90" x2="568.80" y2="454.90" stroke="#262626" stroke-width="0.8"/>
<text x="568.80" y="465.60" font-size="8.3" fill="#262626" text-anchor="middle">24</text>
<line x1="598.10" y1="452.90" x2="598.10" y2="454.90" stroke="#262626" stroke-width="0.8"/>
<text x="598.10" y="465.60" font-size="8.3" fill="#262626" text-anchor="middle">36</text>
<line x1="627.40" y1="452.90" x2="627.40" y2="454.90" stroke="#262626" stroke-width="0.8"/>
<text x="627.40" y="465.60" font-size="8.3" fill="#262626" text-anchor="middle">48</text>
<text x="571.30" y="479.00" font-size="8.3" fill="#262626" text-anchor="middle">Time (months)</text>
<text x="474.50" y="411.60" font-size="8.5" fill="#262626" text-anchor="middle" transform="rotate(-90 474.50 411.60)">Overall probability (%)</text>
<text x="558.10" y="381.80" font-size="8.3" fill="#2a2a2a" text-anchor="start" font-style="italic">HR = 1.742</text>
<text x="557.00" y="391.60" font-size="8.3" fill="#2a2a2a" text-anchor="start" font-style="italic">(95% CI: 0.861&#8211;3.526)</text>
<text x="558.40" y="400.60" font-size="8.3" fill="#2a2a2a" text-anchor="start" font-style="italic">P = 0.123</text>
<path d="M511.10 373.60 H511.72V375.24 H512.34V376.88 H512.96V378.52 H513.58V380.16 H514.20V381.80 H514.95V383.20 H515.70V384.60 H516.45V386.00 H517.20V387.40 H518.23V389.10 H519.27V390.80 H520.30V392.50 H520.47V393.87 H520.63V395.23 H520.80V396.60 L526.40 396.60 H527.70V397.35 H529.00V398.10 H530.53V398.63 H532.07V399.17 H533.60V399.70 H535.15V401.20 H536.70V402.70 H538.03V403.40 H539.37V404.10 H540.70V404.80 H541.40V406.17 H542.10V407.53 H542.80V408.90 H543.90V410.30 H545.00V411.70 H546.10V413.15 H547.20V414.60 H547.55V416.40 H547.90V418.20 L552.30 418.20 H552.65V419.70 H553.00V421.20 H554.50V421.90 H556.00V422.60 H556.23V424.07 H556.47V425.53 H556.70V427.00 L574.90 427.00 L574.90 430.70 L581.50 430.70 L581.50 434.30 L586.60 434.30 L586.60 438.20 L604.10 438.20 L604.10 441.60 L620.90 441.60 L620.90 445.50 L629.40 445.50 L629.40 449.30" stroke="#dc6b75" stroke-width="1.05" fill="none" stroke-linejoin="miter"/>
<line x1="512.34" y1="375.48" x2="512.34" y2="378.28" stroke="#dc6b75" stroke-width="0.85"/>
<line x1="512.96" y1="377.12" x2="512.96" y2="379.92" stroke="#dc6b75" stroke-width="0.85"/>
<line x1="513.58" y1="378.76" x2="513.58" y2="381.56" stroke="#dc6b75" stroke-width="0.85"/>
<line x1="514.20" y1="380.40" x2="514.20" y2="383.20" stroke="#dc6b75" stroke-width="0.85"/>
<line x1="514.95" y1="381.80" x2="514.95" y2="384.60" stroke="#dc6b75" stroke-width="0.85"/>
<line x1="515.70" y1="383.20" x2="515.70" y2="386.00" stroke="#dc6b75" stroke-width="0.85"/>
<line x1="516.45" y1="384.60" x2="516.45" y2="387.40" stroke="#dc6b75" stroke-width="0.85"/>
<line x1="517.20" y1="386.00" x2="517.20" y2="388.80" stroke="#dc6b75" stroke-width="0.85"/>
<line x1="518.23" y1="387.70" x2="518.23" y2="390.50" stroke="#dc6b75" stroke-width="0.85"/>
<line x1="519.27" y1="389.40" x2="519.27" y2="392.20" stroke="#dc6b75" stroke-width="0.85"/>
<line x1="520.30" y1="391.10" x2="520.30" y2="393.90" stroke="#dc6b75" stroke-width="0.85"/>
<line x1="520.63" y1="393.83" x2="520.63" y2="396.63" stroke="#dc6b75" stroke-width="0.85"/>
<line x1="520.80" y1="395.20" x2="520.80" y2="398.00" stroke="#dc6b75" stroke-width="0.85"/>
<line x1="527.70" y1="395.20" x2="527.70" y2="398.00" stroke="#dc6b75" stroke-width="0.85"/>
<line x1="529.00" y1="395.95" x2="529.00" y2="398.75" stroke="#dc6b75" stroke-width="0.85"/>
<line x1="530.53" y1="396.70" x2="530.53" y2="399.50" stroke="#dc6b75" stroke-width="0.85"/>
<line x1="533.60" y1="397.77" x2="533.60" y2="400.57" stroke="#dc6b75" stroke-width="0.85"/>
<line x1="536.70" y1="399.80" x2="536.70" y2="402.60" stroke="#dc6b75" stroke-width="0.85"/>
<line x1="538.03" y1="401.30" x2="538.03" y2="404.10" stroke="#dc6b75" stroke-width="0.85"/>
<line x1="539.37" y1="402.00" x2="539.37" y2="404.80" stroke="#dc6b75" stroke-width="0.85"/>
<line x1="542.10" y1="404.77" x2="542.10" y2="407.57" stroke="#dc6b75" stroke-width="0.85"/>
<line x1="547.90" y1="415.00" x2="547.90" y2="417.80" stroke="#dc6b75" stroke-width="0.85"/>
<line x1="553.00" y1="419.80" x2="553.00" y2="422.60" stroke="#dc6b75" stroke-width="0.85"/>
<line x1="574.90" y1="429.30" x2="574.90" y2="432.10" stroke="#dc6b75" stroke-width="0.85"/>
<path d="M510.60 374.10 H511.35V375.90 H512.10V377.70 H513.47V378.57 H514.83V379.43 H516.20V380.30 H517.75V381.80 H519.30V383.30 H520.67V385.00 H522.03V386.70 H523.40V388.40 H524.77V389.27 H526.13V390.13 H527.50V391.00 H528.75V392.80 H530.00V394.60 H531.53V395.27 H533.07V395.93 H534.60V396.60 H536.15V398.15 H537.70V399.70 H539.07V401.07 H540.43V402.43 H541.80V403.80 H543.30V405.30 H544.80V406.80 H546.35V408.35 H547.90V409.90 L550.80 410.20 H551.20V411.80 H551.60V413.40 L560.30 413.40 H560.70V415.10 H561.10V416.80 H561.33V418.50 H561.57V420.20 H561.80V421.90 H562.50V423.35 H563.20V424.80 L569.10 424.80 L569.10 431.40 L575.70 431.40 L575.70 440.10 L631.90 440.10 L631.90 448.90" stroke="#6cb9e2" stroke-width="1.05" fill="none" stroke-linejoin="miter"/>
<line x1="512.10" y1="376.30" x2="512.10" y2="379.10" stroke="#6cb9e2" stroke-width="0.85"/>
<line x1="513.47" y1="377.17" x2="513.47" y2="379.97" stroke="#6cb9e2" stroke-width="0.85"/>
<line x1="514.83" y1="378.03" x2="514.83" y2="380.83" stroke="#6cb9e2" stroke-width="0.85"/>
<line x1="516.20" y1="378.90" x2="516.20" y2="381.70" stroke="#6cb9e2" stroke-width="0.85"/>
<line x1="517.75" y1="380.40" x2="517.75" y2="383.20" stroke="#6cb9e2" stroke-width="0.85"/>
<line x1="520.67" y1="383.60" x2="520.67" y2="386.40" stroke="#6cb9e2" stroke-width="0.85"/>
<line x1="522.03" y1="385.30" x2="522.03" y2="388.10" stroke="#6cb9e2" stroke-width="0.85"/>
<line x1="523.40" y1="387.00" x2="523.40" y2="389.80" stroke="#6cb9e2" stroke-width="0.85"/>
<line x1="526.13" y1="388.73" x2="526.13" y2="391.53" stroke="#6cb9e2" stroke-width="0.85"/>
<line x1="528.75" y1="391.40" x2="528.75" y2="394.20" stroke="#6cb9e2" stroke-width="0.85"/>
<line x1="531.53" y1="393.87" x2="531.53" y2="396.67" stroke="#6cb9e2" stroke-width="0.85"/>
<line x1="536.15" y1="396.75" x2="536.15" y2="399.55" stroke="#6cb9e2" stroke-width="0.85"/>
<line x1="537.70" y1="398.30" x2="537.70" y2="401.10" stroke="#6cb9e2" stroke-width="0.85"/>
<line x1="539.07" y1="399.67" x2="539.07" y2="402.47" stroke="#6cb9e2" stroke-width="0.85"/>
<line x1="540.43" y1="401.03" x2="540.43" y2="403.83" stroke="#6cb9e2" stroke-width="0.85"/>
<line x1="543.30" y1="403.90" x2="543.30" y2="406.70" stroke="#6cb9e2" stroke-width="0.85"/>
<line x1="544.80" y1="405.40" x2="544.80" y2="408.20" stroke="#6cb9e2" stroke-width="0.85"/>
<line x1="560.30" y1="412.00" x2="560.30" y2="414.80" stroke="#6cb9e2" stroke-width="0.85"/>
<line x1="551.00" y1="408.80" x2="551.00" y2="411.60" stroke="#6cb9e2" stroke-width="0.8"/>
<line x1="560.50" y1="423.40" x2="560.50" y2="426.20" stroke="#6cb9e2" stroke-width="0.8"/>
<line x1="569.50" y1="430.00" x2="569.50" y2="432.80" stroke="#6cb9e2" stroke-width="0.8"/>
<line x1="558.00" y1="412.00" x2="558.00" y2="414.80" stroke="#6cb9e2" stroke-width="0.8"/>
<text x="57.00" y="559.70" font-size="9.3" fill="#1a1a1a" text-anchor="start" font-weight="bold">OS:</text>
<line x1="117.00" y1="552.70" x2="123.10" y2="552.70" stroke="#dc6b75" stroke-width="1.1"/>
<line x1="120.05" y1="551.30" x2="120.05" y2="554.10" stroke="#dc6b75" stroke-width="0.8"/>
<text x="126.60" y="555.70" font-size="8.2" fill="#222" text-anchor="start">High</text>
<line x1="152.40" y1="552.70" x2="158.50" y2="552.70" stroke="#6cb9e2" stroke-width="1.1"/>
<line x1="155.45" y1="551.30" x2="155.45" y2="554.10" stroke="#6cb9e2" stroke-width="0.8"/>
<text x="162.00" y="555.70" font-size="8.2" fill="#222" text-anchor="start">Low</text>
<line x1="74.60" y1="568.10" x2="74.60" y2="651.40" stroke="#262626" stroke-width="1.0"/>
<line x1="74.10" y1="650.90" x2="208.90" y2="650.90" stroke="#262626" stroke-width="1.0"/>
<line x1="72.60" y1="647.20" x2="74.60" y2="647.20" stroke="#262626" stroke-width="0.8"/>
<text x="68.00" y="649.95" font-size="7.8" fill="#262626" text-anchor="end">0.00</text>
<line x1="72.60" y1="628.31" x2="74.60" y2="628.31" stroke="#262626" stroke-width="0.8"/>
<text x="68.00" y="631.06" font-size="7.8" fill="#262626" text-anchor="end">0.25</text>
<line x1="72.60" y1="609.42" x2="74.60" y2="609.42" stroke="#262626" stroke-width="0.8"/>
<text x="68.00" y="612.17" font-size="7.8" fill="#262626" text-anchor="end">0.50</text>
<line x1="72.60" y1="590.54" x2="74.60" y2="590.54" stroke="#262626" stroke-width="0.8"/>
<text x="68.00" y="593.29" font-size="7.8" fill="#262626" text-anchor="end">0.75</text>
<line x1="72.60" y1="571.65" x2="74.60" y2="571.65" stroke="#262626" stroke-width="0.8"/>
<text x="68.00" y="574.40" font-size="7.8" fill="#262626" text-anchor="end">1.00</text>
<line x1="81.10" y1="650.90" x2="81.10" y2="652.90" stroke="#262626" stroke-width="0.8"/>
<text x="81.10" y="663.60" font-size="8.3" fill="#262626" text-anchor="middle">0</text>
<line x1="99.50" y1="650.90" x2="99.50" y2="652.90" stroke="#262626" stroke-width="0.8"/>
<text x="99.50" y="663.60" font-size="8.3" fill="#262626" text-anchor="middle">12</text>
<line x1="117.90" y1="650.90" x2="117.90" y2="652.90" stroke="#262626" stroke-width="0.8"/>
<text x="117.90" y="663.60" font-size="8.3" fill="#262626" text-anchor="middle">24</text>
<line x1="136.30" y1="650.90" x2="136.30" y2="652.90" stroke="#262626" stroke-width="0.8"/>
<text x="136.30" y="663.60" font-size="8.3" fill="#262626" text-anchor="middle">36</text>
<line x1="154.70" y1="650.90" x2="154.70" y2="652.90" stroke="#262626" stroke-width="0.8"/>
<text x="154.70" y="663.60" font-size="8.3" fill="#262626" text-anchor="middle">48</text>
<line x1="173.10" y1="650.90" x2="173.10" y2="652.90" stroke="#262626" stroke-width="0.8"/>
<text x="173.10" y="663.60" font-size="8.3" fill="#262626" text-anchor="middle">60</text>
<line x1="191.50" y1="650.90" x2="191.50" y2="652.90" stroke="#262626" stroke-width="0.8"/>
<text x="191.50" y="663.60" font-size="8.3" fill="#262626" text-anchor="middle">72</text>
<text x="141.60" y="677.00" font-size="8.3" fill="#262626" text-anchor="middle">Time (months)</text>
<text x="44.80" y="610.80" font-size="8.5" fill="#262626" text-anchor="middle" transform="rotate(-90 44.80 610.80)">Overall probability (%)</text>
<text x="135.30" y="579.80" font-size="8.3" fill="#2a2a2a" text-anchor="start" font-style="italic">HR = 1.715</text>
<text x="134.20" y="589.60" font-size="8.3" fill="#2a2a2a" text-anchor="start" font-style="italic">(95% CI: 0.932&#8211;3.158)</text>
<text x="135.60" y="598.60" font-size="8.3" fill="#2a2a2a" text-anchor="start" font-style="italic">P = 0.083</text>
<path d="M82.10 571.60 H83.70V573.20 H84.95V574.70 H86.20V576.20 H86.90V577.57 H87.60V578.93 H88.30V580.30 H89.63V580.97 H90.97V581.63 H92.30V582.30 H93.67V582.83 H95.03V583.37 H96.40V583.90 H97.50V585.90 H98.25V587.30 H99.00V588.70 H99.75V590.10 H100.50V591.50 H101.53V593.23 H102.57V594.97 H103.60V596.70 H104.63V598.03 H105.67V599.37 H106.70V600.70 H108.70V602.30 H109.20V603.83 H109.70V605.37 H110.20V606.90 H111.00V608.40 H111.80V609.90 H112.60V611.60 L117.90 611.60 H118.50V613.80 L123.10 613.80 H123.80V615.10 H124.50V616.40 L128.40 616.40 H128.75V618.05 H129.10V619.70 H129.30V621.23 H129.50V622.77 H129.70V624.30 L138.20 624.30 H138.90V625.60 H139.60V626.90 H140.25V628.55 H140.90V630.20 L150.70 630.20 L150.70 638.50 L154.00 638.50" stroke="#dc6b75" stroke-width="1.05" fill="none" stroke-linejoin="miter"/>
<line x1="83.70" y1="571.80" x2="83.70" y2="574.60" stroke="#dc6b75" stroke-width="0.85"/>
<line x1="84.95" y1="573.30" x2="84.95" y2="576.10" stroke="#dc6b75" stroke-width="0.85"/>
<line x1="86.20" y1="574.80" x2="86.20" y2="577.60" stroke="#dc6b75" stroke-width="0.85"/>
<line x1="86.90" y1="576.17" x2="86.90" y2="578.97" stroke="#dc6b75" stroke-width="0.85"/>
<line x1="87.60" y1="577.53" x2="87.60" y2="580.33" stroke="#dc6b75" stroke-width="0.85"/>
<line x1="88.30" y1="578.90" x2="88.30" y2="581.70" stroke="#dc6b75" stroke-width="0.85"/>
<line x1="90.97" y1="580.23" x2="90.97" y2="583.03" stroke="#dc6b75" stroke-width="0.85"/>
<line x1="92.30" y1="580.90" x2="92.30" y2="583.70" stroke="#dc6b75" stroke-width="0.85"/>
<line x1="93.67" y1="581.43" x2="93.67" y2="584.23" stroke="#dc6b75" stroke-width="0.85"/>
<line x1="97.50" y1="584.50" x2="97.50" y2="587.30" stroke="#dc6b75" stroke-width="0.85"/>
<line x1="98.25" y1="585.90" x2="98.25" y2="588.70" stroke="#dc6b75" stroke-width="0.85"/>
<line x1="99.00" y1="587.30" x2="99.00" y2="590.10" stroke="#dc6b75" stroke-width="0.85"/>
<line x1="100.50" y1="590.10" x2="100.50" y2="592.90" stroke="#dc6b75" stroke-width="0.85"/>
<line x1="101.53" y1="591.83" x2="101.53" y2="594.63" stroke="#dc6b75" stroke-width="0.85"/>
<line x1="102.57" y1="593.57" x2="102.57" y2="596.37" stroke="#dc6b75" stroke-width="0.85"/>
<line x1="103.60" y1="595.30" x2="103.60" y2="598.10" stroke="#dc6b75" stroke-width="0.85"/>
<line x1="104.63" y1="596.63" x2="104.63" y2="599.43" stroke="#dc6b75" stroke-width="0.85"/>
<line x1="109.20" y1="602.43" x2="109.20" y2="605.23" stroke="#dc6b75" stroke-width="0.85"/>
<line x1="111.80" y1="608.50" x2="111.80" y2="611.30" stroke="#dc6b75" stroke-width="0.85"/>
<line x1="128.75" y1="615.00" x2="128.75" y2="617.80" stroke="#dc6b75" stroke-width="0.85"/>
<line x1="129.30" y1="618.30" x2="129.30" y2="621.10" stroke="#dc6b75" stroke-width="0.85"/>
<line x1="129.50" y1="619.83" x2="129.50" y2="622.63" stroke="#dc6b75" stroke-width="0.85"/>
<line x1="138.90" y1="624.20" x2="138.90" y2="627.00" stroke="#dc6b75" stroke-width="0.85"/>
<line x1="150.70" y1="637.10" x2="150.70" y2="639.90" stroke="#dc6b75" stroke-width="0.85"/>
<path d="M82.10 571.60 H83.47V572.13 H84.83V572.67 H86.20V573.20 H87.90V573.53 H89.60V573.87 H91.30V574.20 H92.35V575.45 H93.40V576.70 H94.90V578.00 H96.40V579.30 H97.95V581.10 H99.50V582.90 H100.53V584.60 H101.57V586.30 H102.60V588.00 H103.97V589.00 H105.33V590.00 H106.70V591.00 H107.70V592.53 H108.70V594.07 H109.70V595.60 H111.07V596.30 H112.43V597.00 H113.80V597.70 H114.85V598.85 H115.90V600.00 H117.00V601.53 H118.10V603.07 H119.20V604.60 H120.50V606.25 H121.80V607.90 H122.80V609.55 H123.80V611.20 H124.15V612.50 H124.50V613.80 L131.00 613.80 H132.00V615.10 H133.00V616.40 H133.65V617.90 H134.30V619.40 H135.95V620.20 H137.60V621.00 H139.13V621.43 H140.67V621.87 H142.20V622.30 H142.85V623.75 H143.50V625.20 L151.40 625.20 H151.70V626.70 H152.00V628.20 H153.00V629.85 H154.00V631.50 H155.30V632.85 H156.60V634.20 H157.95V634.50 H159.30V634.80 H159.62V636.45 H159.95V638.10 H160.28V639.75 H160.60V641.40 L190.80 641.40" stroke="#6cb9e2" stroke-width="1.05" fill="none" stroke-linejoin="miter"/>
<line x1="83.47" y1="570.73" x2="83.47" y2="573.53" stroke="#6cb9e2" stroke-width="0.85"/>
<line x1="87.90" y1="572.13" x2="87.90" y2="574.93" stroke="#6cb9e2" stroke-width="0.85"/>
<line x1="91.30" y1="572.80" x2="91.30" y2="575.60" stroke="#6cb9e2" stroke-width="0.85"/>
<line x1="92.35" y1="574.05" x2="92.35" y2="576.85" stroke="#6cb9e2" stroke-width="0.85"/>
<line x1="93.40" y1="575.30" x2="93.40" y2="578.10" stroke="#6cb9e2" stroke-width="0.85"/>
<line x1="94.90" y1="576.60" x2="94.90" y2="579.40" stroke="#6cb9e2" stroke-width="0.85"/>
<line x1="96.40" y1="577.90" x2="96.40" y2="580.70" stroke="#6cb9e2" stroke-width="0.85"/>
<line x1="97.95" y1="579.70" x2="97.95" y2="582.50" stroke="#6cb9e2" stroke-width="0.85"/>
<line x1="99.50" y1="581.50" x2="99.50" y2="584.30" stroke="#6cb9e2" stroke-width="0.85"/>
<line x1="100.53" y1="583.20" x2="100.53" y2="586.00" stroke="#6cb9e2" stroke-width="0.85"/>
<line x1="101.57" y1="584.90" x2="101.57" y2="587.70" stroke="#6cb9e2" stroke-width="0.85"/>
<line x1="102.60" y1="586.60" x2="102.60" y2="589.40" stroke="#6cb9e2" stroke-width="0.85"/>
<line x1="106.70" y1="589.60" x2="106.70" y2="592.40" stroke="#6cb9e2" stroke-width="0.85"/>
<line x1="107.70" y1="591.13" x2="107.70" y2="593.93" stroke="#6cb9e2" stroke-width="0.85"/>
<line x1="108.70" y1="592.67" x2="108.70" y2="595.47" stroke="#6cb9e2" stroke-width="0.85"/>
<line x1="112.43" y1="595.60" x2="112.43" y2="598.40" stroke="#6cb9e2" stroke-width="0.85"/>
<line x1="113.80" y1="596.30" x2="113.80" y2="599.10" stroke="#6cb9e2" stroke-width="0.85"/>
<line x1="114.85" y1="597.45" x2="114.85" y2="600.25" stroke="#6cb9e2" stroke-width="0.85"/>
<line x1="115.90" y1="598.60" x2="115.90" y2="601.40" stroke="#6cb9e2" stroke-width="0.85"/>
<line x1="119.20" y1="603.20" x2="119.20" y2="606.00" stroke="#6cb9e2" stroke-width="0.85"/>
<line x1="120.50" y1="604.85" x2="120.50" y2="607.65" stroke="#6cb9e2" stroke-width="0.85"/>
<line x1="124.50" y1="612.40" x2="124.50" y2="615.20" stroke="#6cb9e2" stroke-width="0.85"/>
<line x1="132.00" y1="612.40" x2="132.00" y2="615.20" stroke="#6cb9e2" stroke-width="0.85"/>
<line x1="133.00" y1="613.70" x2="133.00" y2="616.50" stroke="#6cb9e2" stroke-width="0.85"/>
<line x1="133.65" y1="615.00" x2="133.65" y2="617.80" stroke="#6cb9e2" stroke-width="0.85"/>
<line x1="135.95" y1="618.00" x2="135.95" y2="620.80" stroke="#6cb9e2" stroke-width="0.85"/>
<line x1="151.70" y1="625.30" x2="151.70" y2="628.10" stroke="#6cb9e2" stroke-width="0.85"/>
<line x1="154.00" y1="630.10" x2="154.00" y2="632.90" stroke="#6cb9e2" stroke-width="0.85"/>
<line x1="155.30" y1="631.45" x2="155.30" y2="634.25" stroke="#6cb9e2" stroke-width="0.85"/>
<line x1="157.95" y1="633.10" x2="157.95" y2="635.90" stroke="#6cb9e2" stroke-width="0.85"/>
<line x1="159.30" y1="633.40" x2="159.30" y2="636.20" stroke="#6cb9e2" stroke-width="0.85"/>
<line x1="171.70" y1="640.00" x2="171.70" y2="642.80" stroke="#6cb9e2" stroke-width="0.8"/>
<line x1="190.40" y1="640.00" x2="190.40" y2="642.80" stroke="#6cb9e2" stroke-width="0.8"/>
<line x1="152.30" y1="637.10" x2="152.30" y2="639.90" stroke="#dc6b75" stroke-width="0.8"/>
<line x1="154.00" y1="637.10" x2="154.00" y2="639.90" stroke="#dc6b75" stroke-width="0.8"/>
<line x1="131.50" y1="622.90" x2="131.50" y2="625.70" stroke="#dc6b75" stroke-width="0.8"/>
<line x1="120.00" y1="610.20" x2="120.00" y2="613.00" stroke="#dc6b75" stroke-width="0.8"/>
<line x1="141.00" y1="620.90" x2="141.00" y2="623.70" stroke="#6cb9e2" stroke-width="0.8"/>
<line x1="132.00" y1="612.40" x2="132.00" y2="615.20" stroke="#6cb9e2" stroke-width="0.8"/>
<text x="269.70" y="559.70" font-size="9.3" fill="#1a1a1a" text-anchor="start" font-weight="bold">irOS:</text>
<line x1="330.30" y1="552.70" x2="336.40" y2="552.70" stroke="#dc6b75" stroke-width="1.1"/>
<line x1="333.35" y1="551.30" x2="333.35" y2="554.10" stroke="#dc6b75" stroke-width="0.8"/>
<text x="339.90" y="555.70" font-size="8.2" fill="#222" text-anchor="start">High</text>
<line x1="365.70" y1="552.70" x2="371.80" y2="552.70" stroke="#6cb9e2" stroke-width="1.1"/>
<line x1="368.75" y1="551.30" x2="368.75" y2="554.10" stroke="#6cb9e2" stroke-width="0.8"/>
<text x="375.30" y="555.70" font-size="8.2" fill="#222" text-anchor="start">Low</text>
<line x1="289.40" y1="568.10" x2="289.40" y2="651.40" stroke="#262626" stroke-width="1.0"/>
<line x1="288.90" y1="650.90" x2="423.70" y2="650.90" stroke="#262626" stroke-width="1.0"/>
<line x1="287.40" y1="647.20" x2="289.40" y2="647.20" stroke="#262626" stroke-width="0.8"/>
<text x="282.80" y="649.95" font-size="7.8" fill="#262626" text-anchor="end">0.00</text>
<line x1="287.40" y1="628.31" x2="289.40" y2="628.31" stroke="#262626" stroke-width="0.8"/>
<text x="282.80" y="631.06" font-size="7.8" fill="#262626" text-anchor="end">0.25</text>
<line x1="287.40" y1="609.42" x2="289.40" y2="609.42" stroke="#262626" stroke-width="0.8"/>
<text x="282.80" y="612.17" font-size="7.8" fill="#262626" text-anchor="end">0.50</text>
<line x1="287.40" y1="590.54" x2="289.40" y2="590.54" stroke="#262626" stroke-width="0.8"/>
<text x="282.80" y="593.29" font-size="7.8" fill="#262626" text-anchor="end">0.75</text>
<line x1="287.40" y1="571.65" x2="289.40" y2="571.65" stroke="#262626" stroke-width="0.8"/>
<text x="282.80" y="574.40" font-size="7.8" fill="#262626" text-anchor="end">1.00</text>
<line x1="295.40" y1="650.90" x2="295.40" y2="652.90" stroke="#262626" stroke-width="0.8"/>
<text x="295.40" y="663.60" font-size="8.3" fill="#262626" text-anchor="middle">0</text>
<line x1="324.65" y1="650.90" x2="324.65" y2="652.90" stroke="#262626" stroke-width="0.8"/>
<text x="324.65" y="663.60" font-size="8.3" fill="#262626" text-anchor="middle">12</text>
<line x1="353.90" y1="650.90" x2="353.90" y2="652.90" stroke="#262626" stroke-width="0.8"/>
<text x="353.90" y="663.60" font-size="8.3" fill="#262626" text-anchor="middle">24</text>
<line x1="383.15" y1="650.90" x2="383.15" y2="652.90" stroke="#262626" stroke-width="0.8"/>
<text x="383.15" y="663.60" font-size="8.3" fill="#262626" text-anchor="middle">36</text>
<line x1="412.40" y1="650.90" x2="412.40" y2="652.90" stroke="#262626" stroke-width="0.8"/>
<text x="412.40" y="663.60" font-size="8.3" fill="#262626" text-anchor="middle">48</text>
<text x="356.40" y="677.00" font-size="8.3" fill="#262626" text-anchor="middle">Time (months)</text>
<text x="259.60" y="610.80" font-size="8.5" fill="#262626" text-anchor="middle" transform="rotate(-90 259.60 610.80)">Overall probability (%)</text>
<text x="343.70" y="579.80" font-size="8.3" fill="#2a2a2a" text-anchor="start" font-style="italic">HR = 1.859</text>
<text x="342.60" y="589.60" font-size="8.3" fill="#2a2a2a" text-anchor="start" font-style="italic">(95% CI: 0.962&#8211;3.59)</text>
<text x="344.00" y="598.60" font-size="8.3" fill="#2a2a2a" text-anchor="start" font-style="italic">P = 0.065</text>
<path d="M296.60 571.60 H298.13V572.63 H299.67V573.67 H301.20V574.70 H301.98V576.23 H302.75V577.75 H303.52V579.27 H304.30V580.80 H304.97V582.50 H305.63V584.20 H306.30V585.90 L312.40 585.90 H313.77V586.43 H315.13V586.97 H316.50V587.50 H318.05V588.50 H319.60V589.50 H321.15V591.05 H322.70V592.60 H324.20V594.10 H325.70V595.60 H326.75V597.15 H327.80V598.70 H328.80V600.25 H329.80V601.80 H331.35V602.30 H332.90V602.80 H333.90V604.35 H334.90V605.90 H335.95V607.40 H337.00V608.90 H338.50V610.05 H340.00V611.20 H340.50V612.68 H341.00V614.15 H341.50V615.62 H342.00V617.10 H343.30V617.53 H344.60V617.97 H345.90V618.40 H346.55V619.70 H347.20V621.00 H348.50V622.60 L353.80 622.60 H354.15V623.80 H354.50V625.00 L359.70 625.00 H360.05V626.45 H360.40V627.90 L370.90 627.90 H371.10V629.53 H371.30V631.17 H371.50V632.80 L389.30 632.80 L389.30 646.60" stroke="#dc6b75" stroke-width="1.05" fill="none" stroke-linejoin="miter"/>
<line x1="299.67" y1="572.27" x2="299.67" y2="575.07" stroke="#dc6b75" stroke-width="0.85"/>
<line x1="301.20" y1="573.30" x2="301.20" y2="576.10" stroke="#dc6b75" stroke-width="0.85"/>
<line x1="301.98" y1="574.83" x2="301.98" y2="577.62" stroke="#dc6b75" stroke-width="0.85"/>
<line x1="302.75" y1="576.35" x2="302.75" y2="579.15" stroke="#dc6b75" stroke-width="0.85"/>
<line x1="303.52" y1="577.88" x2="303.52" y2="580.67" stroke="#dc6b75" stroke-width="0.85"/>
<line x1="304.30" y1="579.40" x2="304.30" y2="582.20" stroke="#dc6b75" stroke-width="0.85"/>
<line x1="304.97" y1="581.10" x2="304.97" y2="583.90" stroke="#dc6b75" stroke-width="0.85"/>
<line x1="305.63" y1="582.80" x2="305.63" y2="585.60" stroke="#dc6b75" stroke-width="0.85"/>
<line x1="306.30" y1="584.50" x2="306.30" y2="587.30" stroke="#dc6b75" stroke-width="0.85"/>
<line x1="313.77" y1="584.50" x2="313.77" y2="587.30" stroke="#dc6b75" stroke-width="0.85"/>
<line x1="315.13" y1="585.03" x2="315.13" y2="587.83" stroke="#dc6b75" stroke-width="0.85"/>
<line x1="316.50" y1="585.57" x2="316.50" y2="588.37" stroke="#dc6b75" stroke-width="0.85"/>
<line x1="318.05" y1="586.10" x2="318.05" y2="588.90" stroke="#dc6b75" stroke-width="0.85"/>
<line x1="319.60" y1="587.10" x2="319.60" y2="589.90" stroke="#dc6b75" stroke-width="0.85"/>
<line x1="322.70" y1="589.65" x2="322.70" y2="592.45" stroke="#dc6b75" stroke-width="0.85"/>
<line x1="325.70" y1="592.70" x2="325.70" y2="595.50" stroke="#dc6b75" stroke-width="0.85"/>
<line x1="326.75" y1="594.20" x2="326.75" y2="597.00" stroke="#dc6b75" stroke-width="0.85"/>
<line x1="327.80" y1="595.75" x2="327.80" y2="598.55" stroke="#dc6b75" stroke-width="0.85"/>
<line x1="331.35" y1="600.40" x2="331.35" y2="603.20" stroke="#dc6b75" stroke-width="0.85"/>
<line x1="332.90" y1="600.90" x2="332.90" y2="603.70" stroke="#dc6b75" stroke-width="0.85"/>
<line x1="334.90" y1="602.95" x2="334.90" y2="605.75" stroke="#dc6b75" stroke-width="0.85"/>
<line x1="337.00" y1="606.00" x2="337.00" y2="608.80" stroke="#dc6b75" stroke-width="0.85"/>
<line x1="340.00" y1="608.65" x2="340.00" y2="611.45" stroke="#dc6b75" stroke-width="0.85"/>
<line x1="353.80" y1="621.20" x2="353.80" y2="624.00" stroke="#dc6b75" stroke-width="0.85"/>
<line x1="354.50" y1="623.60" x2="354.50" y2="626.40" stroke="#dc6b75" stroke-width="0.85"/>
<path d="M296.60 572.10 H298.00V572.62 H299.40V573.15 H300.80V573.68 H302.20V574.20 H303.90V575.03 H305.60V575.87 H307.30V576.70 L310.40 576.70 H312.10V578.40 H313.80V580.10 H315.50V581.80 L318.60 581.80 H319.97V583.00 H321.33V584.20 H322.70V585.40 H324.40V587.10 H326.10V588.80 H327.80V590.50 H328.82V592.17 H329.85V593.85 H330.88V595.53 H331.90V597.20 L337.00 597.20 H338.00V598.57 H339.00V599.93 H340.00V601.30 H341.32V601.62 H342.65V601.95 H343.98V602.27 H345.30V602.60 H346.60V604.25 H347.90V605.90 H349.20V606.57 H350.50V607.23 H351.80V607.90 H352.47V609.20 H353.13V610.50 H353.80V611.80 H354.23V613.13 H354.67V614.47 H355.10V615.80 H356.10V617.10 H357.10V618.40 L361.00 618.40 H361.18V619.77 H361.35V621.15 H361.52V622.52 H361.70V623.90 L383.40 623.90 L383.40 627.60 L406.40 627.60 H406.60V628.90 H406.80V630.20 H407.00V631.50 L409.60 631.50 L409.60 635.50 L414.90 635.50 H415.10V636.80 H415.30V638.10 H415.50V639.40 L417.50 639.40 H417.73V640.73 H417.97V642.07 H418.20V643.40 L422.10 643.40 L422.10 646.60" stroke="#6cb9e2" stroke-width="1.05" fill="none" stroke-linejoin="miter"/>
<line x1="299.40" y1="571.75" x2="299.40" y2="574.55" stroke="#6cb9e2" stroke-width="0.85"/>
<line x1="300.80" y1="572.28" x2="300.80" y2="575.08" stroke="#6cb9e2" stroke-width="0.85"/>
<line x1="302.20" y1="572.80" x2="302.20" y2="575.60" stroke="#6cb9e2" stroke-width="0.85"/>
<line x1="303.90" y1="573.63" x2="303.90" y2="576.43" stroke="#6cb9e2" stroke-width="0.85"/>
<line x1="305.60" y1="574.47" x2="305.60" y2="577.27" stroke="#6cb9e2" stroke-width="0.85"/>
<line x1="307.30" y1="575.30" x2="307.30" y2="578.10" stroke="#6cb9e2" stroke-width="0.85"/>
<line x1="312.10" y1="575.30" x2="312.10" y2="578.10" stroke="#6cb9e2" stroke-width="0.85"/>
<line x1="313.80" y1="577.00" x2="313.80" y2="579.80" stroke="#6cb9e2" stroke-width="0.85"/>
<line x1="315.50" y1="578.70" x2="315.50" y2="581.50" stroke="#6cb9e2" stroke-width="0.85"/>
<line x1="318.60" y1="580.40" x2="318.60" y2="583.20" stroke="#6cb9e2" stroke-width="0.85"/>
<line x1="319.97" y1="581.60" x2="319.97" y2="584.40" stroke="#6cb9e2" stroke-width="0.85"/>
<line x1="321.33" y1="582.80" x2="321.33" y2="585.60" stroke="#6cb9e2" stroke-width="0.85"/>
<line x1="322.70" y1="584.00" x2="322.70" y2="586.80" stroke="#6cb9e2" stroke-width="0.85"/>
<line x1="324.40" y1="585.70" x2="324.40" y2="588.50" stroke="#6cb9e2" stroke-width="0.85"/>
<line x1="327.80" y1="589.10" x2="327.80" y2="591.90" stroke="#6cb9e2" stroke-width="0.85"/>
<line x1="329.85" y1="592.45" x2="329.85" y2="595.25" stroke="#6cb9e2" stroke-width="0.85"/>
<line x1="330.88" y1="594.13" x2="330.88" y2="596.93" stroke="#6cb9e2" stroke-width="0.85"/>
<line x1="331.90" y1="595.80" x2="331.90" y2="598.60" stroke="#6cb9e2" stroke-width="0.85"/>
<line x1="340.00" y1="598.53" x2="340.00" y2="601.33" stroke="#6cb9e2" stroke-width="0.85"/>
<line x1="341.32" y1="599.90" x2="341.32" y2="602.70" stroke="#6cb9e2" stroke-width="0.85"/>
<line x1="343.98" y1="600.55" x2="343.98" y2="603.35" stroke="#6cb9e2" stroke-width="0.85"/>
<line x1="346.60" y1="601.20" x2="346.60" y2="604.00" stroke="#6cb9e2" stroke-width="0.85"/>
<line x1="347.90" y1="602.85" x2="347.90" y2="605.65" stroke="#6cb9e2" stroke-width="0.85"/>
<line x1="349.20" y1="604.50" x2="349.20" y2="607.30" stroke="#6cb9e2" stroke-width="0.85"/>
<line x1="361.00" y1="617.00" x2="361.00" y2="619.80" stroke="#6cb9e2" stroke-width="0.85"/>
<line x1="361.35" y1="619.75" x2="361.35" y2="622.55" stroke="#6cb9e2" stroke-width="0.85"/>
<line x1="372.50" y1="622.50" x2="372.50" y2="625.30" stroke="#6cb9e2" stroke-width="0.8"/>
<line x1="377.50" y1="622.50" x2="377.50" y2="625.30" stroke="#6cb9e2" stroke-width="0.8"/>
<line x1="364.00" y1="626.50" x2="364.00" y2="629.30" stroke="#dc6b75" stroke-width="0.8"/>
<line x1="369.00" y1="626.50" x2="369.00" y2="629.30" stroke="#dc6b75" stroke-width="0.8"/>
<line x1="375.60" y1="631.40" x2="375.60" y2="634.20" stroke="#dc6b75" stroke-width="0.8"/>
<line x1="386.60" y1="631.40" x2="386.60" y2="634.20" stroke="#dc6b75" stroke-width="0.8"/>
<text x="473.60" y="559.70" font-size="9.3" fill="#1a1a1a" text-anchor="start" font-weight="bold">irPFS:</text>
<line x1="545.20" y1="552.70" x2="551.30" y2="552.70" stroke="#dc6b75" stroke-width="1.1"/>
<line x1="548.25" y1="551.30" x2="548.25" y2="554.10" stroke="#dc6b75" stroke-width="0.8"/>
<text x="554.80" y="555.70" font-size="8.2" fill="#222" text-anchor="start">High</text>
<line x1="580.60" y1="552.70" x2="586.70" y2="552.70" stroke="#6cb9e2" stroke-width="1.1"/>
<line x1="583.65" y1="551.30" x2="583.65" y2="554.10" stroke="#6cb9e2" stroke-width="0.8"/>
<text x="590.20" y="555.70" font-size="8.2" fill="#222" text-anchor="start">Low</text>
<line x1="504.30" y1="568.10" x2="504.30" y2="651.40" stroke="#262626" stroke-width="1.0"/>
<line x1="503.80" y1="650.90" x2="638.60" y2="650.90" stroke="#262626" stroke-width="1.0"/>
<line x1="502.30" y1="647.20" x2="504.30" y2="647.20" stroke="#262626" stroke-width="0.8"/>
<text x="497.70" y="649.95" font-size="7.8" fill="#262626" text-anchor="end">0.00</text>
<line x1="502.30" y1="628.31" x2="504.30" y2="628.31" stroke="#262626" stroke-width="0.8"/>
<text x="497.70" y="631.06" font-size="7.8" fill="#262626" text-anchor="end">0.25</text>
<line x1="502.30" y1="609.42" x2="504.30" y2="609.42" stroke="#262626" stroke-width="0.8"/>
<text x="497.70" y="612.17" font-size="7.8" fill="#262626" text-anchor="end">0.50</text>
<line x1="502.30" y1="590.54" x2="504.30" y2="590.54" stroke="#262626" stroke-width="0.8"/>
<text x="497.70" y="593.29" font-size="7.8" fill="#262626" text-anchor="end">0.75</text>
<line x1="502.30" y1="571.65" x2="504.30" y2="571.65" stroke="#262626" stroke-width="0.8"/>
<text x="497.70" y="574.40" font-size="7.8" fill="#262626" text-anchor="end">1.00</text>
<line x1="510.20" y1="650.90" x2="510.20" y2="652.90" stroke="#262626" stroke-width="0.8"/>
<text x="510.20" y="663.60" font-size="8.3" fill="#262626" text-anchor="middle">0</text>
<line x1="539.50" y1="650.90" x2="539.50" y2="652.90" stroke="#262626" stroke-width="0.8"/>
<text x="539.50" y="663.60" font-size="8.3" fill="#262626" text-anchor="middle">12</text>
<line x1="568.80" y1="650.90" x2="568.80" y2="652.90" stroke="#262626" stroke-width="0.8"/>
<text x="568.80" y="663.60" font-size="8.3" fill="#262626" text-anchor="middle">24</text>
<line x1="598.10" y1="650.90" x2="598.10" y2="652.90" stroke="#262626" stroke-width="0.8"/>
<text x="598.10" y="663.60" font-size="8.3" fill="#262626" text-anchor="middle">36</text>
<line x1="627.40" y1="650.90" x2="627.40" y2="652.90" stroke="#262626" stroke-width="0.8"/>
<text x="627.40" y="663.60" font-size="8.3" fill="#262626" text-anchor="middle">48</text>
<text x="571.30" y="677.00" font-size="8.3" fill="#262626" text-anchor="middle">Time (months)</text>
<text x="474.50" y="610.80" font-size="8.5" fill="#262626" text-anchor="middle" transform="rotate(-90 474.50 610.80)">Overall probability (%)</text>
<text x="558.10" y="579.80" font-size="8.3" fill="#2a2a2a" text-anchor="start" font-style="italic">HR = 3.367</text>
<text x="557.00" y="589.60" font-size="8.3" fill="#2a2a2a" text-anchor="start" font-style="italic">(95% CI: 1.605&#8211;7.064)</text>
<text x="558.40" y="598.60" font-size="8.3" fill="#2a2a2a" text-anchor="start" font-style="italic">P = 0.001</text>
<path d="M511.10 571.60 H511.72V573.14 H512.34V574.68 H512.96V576.22 H513.58V577.76 H514.20V579.30 H514.95V580.82 H515.70V582.35 H516.45V583.88 H517.20V585.40 H517.90V586.77 H518.60V588.13 H519.30V589.50 H519.80V591.15 H520.30V592.80 H520.80V594.45 H521.30V596.10 L523.90 596.10 H525.27V596.30 H526.63V596.50 H528.00V596.70 H529.00V597.95 H530.00V599.20 L534.10 599.20 H535.40V600.75 H536.70V602.30 H538.20V603.55 H539.70V604.80 H541.80V605.30 H542.55V606.60 H543.30V607.90 H543.87V609.40 H544.43V610.90 H545.00V612.40 H546.10V613.85 H547.20V615.30 H547.55V616.75 H547.90V618.20 L550.80 618.20 H551.20V620.05 H551.60V621.90 H552.30V623.35 H553.00V624.80 L556.00 625.10 H556.17V626.58 H556.35V628.05 H556.53V629.52 H556.70V631.00 L574.90 631.00 H575.30V632.65 H575.70V634.30 L581.50 634.30 L581.50 638.20 L586.60 638.20 L586.60 643.10 L604.10 643.10 L604.10 646.70" stroke="#dc6b75" stroke-width="1.05" fill="none" stroke-linejoin="miter"/>
<line x1="512.34" y1="573.28" x2="512.34" y2="576.08" stroke="#dc6b75" stroke-width="0.85"/>
<line x1="512.96" y1="574.82" x2="512.96" y2="577.62" stroke="#dc6b75" stroke-width="0.85"/>
<line x1="513.58" y1="576.36" x2="513.58" y2="579.16" stroke="#dc6b75" stroke-width="0.85"/>
<line x1="514.20" y1="577.90" x2="514.20" y2="580.70" stroke="#dc6b75" stroke-width="0.85"/>
<line x1="514.95" y1="579.42" x2="514.95" y2="582.22" stroke="#dc6b75" stroke-width="0.85"/>
<line x1="515.70" y1="580.95" x2="515.70" y2="583.75" stroke="#dc6b75" stroke-width="0.85"/>
<line x1="516.45" y1="582.48" x2="516.45" y2="585.27" stroke="#dc6b75" stroke-width="0.85"/>
<line x1="517.20" y1="584.00" x2="517.20" y2="586.80" stroke="#dc6b75" stroke-width="0.85"/>
<line x1="517.90" y1="585.37" x2="517.90" y2="588.17" stroke="#dc6b75" stroke-width="0.85"/>
<line x1="518.60" y1="586.73" x2="518.60" y2="589.53" stroke="#dc6b75" stroke-width="0.85"/>
<line x1="519.30" y1="588.10" x2="519.30" y2="590.90" stroke="#dc6b75" stroke-width="0.85"/>
<line x1="520.30" y1="591.40" x2="520.30" y2="594.20" stroke="#dc6b75" stroke-width="0.85"/>
<line x1="521.30" y1="594.70" x2="521.30" y2="597.50" stroke="#dc6b75" stroke-width="0.85"/>
<line x1="525.27" y1="594.70" x2="525.27" y2="597.50" stroke="#dc6b75" stroke-width="0.85"/>
<line x1="528.00" y1="595.10" x2="528.00" y2="597.90" stroke="#dc6b75" stroke-width="0.85"/>
<line x1="530.00" y1="596.55" x2="530.00" y2="599.35" stroke="#dc6b75" stroke-width="0.85"/>
<line x1="534.10" y1="597.80" x2="534.10" y2="600.60" stroke="#dc6b75" stroke-width="0.85"/>
<line x1="535.40" y1="599.35" x2="535.40" y2="602.15" stroke="#dc6b75" stroke-width="0.85"/>
<line x1="536.70" y1="600.90" x2="536.70" y2="603.70" stroke="#dc6b75" stroke-width="0.85"/>
<line x1="538.20" y1="602.15" x2="538.20" y2="604.95" stroke="#dc6b75" stroke-width="0.85"/>
<line x1="539.70" y1="603.40" x2="539.70" y2="606.20" stroke="#dc6b75" stroke-width="0.85"/>
<line x1="541.80" y1="603.90" x2="541.80" y2="606.70" stroke="#dc6b75" stroke-width="0.85"/>
<line x1="547.20" y1="613.90" x2="547.20" y2="616.70" stroke="#dc6b75" stroke-width="0.85"/>
<line x1="547.90" y1="616.80" x2="547.90" y2="619.60" stroke="#dc6b75" stroke-width="0.85"/>
<line x1="551.20" y1="616.80" x2="551.20" y2="619.60" stroke="#dc6b75" stroke-width="0.85"/>
<line x1="556.00" y1="623.70" x2="556.00" y2="626.50" stroke="#dc6b75" stroke-width="0.85"/>
<line x1="575.70" y1="631.25" x2="575.70" y2="634.05" stroke="#dc6b75" stroke-width="0.85"/>
<line x1="586.60" y1="636.80" x2="586.60" y2="639.60" stroke="#dc6b75" stroke-width="0.85"/>
<path d="M510.60 572.10 H511.35V573.90 H512.10V575.70 H513.47V576.40 H514.83V577.10 H516.20V577.80 H517.75V579.30 H519.30V580.80 H520.67V582.33 H522.03V583.87 H523.40V585.40 H524.90V586.70 H526.40V588.00 H527.95V588.75 H529.50V589.50 H531.05V590.50 H532.60V591.50 H533.97V592.53 H535.33V593.57 H536.70V594.60 H537.70V596.40 H538.70V598.20 H540.25V600.00 H541.80V601.80 H543.05V602.80 H544.30V603.80 H544.55V604.95 H544.80V606.10 L560.30 606.10 H560.70V607.80 H561.10V609.50 H561.80V611.30 H562.50V613.10 H562.73V614.47 H562.97V615.83 H563.20V617.20 L569.10 617.20 L569.10 622.20 L575.70 622.20 L575.70 628.20 L621.20 628.20 L621.20 634.60 L629.40 634.60 L629.40 640.90 L631.40 640.90 L631.40 646.70" stroke="#6cb9e2" stroke-width="1.05" fill="none" stroke-linejoin="miter"/>
<line x1="511.35" y1="572.50" x2="511.35" y2="575.30" stroke="#6cb9e2" stroke-width="0.85"/>
<line x1="512.10" y1="574.30" x2="512.10" y2="577.10" stroke="#6cb9e2" stroke-width="0.85"/>
<line x1="513.47" y1="575.00" x2="513.47" y2="577.80" stroke="#6cb9e2" stroke-width="0.85"/>
<line x1="514.83" y1="575.70" x2="514.83" y2="578.50" stroke="#6cb9e2" stroke-width="0.85"/>
<line x1="517.75" y1="577.90" x2="517.75" y2="580.70" stroke="#6cb9e2" stroke-width="0.85"/>
<line x1="519.30" y1="579.40" x2="519.30" y2="582.20" stroke="#6cb9e2" stroke-width="0.85"/>
<line x1="520.67" y1="580.93" x2="520.67" y2="583.73" stroke="#6cb9e2" stroke-width="0.85"/>
<line x1="522.03" y1="582.47" x2="522.03" y2="585.27" stroke="#6cb9e2" stroke-width="0.85"/>
<line x1="523.40" y1="584.00" x2="523.40" y2="586.80" stroke="#6cb9e2" stroke-width="0.85"/>
<line x1="526.40" y1="586.60" x2="526.40" y2="589.40" stroke="#6cb9e2" stroke-width="0.85"/>
<line x1="527.95" y1="587.35" x2="527.95" y2="590.15" stroke="#6cb9e2" stroke-width="0.85"/>
<line x1="529.50" y1="588.10" x2="529.50" y2="590.90" stroke="#6cb9e2" stroke-width="0.85"/>
<line x1="531.05" y1="589.10" x2="531.05" y2="591.90" stroke="#6cb9e2" stroke-width="0.85"/>
<line x1="532.60" y1="590.10" x2="532.60" y2="592.90" stroke="#6cb9e2" stroke-width="0.85"/>
<line x1="535.33" y1="592.17" x2="535.33" y2="594.97" stroke="#6cb9e2" stroke-width="0.85"/>
<line x1="536.70" y1="593.20" x2="536.70" y2="596.00" stroke="#6cb9e2" stroke-width="0.85"/>
<line x1="537.70" y1="595.00" x2="537.70" y2="597.80" stroke="#6cb9e2" stroke-width="0.85"/>
<line x1="538.70" y1="596.80" x2="538.70" y2="599.60" stroke="#6cb9e2" stroke-width="0.85"/>
<line x1="540.25" y1="598.60" x2="540.25" y2="601.40" stroke="#6cb9e2" stroke-width="0.85"/>
<line x1="541.80" y1="600.40" x2="541.80" y2="603.20" stroke="#6cb9e2" stroke-width="0.85"/>
<line x1="543.05" y1="601.40" x2="543.05" y2="604.20" stroke="#6cb9e2" stroke-width="0.85"/>
<line x1="544.30" y1="602.40" x2="544.30" y2="605.20" stroke="#6cb9e2" stroke-width="0.85"/>
<line x1="544.55" y1="603.55" x2="544.55" y2="606.35" stroke="#6cb9e2" stroke-width="0.85"/>
<line x1="575.70" y1="620.80" x2="575.70" y2="623.60" stroke="#6cb9e2" stroke-width="0.85"/>
<line x1="621.20" y1="626.80" x2="621.20" y2="629.60" stroke="#6cb9e2" stroke-width="0.85"/>
<line x1="547.50" y1="604.70" x2="547.50" y2="607.50" stroke="#6cb9e2" stroke-width="0.8"/>
<line x1="551.50" y1="604.70" x2="551.50" y2="607.50" stroke="#6cb9e2" stroke-width="0.8"/>
<line x1="569.50" y1="620.80" x2="569.50" y2="623.60" stroke="#6cb9e2" stroke-width="0.8"/>
<line x1="562.00" y1="611.70" x2="562.00" y2="614.50" stroke="#6cb9e2" stroke-width="0.8"/>
<line x1="575.20" y1="632.90" x2="575.20" y2="635.70" stroke="#dc6b75" stroke-width="0.8"/></svg>
</body></html>
